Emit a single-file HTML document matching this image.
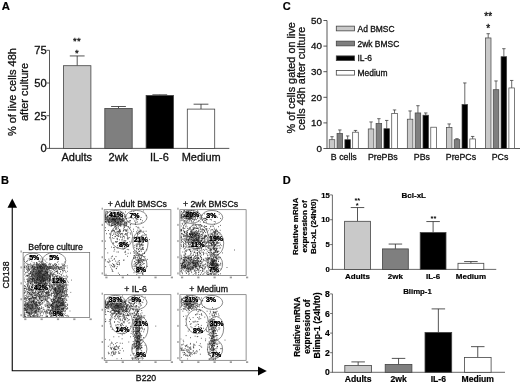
<!DOCTYPE html>
<html><head><meta charset="utf-8"><title>Figure</title>
<style>html,body{margin:0;padding:0;background:#fff;}svg{display:block}text{font-family:"Liberation Sans",Arial,sans-serif}</style>
</head><body>
<svg width="520" height="383" viewBox="0 0 520 383">
<rect width="520" height="383" fill="#fff"/>
<text x="1.80" y="10.40" font-size="11.3" text-anchor="start" font-weight="bold" fill="#000" stroke="#000" stroke-width="0.2" >A</text>
<line x1="49.50" y1="50.30" x2="49.50" y2="148.85" stroke="#444" stroke-width="0.9"/>
<line x1="49.50" y1="148.40" x2="229.30" y2="148.40" stroke="#444" stroke-width="0.9"/>
<line x1="46.50" y1="50.30" x2="49.50" y2="50.30" stroke="#444" stroke-width="0.9"/>
<text x="46.70" y="54.20" font-size="11.2" text-anchor="end" fill="#111" stroke="#111" stroke-width="0.3" >75</text>
<line x1="46.50" y1="83.00" x2="49.50" y2="83.00" stroke="#444" stroke-width="0.9"/>
<text x="46.70" y="86.90" font-size="11.2" text-anchor="end" fill="#111" stroke="#111" stroke-width="0.3" >50</text>
<line x1="46.50" y1="115.70" x2="49.50" y2="115.70" stroke="#444" stroke-width="0.9"/>
<text x="46.70" y="119.60" font-size="11.2" text-anchor="end" fill="#111" stroke="#111" stroke-width="0.3" >25</text>
<line x1="46.50" y1="148.40" x2="49.50" y2="148.40" stroke="#444" stroke-width="0.9"/>
<text x="46.70" y="152.30" font-size="11.2" text-anchor="end" fill="#111" stroke="#111" stroke-width="0.3" >0</text>
<text x="16.40" y="92.10" font-size="11" text-anchor="middle" transform="rotate(-90 16.40 92.10)" fill="#111" stroke="#111" stroke-width="0.3" >% of live cells 48h</text>
<text x="28.40" y="92.00" font-size="11" text-anchor="middle" transform="rotate(-90 28.40 92.00)" fill="#111" stroke="#111" stroke-width="0.3" >after culture</text>
<line x1="77.20" y1="65.70" x2="77.20" y2="55.95" stroke="#2a2a2a" stroke-width="0.8"/>
<line x1="69.80" y1="55.95" x2="84.60" y2="55.95" stroke="#2a2a2a" stroke-width="0.8"/>
<rect x="63.50" y="65.70" width="27.40" height="82.70" fill="#c9c9c9" stroke="#444" stroke-width="0.8"/>
<line x1="118.50" y1="108.40" x2="118.50" y2="106.50" stroke="#2a2a2a" stroke-width="0.8"/>
<line x1="111.10" y1="106.50" x2="125.90" y2="106.50" stroke="#2a2a2a" stroke-width="0.8"/>
<rect x="104.80" y="108.40" width="27.40" height="40.00" fill="#7f7f7f" stroke="#444" stroke-width="0.8"/>
<line x1="159.80" y1="95.40" x2="159.80" y2="94.80" stroke="#2a2a2a" stroke-width="0.8"/>
<line x1="152.40" y1="94.80" x2="167.20" y2="94.80" stroke="#2a2a2a" stroke-width="0.8"/>
<rect x="146.10" y="95.40" width="27.40" height="53.00" fill="#000" stroke="#444" stroke-width="0.8"/>
<line x1="201.00" y1="109.10" x2="201.00" y2="104.20" stroke="#2a2a2a" stroke-width="0.8"/>
<line x1="193.60" y1="104.20" x2="208.40" y2="104.20" stroke="#2a2a2a" stroke-width="0.8"/>
<rect x="187.30" y="109.10" width="27.40" height="39.30" fill="#fff" stroke="#444" stroke-width="0.8"/>
<text x="76.80" y="161.00" font-size="11" text-anchor="middle" fill="#111" stroke="#111" stroke-width="0.3" >Adults</text>
<text x="118.30" y="161.00" font-size="11" text-anchor="middle" fill="#111" stroke="#111" stroke-width="0.3" >2wk</text>
<text x="159.40" y="161.00" font-size="11" text-anchor="middle" fill="#111" stroke="#111" stroke-width="0.3" >IL-6</text>
<text x="201.20" y="161.00" font-size="11" text-anchor="middle" fill="#111" stroke="#111" stroke-width="0.3" >Medium</text>
<text x="77.10" y="43.70" font-size="9.5" text-anchor="middle" fill="#111" stroke="#111" stroke-width="0.3" letter-spacing="0.4">**</text>
<text x="76.90" y="55.80" font-size="9.5" text-anchor="middle" fill="#111" stroke="#111" stroke-width="0.3" >*</text>
<text x="282.70" y="10.30" font-size="11" text-anchor="start" font-weight="bold" fill="#000" stroke="#000" stroke-width="0.2" >C</text>
<line x1="327.00" y1="20.50" x2="327.00" y2="148.95" stroke="#444" stroke-width="0.9"/>
<line x1="327.00" y1="148.50" x2="520.00" y2="148.50" stroke="#444" stroke-width="0.9"/>
<line x1="323.40" y1="20.50" x2="327.00" y2="20.50" stroke="#444" stroke-width="0.9"/>
<text x="322.00" y="23.70" font-size="9.8" text-anchor="end" fill="#111" stroke="#111" stroke-width="0.3" >50</text>
<line x1="323.40" y1="46.10" x2="327.00" y2="46.10" stroke="#444" stroke-width="0.9"/>
<text x="322.00" y="49.30" font-size="9.8" text-anchor="end" fill="#111" stroke="#111" stroke-width="0.3" >40</text>
<line x1="323.40" y1="71.70" x2="327.00" y2="71.70" stroke="#444" stroke-width="0.9"/>
<text x="322.00" y="74.90" font-size="9.8" text-anchor="end" fill="#111" stroke="#111" stroke-width="0.3" >30</text>
<line x1="323.40" y1="97.30" x2="327.00" y2="97.30" stroke="#444" stroke-width="0.9"/>
<text x="322.00" y="100.50" font-size="9.8" text-anchor="end" fill="#111" stroke="#111" stroke-width="0.3" >20</text>
<line x1="323.40" y1="122.90" x2="327.00" y2="122.90" stroke="#444" stroke-width="0.9"/>
<text x="322.00" y="126.10" font-size="9.8" text-anchor="end" fill="#111" stroke="#111" stroke-width="0.3" >10</text>
<line x1="323.40" y1="148.50" x2="327.00" y2="148.50" stroke="#444" stroke-width="0.9"/>
<text x="322.00" y="151.70" font-size="9.8" text-anchor="end" fill="#111" stroke="#111" stroke-width="0.3" >0</text>
<text x="294.60" y="77.80" font-size="10.9" text-anchor="middle" transform="rotate(-90 294.60 77.80)" fill="#111" stroke="#111" stroke-width="0.3" >% of cells gated on live</text>
<text x="305.50" y="78.40" font-size="10.9" text-anchor="middle" transform="rotate(-90 305.50 78.40)" fill="#111" stroke="#111" stroke-width="0.3" >cells 48h after culture</text>
<rect x="336.3" y="26.15" width="18.2" height="4.7" fill="#c9c9c9" stroke="#444" stroke-width="0.8"/>
<text x="357.50" y="31.50" font-size="8.45" text-anchor="start" fill="#111" stroke="#111" stroke-width="0.3" >Ad BMSC</text>
<rect x="336.3" y="41.15" width="18.2" height="4.7" fill="#7f7f7f" stroke="#444" stroke-width="0.8"/>
<text x="357.50" y="46.50" font-size="8.45" text-anchor="start" fill="#111" stroke="#111" stroke-width="0.3" >2wk BMSC</text>
<rect x="336.3" y="55.90" width="18.2" height="4.7" fill="#000" stroke="#444" stroke-width="0.8"/>
<text x="357.50" y="61.25" font-size="8.45" text-anchor="start" fill="#111" stroke="#111" stroke-width="0.3" >IL-6</text>
<rect x="336.3" y="70.40" width="18.2" height="4.7" fill="#fff" stroke="#444" stroke-width="0.8"/>
<text x="357.50" y="75.75" font-size="8.45" text-anchor="start" fill="#111" stroke="#111" stroke-width="0.3" >Medium</text>
<line x1="332.00" y1="139.70" x2="332.00" y2="136.70" stroke="#2a2a2a" stroke-width="0.7"/>
<line x1="330.30" y1="136.70" x2="333.70" y2="136.70" stroke="#2a2a2a" stroke-width="0.7"/>
<rect x="329.20" y="139.70" width="5.60" height="8.80" fill="#c9c9c9" stroke="#444" stroke-width="0.7"/>
<line x1="339.83" y1="133.45" x2="339.83" y2="129.95" stroke="#2a2a2a" stroke-width="0.7"/>
<line x1="338.13" y1="129.95" x2="341.53" y2="129.95" stroke="#2a2a2a" stroke-width="0.7"/>
<rect x="337.03" y="133.45" width="5.60" height="15.05" fill="#7f7f7f" stroke="#444" stroke-width="0.7"/>
<line x1="347.66" y1="139.70" x2="347.66" y2="135.95" stroke="#2a2a2a" stroke-width="0.7"/>
<line x1="345.96" y1="135.95" x2="349.36" y2="135.95" stroke="#2a2a2a" stroke-width="0.7"/>
<rect x="344.86" y="139.70" width="5.60" height="8.80" fill="#000" stroke="#444" stroke-width="0.7"/>
<line x1="355.49" y1="132.20" x2="355.49" y2="130.45" stroke="#2a2a2a" stroke-width="0.7"/>
<line x1="353.79" y1="130.45" x2="357.19" y2="130.45" stroke="#2a2a2a" stroke-width="0.7"/>
<rect x="352.69" y="132.20" width="5.60" height="16.30" fill="#fff" stroke="#444" stroke-width="0.7"/>
<line x1="371.05" y1="128.95" x2="371.05" y2="121.95" stroke="#2a2a2a" stroke-width="0.7"/>
<line x1="369.35" y1="121.95" x2="372.75" y2="121.95" stroke="#2a2a2a" stroke-width="0.7"/>
<rect x="368.25" y="128.95" width="5.60" height="19.55" fill="#c9c9c9" stroke="#444" stroke-width="0.7"/>
<line x1="378.88" y1="123.45" x2="378.88" y2="118.70" stroke="#2a2a2a" stroke-width="0.7"/>
<line x1="377.18" y1="118.70" x2="380.58" y2="118.70" stroke="#2a2a2a" stroke-width="0.7"/>
<rect x="376.08" y="123.45" width="5.60" height="25.05" fill="#7f7f7f" stroke="#444" stroke-width="0.7"/>
<line x1="386.71" y1="128.70" x2="386.71" y2="120.45" stroke="#2a2a2a" stroke-width="0.7"/>
<line x1="385.01" y1="120.45" x2="388.41" y2="120.45" stroke="#2a2a2a" stroke-width="0.7"/>
<rect x="383.91" y="128.70" width="5.60" height="19.80" fill="#000" stroke="#444" stroke-width="0.7"/>
<line x1="394.54" y1="113.45" x2="394.54" y2="109.95" stroke="#2a2a2a" stroke-width="0.7"/>
<line x1="392.84" y1="109.95" x2="396.24" y2="109.95" stroke="#2a2a2a" stroke-width="0.7"/>
<rect x="391.74" y="113.45" width="5.60" height="35.05" fill="#fff" stroke="#444" stroke-width="0.7"/>
<line x1="410.10" y1="119.20" x2="410.10" y2="110.95" stroke="#2a2a2a" stroke-width="0.7"/>
<line x1="408.40" y1="110.95" x2="411.80" y2="110.95" stroke="#2a2a2a" stroke-width="0.7"/>
<rect x="407.30" y="119.20" width="5.60" height="29.30" fill="#c9c9c9" stroke="#444" stroke-width="0.7"/>
<line x1="417.93" y1="112.95" x2="417.93" y2="105.70" stroke="#2a2a2a" stroke-width="0.7"/>
<line x1="416.23" y1="105.70" x2="419.63" y2="105.70" stroke="#2a2a2a" stroke-width="0.7"/>
<rect x="415.13" y="112.95" width="5.60" height="35.55" fill="#7f7f7f" stroke="#444" stroke-width="0.7"/>
<line x1="425.76" y1="115.20" x2="425.76" y2="112.95" stroke="#2a2a2a" stroke-width="0.7"/>
<line x1="424.06" y1="112.95" x2="427.46" y2="112.95" stroke="#2a2a2a" stroke-width="0.7"/>
<rect x="422.96" y="115.20" width="5.60" height="33.30" fill="#000" stroke="#444" stroke-width="0.7"/>
<rect x="430.79" y="127.20" width="5.60" height="21.30" fill="#fff" stroke="#444" stroke-width="0.7"/>
<line x1="449.15" y1="127.45" x2="449.15" y2="123.95" stroke="#2a2a2a" stroke-width="0.7"/>
<line x1="447.45" y1="123.95" x2="450.85" y2="123.95" stroke="#2a2a2a" stroke-width="0.7"/>
<rect x="446.35" y="127.45" width="5.60" height="21.05" fill="#c9c9c9" stroke="#444" stroke-width="0.7"/>
<line x1="456.98" y1="139.70" x2="456.98" y2="138.70" stroke="#2a2a2a" stroke-width="0.7"/>
<line x1="455.28" y1="138.70" x2="458.68" y2="138.70" stroke="#2a2a2a" stroke-width="0.7"/>
<rect x="454.18" y="139.70" width="5.60" height="8.80" fill="#7f7f7f" stroke="#444" stroke-width="0.7"/>
<line x1="464.81" y1="104.45" x2="464.81" y2="82.95" stroke="#2a2a2a" stroke-width="0.7"/>
<line x1="463.11" y1="82.95" x2="466.51" y2="82.95" stroke="#2a2a2a" stroke-width="0.7"/>
<rect x="462.01" y="104.45" width="5.60" height="44.05" fill="#000" stroke="#444" stroke-width="0.7"/>
<line x1="472.64" y1="138.95" x2="472.64" y2="136.45" stroke="#2a2a2a" stroke-width="0.7"/>
<line x1="470.94" y1="136.45" x2="474.34" y2="136.45" stroke="#2a2a2a" stroke-width="0.7"/>
<rect x="469.84" y="138.95" width="5.60" height="9.55" fill="#fff" stroke="#444" stroke-width="0.7"/>
<line x1="488.20" y1="37.95" x2="488.20" y2="33.70" stroke="#2a2a2a" stroke-width="0.7"/>
<line x1="486.50" y1="33.70" x2="489.90" y2="33.70" stroke="#2a2a2a" stroke-width="0.7"/>
<rect x="485.40" y="37.95" width="5.60" height="110.55" fill="#c9c9c9" stroke="#444" stroke-width="0.7"/>
<line x1="496.03" y1="89.70" x2="496.03" y2="80.95" stroke="#2a2a2a" stroke-width="0.7"/>
<line x1="494.33" y1="80.95" x2="497.73" y2="80.95" stroke="#2a2a2a" stroke-width="0.7"/>
<rect x="493.23" y="89.70" width="5.60" height="58.80" fill="#7f7f7f" stroke="#444" stroke-width="0.7"/>
<line x1="503.86" y1="56.70" x2="503.86" y2="48.70" stroke="#2a2a2a" stroke-width="0.7"/>
<line x1="502.16" y1="48.70" x2="505.56" y2="48.70" stroke="#2a2a2a" stroke-width="0.7"/>
<rect x="501.06" y="56.70" width="5.60" height="91.80" fill="#000" stroke="#444" stroke-width="0.7"/>
<line x1="511.69" y1="87.95" x2="511.69" y2="80.45" stroke="#2a2a2a" stroke-width="0.7"/>
<line x1="509.99" y1="80.45" x2="513.39" y2="80.45" stroke="#2a2a2a" stroke-width="0.7"/>
<rect x="508.89" y="87.95" width="5.60" height="60.55" fill="#fff" stroke="#444" stroke-width="0.7"/>
<text x="343.80" y="160.40" font-size="8.8" text-anchor="middle" fill="#111" stroke="#111" stroke-width="0.3" >B cells</text>
<text x="382.85" y="160.40" font-size="8.8" text-anchor="middle" fill="#111" stroke="#111" stroke-width="0.3" >PrePBs</text>
<text x="421.90" y="160.40" font-size="8.8" text-anchor="middle" fill="#111" stroke="#111" stroke-width="0.3" >PBs</text>
<text x="460.95" y="160.40" font-size="8.8" text-anchor="middle" fill="#111" stroke="#111" stroke-width="0.3" >PrePCs</text>
<text x="500.00" y="160.40" font-size="8.8" text-anchor="middle" fill="#111" stroke="#111" stroke-width="0.3" >PCs</text>
<text x="488.25" y="20.20" font-size="10" text-anchor="middle" fill="#111" stroke="#111" stroke-width="0.3" >**</text>
<text x="488.25" y="32.20" font-size="10" text-anchor="middle" fill="#111" stroke="#111" stroke-width="0.3" >*</text>
<text x="282.70" y="184.40" font-size="11" text-anchor="start" font-weight="bold" fill="#000" stroke="#000" stroke-width="0.2" >D</text>
<line x1="332.40" y1="194.90" x2="332.40" y2="269.80" stroke="#444" stroke-width="0.8"/>
<line x1="332.40" y1="269.40" x2="496.25" y2="269.40" stroke="#444" stroke-width="0.8"/>
<line x1="330.10" y1="194.90" x2="332.40" y2="194.90" stroke="#444" stroke-width="0.75"/>
<text x="329.80" y="197.57" font-size="7.7" text-anchor="end" font-weight="bold" fill="#000" stroke="#000" stroke-width="0.2" >15</text>
<line x1="330.10" y1="219.73" x2="332.40" y2="219.73" stroke="#444" stroke-width="0.75"/>
<text x="329.80" y="222.41" font-size="7.7" text-anchor="end" font-weight="bold" fill="#000" stroke="#000" stroke-width="0.2" >10</text>
<line x1="330.10" y1="244.57" x2="332.40" y2="244.57" stroke="#444" stroke-width="0.75"/>
<text x="329.80" y="247.24" font-size="7.7" text-anchor="end" font-weight="bold" fill="#000" stroke="#000" stroke-width="0.2" >5</text>
<line x1="330.10" y1="269.40" x2="332.40" y2="269.40" stroke="#444" stroke-width="0.75"/>
<text x="329.80" y="272.07" font-size="7.7" text-anchor="end" font-weight="bold" fill="#000" stroke="#000" stroke-width="0.2" >0</text>
<text x="297.90" y="226.40" font-size="8" text-anchor="middle" font-weight="bold" transform="rotate(-90 297.90 226.40)" fill="#000" stroke="#000" stroke-width="0.2" >Relative mRNA</text>
<text x="306.80" y="226.40" font-size="8" text-anchor="middle" font-weight="bold" transform="rotate(-90 306.80 226.40)" fill="#000" stroke="#000" stroke-width="0.2" >expression of</text>
<text x="315.60" y="226.40" font-size="8" text-anchor="middle" font-weight="bold" transform="rotate(-90 315.60 226.40)" fill="#000" stroke="#000" stroke-width="0.2" >Bcl-xL (24h/t0)</text>
<text x="413.75" y="198.20" font-size="8" text-anchor="middle" font-weight="bold" fill="#000" stroke="#000" stroke-width="0.2" >Bcl-xL</text>
<line x1="357.50" y1="221.30" x2="357.50" y2="207.55" stroke="#2a2a2a" stroke-width="0.8"/>
<line x1="350.75" y1="207.55" x2="364.25" y2="207.55" stroke="#2a2a2a" stroke-width="0.8"/>
<rect x="344.60" y="221.30" width="25.80" height="48.10" fill="#c9c9c9" stroke="#444" stroke-width="0.8"/>
<text x="357.50" y="279.30" font-size="8" text-anchor="middle" font-weight="bold" fill="#000" stroke="#000" stroke-width="0.2" >Adults</text>
<line x1="395.40" y1="248.90" x2="395.40" y2="244.05" stroke="#2a2a2a" stroke-width="0.8"/>
<line x1="388.65" y1="244.05" x2="402.15" y2="244.05" stroke="#2a2a2a" stroke-width="0.8"/>
<rect x="382.50" y="248.90" width="25.80" height="20.50" fill="#7f7f7f" stroke="#444" stroke-width="0.8"/>
<text x="395.40" y="279.30" font-size="8" text-anchor="middle" font-weight="bold" fill="#000" stroke="#000" stroke-width="0.2" >2wk</text>
<line x1="433.10" y1="232.55" x2="433.10" y2="221.55" stroke="#2a2a2a" stroke-width="0.8"/>
<line x1="426.35" y1="221.55" x2="439.85" y2="221.55" stroke="#2a2a2a" stroke-width="0.8"/>
<rect x="420.20" y="232.55" width="25.80" height="36.85" fill="#000" stroke="#444" stroke-width="0.8"/>
<text x="433.10" y="279.30" font-size="8" text-anchor="middle" font-weight="bold" fill="#000" stroke="#000" stroke-width="0.2" >IL-6</text>
<line x1="470.90" y1="263.30" x2="470.90" y2="261.55" stroke="#2a2a2a" stroke-width="0.8"/>
<line x1="464.15" y1="261.55" x2="477.65" y2="261.55" stroke="#2a2a2a" stroke-width="0.8"/>
<rect x="458.00" y="263.30" width="25.80" height="6.10" fill="#fff" stroke="#444" stroke-width="0.8"/>
<text x="470.90" y="279.30" font-size="8" text-anchor="middle" font-weight="bold" fill="#000" stroke="#000" stroke-width="0.2" >Medium</text>
<text x="357.30" y="203.30" font-size="7.5" text-anchor="middle" font-weight="bold" fill="#000"  stroke-width="0">**</text>
<text x="357.30" y="208.00" font-size="7.5" text-anchor="middle" font-weight="bold" fill="#000"  stroke-width="0">*</text>
<text x="433.50" y="221.00" font-size="7.5" text-anchor="middle" font-weight="bold" fill="#000"  stroke-width="0">**</text>
<line x1="332.40" y1="293.90" x2="332.40" y2="372.70" stroke="#444" stroke-width="0.8"/>
<line x1="332.40" y1="372.30" x2="505.00" y2="372.30" stroke="#444" stroke-width="0.8"/>
<line x1="330.10" y1="293.90" x2="332.40" y2="293.90" stroke="#444" stroke-width="0.75"/>
<text x="329.80" y="296.90" font-size="8.6" text-anchor="end" font-weight="bold" fill="#000" stroke="#000" stroke-width="0.2" >8</text>
<line x1="330.10" y1="313.50" x2="332.40" y2="313.50" stroke="#444" stroke-width="0.75"/>
<text x="329.80" y="316.50" font-size="8.6" text-anchor="end" font-weight="bold" fill="#000" stroke="#000" stroke-width="0.2" >6</text>
<line x1="330.10" y1="333.10" x2="332.40" y2="333.10" stroke="#444" stroke-width="0.75"/>
<text x="329.80" y="336.10" font-size="8.6" text-anchor="end" font-weight="bold" fill="#000" stroke="#000" stroke-width="0.2" >4</text>
<line x1="330.10" y1="352.70" x2="332.40" y2="352.70" stroke="#444" stroke-width="0.75"/>
<text x="329.80" y="355.70" font-size="8.6" text-anchor="end" font-weight="bold" fill="#000" stroke="#000" stroke-width="0.2" >2</text>
<line x1="330.10" y1="372.30" x2="332.40" y2="372.30" stroke="#444" stroke-width="0.75"/>
<text x="329.80" y="375.30" font-size="8.6" text-anchor="end" font-weight="bold" fill="#000" stroke="#000" stroke-width="0.2" >0</text>
<text x="300.00" y="326.80" font-size="8.4" text-anchor="middle" font-weight="bold" transform="rotate(-90 300.00 326.80)" fill="#000" stroke="#000" stroke-width="0.2" >Relative mRNA</text>
<text x="310.00" y="326.60" font-size="8.4" text-anchor="middle" font-weight="bold" transform="rotate(-90 310.00 326.60)" fill="#000" stroke="#000" stroke-width="0.2" >expression of</text>
<text x="320.50" y="325.40" font-size="8.8" text-anchor="middle" font-weight="bold" transform="rotate(-90 320.50 325.40)" fill="#000" stroke="#000" stroke-width="0.2" >Blimp-1 (24h/t0)</text>
<text x="417.50" y="293.75" font-size="7.8" text-anchor="middle" font-weight="bold" fill="#000" stroke="#000" stroke-width="0.2" >Blimp-1</text>
<line x1="358.15" y1="365.40" x2="358.15" y2="361.90" stroke="#2a2a2a" stroke-width="0.8"/>
<line x1="351.40" y1="361.90" x2="364.90" y2="361.90" stroke="#2a2a2a" stroke-width="0.8"/>
<rect x="344.80" y="365.40" width="26.70" height="6.90" fill="#c9c9c9" stroke="#444" stroke-width="0.8"/>
<text x="358.15" y="382.00" font-size="8.6" text-anchor="middle" font-weight="bold" fill="#000" stroke="#000" stroke-width="0.2" >Adults</text>
<line x1="398.55" y1="364.40" x2="398.55" y2="358.40" stroke="#2a2a2a" stroke-width="0.8"/>
<line x1="391.80" y1="358.40" x2="405.30" y2="358.40" stroke="#2a2a2a" stroke-width="0.8"/>
<rect x="385.20" y="364.40" width="26.70" height="7.90" fill="#7f7f7f" stroke="#444" stroke-width="0.8"/>
<text x="398.55" y="382.00" font-size="8.6" text-anchor="middle" font-weight="bold" fill="#000" stroke="#000" stroke-width="0.2" >2wk</text>
<line x1="438.35" y1="332.40" x2="438.35" y2="308.90" stroke="#2a2a2a" stroke-width="0.8"/>
<line x1="431.60" y1="308.90" x2="445.10" y2="308.90" stroke="#2a2a2a" stroke-width="0.8"/>
<rect x="425.00" y="332.40" width="26.70" height="39.90" fill="#000" stroke="#444" stroke-width="0.8"/>
<text x="438.35" y="382.00" font-size="8.6" text-anchor="middle" font-weight="bold" fill="#000" stroke="#000" stroke-width="0.2" >IL-6</text>
<line x1="477.75" y1="357.40" x2="477.75" y2="346.65" stroke="#2a2a2a" stroke-width="0.8"/>
<line x1="471.00" y1="346.65" x2="484.50" y2="346.65" stroke="#2a2a2a" stroke-width="0.8"/>
<rect x="464.40" y="357.40" width="26.70" height="14.90" fill="#fff" stroke="#444" stroke-width="0.8"/>
<text x="477.75" y="382.00" font-size="8.6" text-anchor="middle" font-weight="bold" fill="#000" stroke="#000" stroke-width="0.2" >Medium</text>
<text x="1.00" y="184.40" font-size="11" text-anchor="start" font-weight="bold" fill="#000" stroke="#000" stroke-width="0.2" >B</text>
<path d="M12.25 207 V370.8 H258.5" fill="none" stroke="#000" stroke-width="1.1"/>
<path d="M12.25 198.5 L7.5 207.8 H17 Z" fill="#000"/>
<path d="M266.8 370.9 L258 366.6 V375.6 Z" fill="#000"/>
<text x="9.30" y="275.00" font-size="8.7" text-anchor="middle" transform="rotate(-90 9.30 275.00)" fill="#111" stroke="#111" stroke-width="0.3" >CD138</text>
<text x="146.00" y="381.20" font-size="8.7" text-anchor="middle" fill="#111" stroke="#111" stroke-width="0.3" >B220</text>
<defs><radialGradient id="rg"><stop offset="0" stop-color="#585858" stop-opacity="1"/><stop offset="0.7" stop-color="#7c7c7c" stop-opacity="0.9"/><stop offset="1" stop-color="#999" stop-opacity="0"/></radialGradient></defs>
<clipPath id="c23_252"><rect x="23.60" y="253.00" width="65.60" height="63.90"/></clipPath>
<g clip-path="url(#c23_252)">
<ellipse cx="39.60" cy="275.50" rx="9.5" ry="10.5" fill="url(#rg)" opacity="1" transform="rotate(0 39.60 275.50)"/>
<ellipse cx="39.60" cy="275.50" rx="4.28" ry="4.73" fill="none" stroke="#444" stroke-width="0.35" stroke-dasharray="1.2 0.8" opacity="0.80" transform="rotate(0 39.60 275.50)"/>
<ellipse cx="39.60" cy="275.50" rx="6.65" ry="7.35" fill="none" stroke="#444" stroke-width="0.35" stroke-dasharray="1.2 0.8" opacity="0.80" transform="rotate(0 39.60 275.50)"/>
<ellipse cx="59.60" cy="289.50" rx="4.6" ry="9.5" fill="url(#rg)" opacity="0.9" transform="rotate(0 59.60 289.50)"/>
<ellipse cx="59.60" cy="289.50" rx="2.07" ry="4.28" fill="none" stroke="#444" stroke-width="0.35" stroke-dasharray="1.2 0.8" opacity="0.72" transform="rotate(0 59.60 289.50)"/>
<ellipse cx="59.60" cy="289.50" rx="3.22" ry="6.65" fill="none" stroke="#444" stroke-width="0.35" stroke-dasharray="1.2 0.8" opacity="0.72" transform="rotate(0 59.60 289.50)"/>
<ellipse cx="31.10" cy="308.00" rx="6.5" ry="7" fill="url(#rg)" opacity="0.85" transform="rotate(0 31.10 308.00)"/>
<ellipse cx="31.10" cy="308.00" rx="2.93" ry="3.15" fill="none" stroke="#444" stroke-width="0.35" stroke-dasharray="1.2 0.8" opacity="0.68" transform="rotate(0 31.10 308.00)"/>
<ellipse cx="31.10" cy="308.00" rx="4.55" ry="4.90" fill="none" stroke="#444" stroke-width="0.35" stroke-dasharray="1.2 0.8" opacity="0.68" transform="rotate(0 31.10 308.00)"/>
<ellipse cx="57.60" cy="307.00" rx="6.5" ry="7" fill="url(#rg)" opacity="0.9" transform="rotate(0 57.60 307.00)"/>
<ellipse cx="57.60" cy="307.00" rx="2.93" ry="3.15" fill="none" stroke="#444" stroke-width="0.35" stroke-dasharray="1.2 0.8" opacity="0.72" transform="rotate(0 57.60 307.00)"/>
<ellipse cx="57.60" cy="307.00" rx="4.55" ry="4.90" fill="none" stroke="#444" stroke-width="0.35" stroke-dasharray="1.2 0.8" opacity="0.72" transform="rotate(0 57.60 307.00)"/>
<path d="M30.4 280.6h.01M46.4 273.0h.01M27.6 285.4h.01M50.0 278.9h.01M36.0 285.8h.01M42.7 282.7h.01M41.9 266.6h.01M39.9 283.3h.01M28.5 273.6h.01M39.0 270.6h.01M35.0 266.6h.01M29.5 270.1h.01M36.3 284.0h.01M33.6 271.1h.01M29.5 278.6h.01M47.5 279.0h.01M29.2 260.4h.01M31.0 283.2h.01M47.2 268.1h.01M32.4 285.2h.01M47.7 272.8h.01M32.0 274.7h.01M38.8 273.7h.01M41.7 263.5h.01M45.8 280.7h.01M38.8 276.5h.01M49.7 260.1h.01M50.5 273.9h.01M44.3 284.4h.01M30.2 273.4h.01M37.7 279.2h.01M50.3 274.4h.01M43.1 265.1h.01M45.4 273.7h.01M53.3 274.4h.01M48.1 268.8h.01M31.7 276.6h.01M47.7 269.9h.01M40.8 270.3h.01M47.9 272.3h.01M47.8 269.4h.01M45.8 284.4h.01M47.6 274.4h.01M54.2 276.9h.01M35.6 269.6h.01M29.4 280.4h.01M29.3 269.0h.01M28.8 281.9h.01M49.5 275.8h.01M30.5 271.9h.01M38.0 285.7h.01M47.6 272.2h.01M49.0 265.5h.01M39.2 283.2h.01M46.9 279.5h.01M42.1 263.0h.01M44.5 283.4h.01M38.0 272.7h.01M43.4 274.6h.01M34.5 279.6h.01M35.9 284.2h.01M37.6 275.3h.01M43.1 259.9h.01M28.9 281.7h.01M45.8 271.7h.01M46.8 272.3h.01M40.3 273.1h.01M49.6 280.4h.01M48.5 276.4h.01M42.0 274.4h.01M33.7 278.4h.01M44.6 274.9h.01M37.5 267.3h.01M45.6 265.3h.01M35.5 277.1h.01M30.6 273.7h.01M34.8 267.5h.01M38.6 274.1h.01M45.6 270.2h.01M38.6 264.6h.01M44.7 266.2h.01M43.0 268.5h.01M46.1 269.8h.01M33.8 269.0h.01M31.3 276.7h.01M40.4 267.2h.01M39.4 285.4h.01M36.7 267.1h.01M36.9 276.1h.01M44.4 291.3h.01M45.7 261.2h.01M43.8 281.2h.01M46.5 283.7h.01M28.1 274.8h.01M38.4 271.3h.01M41.1 272.9h.01M36.9 262.9h.01M46.9 275.4h.01M42.0 276.3h.01M36.7 289.2h.01M41.6 280.9h.01M47.1 268.2h.01M31.3 265.8h.01M48.1 278.5h.01M30.8 278.5h.01M55.0 264.3h.01M46.6 269.0h.01M37.1 291.0h.01M49.8 272.2h.01M36.7 263.2h.01M32.4 276.8h.01M45.1 275.5h.01M44.5 265.0h.01M47.8 272.1h.01M34.0 267.3h.01M40.4 271.2h.01M39.5 284.0h.01M32.4 274.3h.01M47.2 273.3h.01M39.9 290.8h.01M31.4 275.6h.01M42.7 285.7h.01M44.3 274.5h.01M35.8 289.7h.01M32.5 279.9h.01M43.0 291.3h.01M30.4 283.5h.01M46.2 269.0h.01M52.3 275.3h.01M37.9 278.9h.01M31.4 287.5h.01M49.7 286.4h.01M41.0 280.9h.01M34.4 276.5h.01M41.4 280.8h.01M45.2 276.7h.01M51.0 280.7h.01M39.2 285.4h.01M47.0 273.3h.01M38.9 285.0h.01M40.0 262.1h.01M30.8 264.8h.01M52.7 271.5h.01M27.0 276.1h.01M43.7 285.4h.01M38.9 264.4h.01M40.7 267.4h.01M50.9 274.0h.01M33.6 269.3h.01M39.5 263.9h.01M38.2 272.9h.01M39.7 279.0h.01M42.5 267.3h.01M44.0 265.1h.01M42.2 278.1h.01M28.6 268.6h.01M31.9 284.2h.01M33.1 270.4h.01M42.4 285.7h.01M36.0 280.4h.01M44.3 271.8h.01M30.1 282.4h.01M32.1 272.8h.01M38.2 282.6h.01M44.6 279.9h.01M53.6 269.8h.01M37.8 275.7h.01M30.5 283.9h.01M32.1 267.8h.01M44.8 284.4h.01M40.6 281.5h.01M39.7 273.8h.01M45.1 281.0h.01M32.3 272.9h.01M32.4 279.5h.01M40.4 265.1h.01M47.2 277.7h.01M47.4 280.3h.01M34.2 275.4h.01M46.7 284.4h.01M48.5 275.3h.01M41.0 271.9h.01M25.8 276.3h.01M39.7 272.0h.01M38.0 286.4h.01M43.6 281.1h.01M46.4 287.4h.01M34.6 264.0h.01M44.3 284.7h.01M32.5 284.9h.01M32.8 272.8h.01M41.5 273.6h.01M38.0 293.7h.01M49.3 278.8h.01M39.4 284.1h.01M46.9 274.7h.01M33.6 278.5h.01M33.3 271.5h.01M41.8 283.5h.01M36.7 276.0h.01M32.4 266.2h.01M47.5 276.1h.01M27.5 280.4h.01M39.2 271.0h.01M46.5 276.1h.01M31.7 275.1h.01M39.1 277.3h.01M41.4 266.2h.01M50.2 276.0h.01M39.6 266.3h.01M44.5 267.7h.01M30.7 263.4h.01M41.9 287.6h.01M39.1 261.1h.01M39.5 270.2h.01M37.7 279.4h.01M33.8 268.8h.01M31.8 261.1h.01M29.3 277.7h.01M36.1 264.3h.01M31.4 279.2h.01M38.0 273.8h.01M33.9 268.6h.01M33.0 283.9h.01M44.5 264.0h.01M49.7 280.4h.01M51.0 268.1h.01M50.0 278.0h.01M42.6 267.6h.01M43.1 267.9h.01M37.8 284.8h.01M36.3 279.4h.01M28.9 275.2h.01M30.9 279.5h.01M34.7 283.2h.01M35.9 274.5h.01M48.2 281.5h.01M40.8 259.0h.01M33.6 284.8h.01M38.7 289.9h.01M48.1 280.6h.01M36.4 265.5h.01M30.5 283.3h.01M49.5 282.0h.01M30.6 273.5h.01M39.7 266.9h.01M44.1 268.1h.01M40.7 267.7h.01M43.9 280.3h.01M36.5 264.4h.01M37.9 278.9h.01M39.3 272.7h.01M43.9 279.0h.01M42.1 266.1h.01M32.1 281.1h.01M37.6 263.3h.01M40.9 266.3h.01M44.6 268.3h.01M41.4 266.2h.01M32.2 277.8h.01M32.7 280.4h.01M44.7 284.4h.01M31.8 274.8h.01M32.3 281.9h.01M51.0 287.5h.01M32.1 279.9h.01M38.9 261.3h.01M35.8 274.8h.01M41.3 264.7h.01M41.7 290.8h.01M34.9 282.3h.01M43.8 265.5h.01M47.0 283.5h.01M33.0 284.8h.01M34.4 268.8h.01M31.4 286.0h.01M40.8 273.9h.01M47.6 269.6h.01M46.2 284.2h.01M47.3 272.9h.01M40.6 285.8h.01M37.8 278.3h.01M40.5 272.0h.01M32.1 268.9h.01M33.9 264.4h.01M42.1 264.4h.01M42.3 284.2h.01M30.7 273.6h.01M29.1 280.2h.01M32.8 275.6h.01M50.1 276.0h.01M34.4 262.8h.01M32.1 290.4h.01M33.3 275.0h.01M48.2 277.5h.01M36.1 271.6h.01M33.4 279.1h.01M36.9 286.3h.01M24.7 274.8h.01M34.1 266.7h.01M32.9 271.1h.01M46.2 271.6h.01M34.3 266.6h.01M46.0 271.1h.01M33.9 269.9h.01M37.2 267.9h.01M30.6 278.2h.01M41.5 262.4h.01M36.7 270.7h.01M32.5 279.1h.01M42.3 276.2h.01M28.6 269.4h.01M28.7 267.8h.01M45.9 280.7h.01M47.9 275.8h.01M49.9 286.3h.01M49.0 281.9h.01M40.0 285.2h.01M37.1 264.0h.01M38.1 269.1h.01M39.2 291.0h.01M33.7 266.5h.01M45.1 285.8h.01M45.6 284.0h.01M34.4 282.0h.01M42.6 261.4h.01M53.4 281.5h.01M36.6 264.7h.01M35.9 282.6h.01M49.9 273.9h.01M30.2 267.9h.01M44.2 264.0h.01M49.6 278.5h.01M43.8 264.3h.01M35.6 273.4h.01M42.5 267.0h.01M30.3 272.0h.01M42.4 285.0h.01M39.3 285.5h.01M42.9 265.8h.01M40.4 283.4h.01M48.7 268.0h.01M57.7 281.2h.01M56.0 279.3h.01M38.9 285.9h.01M27.7 282.0h.01M40.7 264.5h.01M46.3 277.9h.01M26.7 279.3h.01M37.4 277.3h.01M47.5 273.1h.01M56.2 271.5h.01M32.5 285.9h.01M48.3 269.0h.01M48.8 278.6h.01M37.6 267.1h.01M40.0 261.3h.01M40.1 277.0h.01M42.0 289.2h.01M47.3 266.2h.01M49.1 270.5h.01M42.0 279.5h.01M34.7 287.3h.01M51.1 286.4h.01M50.5 280.0h.01M28.5 289.4h.01M52.1 275.3h.01M43.3 278.4h.01M47.9 278.9h.01M35.5 291.5h.01M49.5 276.6h.01M28.5 280.7h.01M41.0 283.2h.01M46.0 279.8h.01M33.0 269.4h.01M42.3 268.2h.01M32.2 280.7h.01M49.0 279.2h.01M34.2 285.4h.01M44.9 271.8h.01M39.2 279.3h.01M37.4 264.7h.01M32.9 282.3h.01M50.0 280.1h.01M42.9 278.2h.01M48.5 282.8h.01M30.4 269.0h.01M43.9 281.7h.01M39.5 271.9h.01M48.5 271.8h.01M25.3 282.2h.01M43.7 263.0h.01M43.8 264.8h.01M45.9 277.9h.01M42.6 275.9h.01M41.7 261.6h.01M32.9 267.4h.01M48.1 267.2h.01M47.3 277.3h.01M38.8 284.5h.01M38.6 282.9h.01M27.3 281.5h.01M45.0 281.0h.01M45.5 279.5h.01M42.2 284.5h.01M35.1 275.8h.01M36.9 285.4h.01M40.7 277.4h.01M31.3 279.1h.01M42.6 278.2h.01M34.6 282.7h.01M31.6 267.7h.01M39.2 265.4h.01M30.1 277.1h.01M36.5 262.6h.01M47.4 284.2h.01M49.0 275.8h.01M34.1 271.9h.01M44.8 269.6h.01M42.1 264.1h.01M37.5 274.2h.01M34.9 285.8h.01M46.9 262.6h.01M41.2 281.6h.01M27.2 275.7h.01M40.6 268.1h.01M31.7 287.2h.01M29.5 270.0h.01M26.6 261.4h.01M35.9 281.6h.01M41.9 280.1h.01M46.2 269.9h.01M46.8 259.0h.01M35.5 272.1h.01M44.3 275.6h.01M32.6 270.9h.01M38.8 284.1h.01M24.2 271.5h.01M44.7 283.9h.01M29.5 273.9h.01M32.0 268.4h.01M35.7 284.0h.01M49.3 283.1h.01M38.2 276.8h.01M27.5 268.0h.01M32.5 278.6h.01M39.6 277.3h.01M42.5 271.4h.01M45.8 273.8h.01M40.4 280.6h.01M29.9 276.5h.01M45.3 290.3h.01M42.2 276.7h.01M44.7 266.2h.01M29.7 286.1h.01M43.1 289.7h.01M45.5 282.4h.01M38.8 288.3h.01M36.6 272.9h.01M38.4 285.7h.01M33.6 281.3h.01M42.5 277.4h.01M36.1 283.5h.01M47.6 269.9h.01M47.7 267.5h.01M36.1 267.5h.01M38.3 271.2h.01M35.0 282.3h.01M40.7 278.2h.01M38.7 266.1h.01M44.1 285.9h.01M31.7 271.4h.01M39.5 275.7h.01M44.2 269.0h.01M40.6 271.5h.01M32.4 281.7h.01M45.1 273.4h.01M36.4 266.3h.01M43.3 268.1h.01M33.7 278.6h.01M46.1 282.8h.01M47.8 278.0h.01M47.3 273.9h.01M33.7 274.9h.01M36.8 279.6h.01M43.6 283.3h.01M40.3 275.9h.01M38.9 275.3h.01M34.8 268.9h.01M46.9 272.0h.01M48.9 277.3h.01M32.7 266.7h.01M44.0 266.9h.01M38.0 278.9h.01M32.5 283.8h.01M32.5 267.5h.01M36.3 263.0h.01M47.0 279.9h.01M42.7 281.1h.01M42.8 284.5h.01M50.1 275.7h.01M45.5 267.2h.01M32.1 278.8h.01M45.1 264.0h.01M51.4 273.1h.01M49.5 263.3h.01M47.0 273.5h.01M38.1 280.7h.01M34.6 281.2h.01M29.4 279.9h.01M31.3 272.5h.01M39.7 272.5h.01M39.1 272.8h.01M37.0 277.8h.01M30.8 271.5h.01M45.8 283.4h.01M47.0 276.3h.01M29.3 281.1h.01M31.5 267.1h.01M28.3 270.3h.01M39.1 284.3h.01M34.9 285.7h.01M29.6 286.6h.01M39.0 274.2h.01M53.6 298.1h.01M38.5 296.3h.01M46.4 293.7h.01M49.8 285.9h.01M38.9 296.5h.01M37.0 284.3h.01M49.0 268.3h.01M48.7 280.6h.01M40.9 288.8h.01M43.7 286.3h.01M37.6 277.5h.01M40.6 281.1h.01M35.0 295.8h.01M57.6 271.1h.01M39.8 292.3h.01M24.8 292.7h.01M43.8 290.7h.01M51.7 295.8h.01M31.5 290.1h.01M44.4 290.1h.01M30.8 276.5h.01M49.5 294.0h.01M57.7 270.2h.01M54.4 281.8h.01M40.8 281.5h.01M48.6 293.9h.01M35.7 289.8h.01M44.6 278.0h.01M50.8 276.6h.01M39.0 283.9h.01M43.9 277.4h.01M39.2 294.4h.01M44.4 287.2h.01M42.9 292.7h.01M53.7 283.5h.01M50.2 277.5h.01M43.1 274.5h.01M38.5 311.5h.01M35.6 295.8h.01M45.6 286.9h.01M25.0 286.4h.01M30.5 278.8h.01M36.7 281.3h.01M58.8 299.3h.01M27.9 281.3h.01M36.1 285.7h.01M28.4 271.7h.01M42.4 277.8h.01M52.3 281.9h.01M44.9 280.4h.01M49.9 294.8h.01M42.4 280.0h.01M48.1 285.3h.01M51.4 285.2h.01M43.9 291.3h.01M35.9 273.5h.01M47.0 282.7h.01M48.3 291.5h.01M46.2 279.3h.01M56.6 264.4h.01M36.4 273.6h.01M60.2 281.3h.01M41.3 289.6h.01M53.8 292.9h.01M42.4 286.0h.01M33.7 286.8h.01M40.6 265.3h.01M45.0 283.4h.01M50.0 289.8h.01M43.9 282.9h.01M57.1 286.3h.01M52.0 288.3h.01M54.7 293.0h.01M33.3 289.3h.01M56.9 296.4h.01M40.3 298.9h.01M50.9 290.3h.01M37.3 288.3h.01M47.5 266.6h.01M38.9 271.5h.01M27.4 286.4h.01M50.9 284.4h.01M30.1 273.3h.01M50.7 282.9h.01M45.7 282.1h.01M44.5 278.8h.01M37.3 272.4h.01M43.5 284.1h.01M53.1 304.9h.01M44.8 260.0h.01M32.6 296.2h.01M47.4 283.2h.01M35.2 288.9h.01M46.0 294.1h.01M55.1 298.4h.01M51.9 274.6h.01M48.3 274.8h.01M37.1 277.8h.01M32.9 277.3h.01M56.0 283.8h.01M57.3 285.8h.01M27.6 278.9h.01M57.5 294.3h.01M41.7 282.6h.01M53.9 289.0h.01M41.4 294.7h.01M43.7 275.8h.01M30.2 266.9h.01M63.8 286.6h.01M58.1 286.3h.01M44.2 286.6h.01M45.5 273.0h.01M43.0 293.4h.01M62.5 281.1h.01M46.9 291.0h.01M56.3 289.2h.01M40.6 299.9h.01M45.9 285.7h.01M43.2 275.5h.01M56.5 276.8h.01M45.1 288.0h.01M40.7 284.2h.01M39.8 278.9h.01M35.9 286.6h.01M40.7 276.0h.01M39.5 303.4h.01M32.6 280.0h.01M38.5 284.4h.01M50.1 278.5h.01M45.7 288.9h.01M57.6 279.8h.01M37.2 290.8h.01M42.9 279.7h.01M40.9 296.3h.01M29.3 282.9h.01M58.0 287.7h.01M36.5 279.4h.01M52.1 288.6h.01M39.7 279.5h.01M32.0 273.2h.01M46.5 289.1h.01M39.0 290.8h.01M37.4 287.8h.01M25.5 291.9h.01M59.5 292.1h.01M42.9 288.8h.01M43.8 285.7h.01M42.9 288.9h.01M40.4 284.1h.01M39.0 291.2h.01M55.0 291.4h.01M47.5 297.0h.01M36.1 303.0h.01M26.1 290.9h.01M44.5 288.1h.01M29.8 294.9h.01M45.6 285.6h.01M52.6 285.9h.01M44.2 292.3h.01M42.6 287.8h.01M39.9 279.7h.01M43.5 279.4h.01M45.6 282.5h.01M38.4 283.7h.01M32.5 290.9h.01M48.6 264.3h.01M43.6 280.8h.01M48.2 302.8h.01M39.3 283.7h.01M36.0 287.6h.01M49.4 286.9h.01M44.2 275.3h.01M42.6 276.5h.01M40.1 298.2h.01M44.0 278.1h.01M33.8 271.4h.01M38.9 302.7h.01M41.1 282.7h.01M34.2 280.6h.01M51.6 293.3h.01M41.6 277.5h.01M49.2 304.6h.01M68.3 296.8h.01M43.5 290.7h.01M40.0 277.8h.01M37.5 284.8h.01M49.1 297.4h.01M54.6 288.7h.01M25.3 297.7h.01M47.3 278.7h.01M54.7 277.0h.01M40.7 284.9h.01M43.0 284.1h.01M25.5 272.5h.01M42.3 291.1h.01M42.9 274.3h.01M32.3 274.2h.01M52.9 275.9h.01M49.9 274.2h.01M34.3 279.0h.01M54.5 278.3h.01M41.4 279.1h.01M38.5 293.1h.01M37.6 282.6h.01M32.3 278.2h.01M44.0 297.4h.01M59.2 273.7h.01M41.1 268.3h.01M40.3 284.9h.01M48.6 288.9h.01M34.1 273.8h.01M30.1 298.7h.01M31.9 293.0h.01M45.5 292.7h.01M28.7 288.2h.01M46.7 284.5h.01M47.3 274.4h.01M55.8 274.7h.01M41.8 292.2h.01M47.8 298.4h.01M42.8 274.7h.01M46.3 289.0h.01M28.6 292.5h.01M54.1 277.2h.01M51.2 285.2h.01M51.7 279.8h.01M50.5 290.5h.01M43.8 281.7h.01M41.8 290.7h.01M56.0 283.3h.01M51.0 285.4h.01M60.1 295.2h.01M50.0 288.3h.01M38.4 270.4h.01M50.5 278.1h.01M37.2 293.9h.01M45.7 275.0h.01M53.6 281.9h.01M51.9 274.7h.01M29.9 279.2h.01M50.2 266.5h.01M33.4 293.1h.01M65.5 282.4h.01M34.7 280.4h.01M36.2 298.1h.01M49.6 276.5h.01M50.7 265.1h.01M43.5 284.6h.01M41.1 276.1h.01M37.6 267.8h.01M47.2 275.7h.01M48.3 292.0h.01M36.9 273.7h.01M43.7 290.6h.01M31.1 284.0h.01M34.0 297.6h.01M46.5 270.0h.01M38.0 285.1h.01M38.6 285.2h.01M46.6 286.2h.01M39.3 297.3h.01M51.0 281.7h.01M41.9 278.5h.01M30.2 281.5h.01M43.4 281.1h.01M34.4 257.0h.01M27.1 291.9h.01M26.4 289.5h.01M49.5 283.5h.01M43.0 291.7h.01M42.6 283.9h.01M50.9 283.9h.01M60.9 274.4h.01M39.4 281.9h.01M44.5 278.4h.01M60.1 290.2h.01M26.3 284.2h.01M49.1 295.1h.01M46.7 277.4h.01M50.3 272.6h.01M43.9 273.7h.01M55.2 290.7h.01M62.3 281.8h.01M42.1 280.1h.01M53.3 274.7h.01M49.4 281.3h.01M49.5 286.6h.01M35.9 280.5h.01M27.4 276.2h.01M37.7 293.5h.01M39.2 286.7h.01M40.9 272.7h.01M48.3 301.6h.01M48.5 295.4h.01M48.4 293.1h.01M61.5 269.5h.01M37.0 271.0h.01M43.3 281.1h.01M36.4 288.7h.01M59.8 296.8h.01M59.1 285.6h.01M47.1 297.5h.01M52.0 293.4h.01M40.3 280.7h.01M37.3 295.9h.01M35.5 286.2h.01M45.6 283.6h.01M40.6 288.4h.01M36.7 285.8h.01M54.9 279.7h.01M53.6 295.8h.01M59.4 276.7h.01M58.5 293.8h.01M56.3 293.4h.01M42.0 293.1h.01M44.9 280.4h.01M38.1 280.7h.01M42.0 270.3h.01M46.3 272.2h.01M48.9 297.2h.01M54.2 299.2h.01M57.3 305.8h.01M42.6 277.1h.01M41.9 275.8h.01M55.3 263.8h.01M43.5 293.1h.01M48.8 292.5h.01M33.9 280.8h.01M42.1 289.1h.01M48.6 298.1h.01M32.3 287.4h.01M63.4 296.4h.01M45.6 292.6h.01M41.4 296.9h.01M38.6 292.2h.01M45.6 278.1h.01M45.2 284.2h.01M37.5 286.3h.01M35.7 294.9h.01M48.0 293.9h.01M49.5 287.4h.01M31.3 282.2h.01M43.7 280.4h.01M42.8 281.6h.01M39.3 277.1h.01M39.1 275.1h.01M52.5 287.3h.01M47.8 292.0h.01M40.2 294.5h.01M27.8 279.4h.01M43.7 299.9h.01M53.4 292.3h.01M50.2 280.1h.01M42.1 279.2h.01M44.2 274.1h.01M40.7 280.5h.01M47.5 279.5h.01M46.6 289.2h.01M47.9 291.8h.01M35.4 285.7h.01M42.1 294.3h.01M39.5 287.5h.01M31.8 282.1h.01M37.1 284.5h.01M37.9 284.3h.01M45.3 276.0h.01M49.9 279.6h.01M61.4 294.7h.01M49.1 285.7h.01M55.1 287.5h.01M29.2 290.8h.01M45.7 263.6h.01M28.1 296.6h.01M46.3 278.6h.01M27.7 275.5h.01M64.3 292.7h.01M60.9 281.5h.01M66.6 300.1h.01M59.8 297.9h.01M55.1 288.4h.01M56.7 297.7h.01M66.0 284.9h.01M55.0 297.0h.01M63.6 301.5h.01M56.9 289.1h.01M53.7 284.1h.01M57.7 294.3h.01M54.7 284.9h.01M66.7 275.3h.01M58.0 301.3h.01M64.6 290.6h.01M60.0 297.1h.01M56.5 292.0h.01M55.0 292.3h.01M56.7 296.9h.01M57.1 295.0h.01M54.8 296.5h.01M59.5 292.4h.01M55.9 293.6h.01M58.0 300.3h.01M60.8 291.4h.01M61.6 286.7h.01M61.0 279.7h.01M55.3 283.9h.01M61.6 296.4h.01M58.4 293.4h.01M62.5 296.0h.01M65.8 279.0h.01M62.2 278.2h.01M57.5 283.7h.01M56.6 284.9h.01M57.1 283.8h.01M62.8 285.6h.01M57.3 280.6h.01M57.5 291.5h.01M53.1 289.5h.01M58.6 288.0h.01M55.1 289.9h.01M56.9 283.5h.01M58.5 298.1h.01M55.2 298.7h.01M57.1 279.5h.01M56.7 277.3h.01M63.6 288.7h.01M60.3 287.8h.01M59.9 284.8h.01M61.2 289.1h.01M61.4 278.6h.01M61.2 282.7h.01M55.4 288.1h.01M56.0 284.7h.01M55.0 288.6h.01M62.2 295.9h.01M63.5 289.7h.01M56.0 293.9h.01M54.9 290.5h.01M58.0 286.5h.01M63.4 283.4h.01M56.0 290.4h.01M56.8 294.6h.01M56.7 280.7h.01M55.8 283.1h.01M65.1 291.3h.01M55.0 299.8h.01M55.6 289.0h.01M53.8 282.2h.01M54.4 295.9h.01M62.8 287.1h.01M55.4 289.1h.01M60.5 280.6h.01M61.5 297.0h.01M61.9 300.2h.01M63.0 292.3h.01M57.1 298.0h.01M61.2 282.3h.01M60.7 290.1h.01M64.6 295.3h.01M54.8 288.0h.01M55.5 281.5h.01M59.1 291.3h.01M65.4 294.6h.01M52.2 281.1h.01M67.1 295.7h.01M64.0 285.8h.01M57.5 280.8h.01M57.7 299.3h.01M58.6 302.3h.01M54.7 289.8h.01M55.8 289.0h.01M62.2 293.9h.01M63.0 288.9h.01M60.2 292.0h.01M60.5 271.5h.01M61.0 298.6h.01M56.6 278.5h.01M59.3 302.5h.01M60.3 285.9h.01M52.4 280.5h.01M61.3 281.3h.01M63.0 291.2h.01M59.6 288.9h.01M56.1 295.2h.01M57.1 290.7h.01M60.8 282.2h.01M58.4 282.2h.01M56.2 296.3h.01M57.2 293.6h.01M55.6 292.1h.01M59.7 300.2h.01M58.5 297.3h.01M58.3 299.5h.01M60.0 302.3h.01M64.3 288.5h.01M57.7 297.8h.01M62.7 299.8h.01M55.1 301.2h.01M59.5 279.0h.01M57.5 281.2h.01M59.3 280.6h.01M62.3 289.5h.01M57.7 302.1h.01M64.7 284.1h.01M58.6 297.6h.01M62.1 296.3h.01M54.7 294.1h.01M64.2 276.4h.01M54.2 289.6h.01M57.3 282.6h.01M61.7 281.5h.01M54.0 288.3h.01M54.1 299.3h.01M58.7 293.2h.01M56.8 295.6h.01M65.9 280.7h.01M60.6 298.2h.01M58.9 298.8h.01M57.3 299.5h.01M51.2 289.6h.01M62.5 291.0h.01M65.6 284.6h.01M63.9 291.5h.01M53.2 291.5h.01M55.8 298.4h.01M62.8 286.2h.01M63.3 284.5h.01M59.0 285.1h.01M56.4 278.4h.01M63.0 283.7h.01M52.1 293.0h.01M65.8 288.9h.01M64.1 293.2h.01M59.3 281.0h.01M54.8 289.5h.01M61.7 298.6h.01M60.2 290.7h.01M56.3 281.9h.01M59.7 294.8h.01M60.6 281.8h.01M61.9 280.4h.01M61.0 301.0h.01M63.3 283.3h.01M64.1 300.6h.01M60.5 291.3h.01M65.2 287.2h.01M57.3 293.4h.01M63.1 287.5h.01M57.8 291.2h.01M60.5 291.4h.01M63.0 290.6h.01M64.7 282.0h.01M61.3 277.6h.01M60.5 297.9h.01M60.0 285.2h.01M59.0 289.2h.01M55.5 301.0h.01M58.0 300.6h.01M64.0 285.1h.01M64.7 293.6h.01M63.7 302.1h.01M65.3 285.7h.01M59.6 298.2h.01M55.7 281.3h.01M59.4 287.5h.01M58.0 298.8h.01M57.7 293.1h.01M64.1 295.1h.01M58.3 289.1h.01M62.8 296.1h.01M58.3 297.8h.01M65.0 296.1h.01M67.0 284.9h.01M64.2 285.9h.01M58.0 282.1h.01M57.8 300.6h.01M64.6 291.4h.01M60.7 281.7h.01M62.9 278.9h.01M62.8 283.2h.01M54.3 294.1h.01M58.7 288.3h.01M57.1 295.8h.01M55.0 285.4h.01M60.9 280.3h.01M56.6 301.9h.01M54.8 290.3h.01M62.1 298.3h.01M55.2 295.9h.01M66.3 290.5h.01M57.3 275.8h.01M62.6 291.1h.01M62.8 292.5h.01M61.7 296.5h.01M61.3 296.9h.01M63.1 292.6h.01M62.5 298.5h.01M59.9 292.6h.01M53.7 283.3h.01M55.9 293.4h.01M56.9 293.0h.01M55.7 295.2h.01M50.8 300.1h.01M64.0 292.8h.01M62.5 283.6h.01M56.7 294.7h.01M65.8 287.7h.01M63.2 288.6h.01M54.2 286.1h.01M54.2 289.8h.01M63.1 286.5h.01M61.8 286.5h.01M55.5 291.0h.01M57.4 291.0h.01M64.5 286.3h.01M52.0 290.9h.01M63.8 287.5h.01M56.7 282.6h.01M59.9 283.6h.01M67.5 281.1h.01M54.2 278.2h.01M60.5 272.0h.01M57.8 272.8h.01M64.1 269.9h.01M56.5 278.8h.01M59.3 273.6h.01M61.8 277.4h.01M65.5 278.2h.01M62.4 270.5h.01M59.2 278.1h.01M53.3 267.8h.01M61.9 283.2h.01M55.3 281.4h.01M61.5 275.1h.01M55.0 289.8h.01M61.4 279.5h.01M56.7 271.4h.01M59.6 277.0h.01M59.9 277.5h.01M49.5 275.7h.01M58.9 275.9h.01M59.5 278.9h.01M57.7 275.7h.01M66.4 278.9h.01M59.9 279.9h.01M59.4 269.2h.01M56.2 278.9h.01M60.8 277.9h.01M52.9 276.3h.01M60.3 278.0h.01M71.4 280.1h.01M60.7 276.9h.01M47.6 281.7h.01M54.9 283.4h.01M56.3 276.3h.01M63.5 275.9h.01M50.1 279.5h.01M60.5 279.6h.01M57.5 279.1h.01M53.9 277.5h.01M61.9 264.0h.01M61.0 282.8h.01M66.0 276.3h.01M60.9 277.4h.01M53.5 279.3h.01M62.9 281.4h.01M49.1 276.9h.01M57.8 278.0h.01M51.3 286.4h.01M50.8 273.4h.01M66.7 279.0h.01M54.5 274.6h.01M61.7 274.9h.01M62.0 280.0h.01M60.4 281.4h.01M55.3 271.3h.01M50.2 277.6h.01M54.4 284.6h.01M53.7 284.7h.01M57.6 277.8h.01M48.9 277.4h.01M65.4 271.2h.01M64.6 281.2h.01M62.7 273.2h.01M66.0 272.6h.01M66.1 282.8h.01M49.7 284.3h.01M67.1 277.3h.01M50.6 276.7h.01M56.8 281.4h.01M53.5 273.6h.01M59.4 279.1h.01M49.6 279.6h.01M55.6 275.7h.01M61.3 280.7h.01M60.7 285.4h.01M59.6 277.7h.01M60.0 284.2h.01M61.5 279.1h.01M63.4 270.9h.01M63.3 281.2h.01M56.9 271.1h.01M50.3 268.0h.01M60.1 277.1h.01M53.8 281.6h.01M53.5 282.2h.01M62.2 280.1h.01M52.8 272.9h.01M58.6 282.4h.01M53.0 278.6h.01M62.7 270.1h.01M67.7 276.7h.01M55.7 278.5h.01M57.4 273.5h.01M55.2 276.5h.01M52.9 282.1h.01M61.4 280.9h.01M50.1 275.5h.01M60.9 277.2h.01M49.1 279.3h.01M68.3 282.3h.01M57.8 272.3h.01M63.5 280.2h.01M56.7 276.2h.01M62.3 277.2h.01M54.9 272.4h.01M56.4 276.3h.01M29.2 301.1h.01M39.1 308.5h.01M24.5 301.8h.01M38.0 308.2h.01M31.9 299.0h.01M31.0 316.5h.01M25.3 298.3h.01M34.3 303.3h.01M24.6 307.8h.01M35.9 310.6h.01M36.0 310.3h.01M29.6 302.2h.01M24.8 306.9h.01M38.7 309.2h.01M29.6 314.8h.01M29.1 298.6h.01M24.9 304.3h.01M37.0 308.1h.01M31.0 297.5h.01M35.1 297.9h.01M24.1 305.3h.01M34.4 304.2h.01M36.0 306.1h.01M27.2 312.0h.01M25.9 304.4h.01M35.6 311.7h.01M32.5 304.4h.01M25.5 310.5h.01M34.1 312.4h.01M25.4 302.7h.01M27.9 302.6h.01M39.2 303.9h.01M29.9 308.9h.01M28.8 313.4h.01M31.6 302.3h.01M34.9 302.0h.01M37.8 304.7h.01M37.6 307.7h.01M30.3 308.5h.01M37.6 316.3h.01M25.9 299.0h.01M28.3 316.1h.01M36.0 305.5h.01M24.2 315.1h.01M35.6 308.1h.01M25.7 309.4h.01M36.1 311.9h.01M30.5 307.9h.01M34.0 314.6h.01M36.4 301.8h.01M32.0 303.9h.01M28.9 315.8h.01M28.3 312.6h.01M33.0 307.9h.01M26.4 309.3h.01M26.6 299.0h.01M36.6 316.0h.01M39.7 309.8h.01M24.3 314.4h.01M37.2 306.1h.01M27.5 309.5h.01M28.8 299.8h.01M27.2 304.2h.01M37.6 312.0h.01M28.4 307.3h.01M34.9 316.3h.01M26.2 303.1h.01M24.8 310.8h.01M28.0 312.5h.01M29.7 313.1h.01M35.6 311.9h.01M35.9 316.4h.01M35.0 301.3h.01M38.4 306.2h.01M31.3 313.3h.01M24.3 312.6h.01M32.1 301.4h.01M32.3 307.5h.01M27.5 308.9h.01M32.9 306.7h.01M33.1 300.7h.01M39.9 312.8h.01M28.0 315.1h.01M29.9 304.5h.01M27.5 306.2h.01M25.4 308.5h.01M35.5 312.8h.01M24.4 310.2h.01M31.2 301.3h.01M28.8 305.9h.01M29.8 300.8h.01M38.6 310.3h.01M30.8 298.5h.01M25.9 304.0h.01M33.4 298.6h.01M27.3 306.4h.01M27.6 304.5h.01M27.4 312.1h.01M26.6 304.3h.01M35.3 304.6h.01M41.1 308.4h.01M41.8 308.5h.01M30.2 313.9h.01M36.2 304.9h.01M25.8 316.5h.01M25.6 305.1h.01M25.4 309.3h.01M31.1 298.1h.01M35.8 305.9h.01M35.9 312.3h.01M31.3 312.6h.01M31.3 309.0h.01M39.3 303.1h.01M40.4 302.6h.01M34.6 315.2h.01M33.3 302.5h.01M24.5 316.5h.01M26.1 310.6h.01M32.9 301.6h.01M35.1 304.0h.01M38.5 312.0h.01M33.4 309.1h.01M37.0 303.3h.01M32.5 313.1h.01M29.9 306.7h.01M27.0 310.1h.01M29.2 312.7h.01M26.4 305.8h.01M27.4 307.0h.01M27.2 312.7h.01M33.2 316.2h.01M36.7 309.3h.01M28.0 315.1h.01M35.5 297.9h.01M25.9 314.4h.01M29.2 313.2h.01M27.5 303.6h.01M35.8 306.0h.01M42.0 307.7h.01M31.2 313.7h.01M34.6 311.9h.01M26.8 312.8h.01M37.8 307.6h.01M35.2 311.8h.01M32.1 316.4h.01M24.4 304.2h.01M39.1 309.9h.01M24.0 298.6h.01M25.5 301.7h.01M24.6 305.5h.01M34.3 303.6h.01M37.9 309.0h.01M40.2 305.5h.01M33.4 302.6h.01M25.4 303.7h.01M32.5 315.7h.01M33.2 301.8h.01M30.2 315.4h.01M24.8 305.7h.01M33.4 301.4h.01M31.6 314.5h.01M26.3 311.0h.01M27.9 304.8h.01M33.2 315.3h.01M27.4 304.0h.01M37.9 311.4h.01M37.5 314.6h.01M37.0 304.1h.01M33.6 303.1h.01M36.0 304.8h.01M36.3 306.1h.01M29.3 314.2h.01M29.0 313.7h.01M24.2 308.6h.01M36.4 304.7h.01M34.5 302.1h.01M37.6 315.8h.01M38.9 308.5h.01M39.0 308.2h.01M36.4 307.2h.01M24.1 308.8h.01M36.6 310.9h.01M26.9 302.3h.01M35.8 310.6h.01M33.0 308.1h.01M26.8 311.9h.01M30.9 296.2h.01M35.3 302.2h.01M36.8 310.2h.01M39.0 305.6h.01M27.7 316.0h.01M36.1 306.6h.01M27.0 304.2h.01M37.9 305.7h.01M34.6 311.8h.01M38.1 310.0h.01M30.1 314.2h.01M35.3 304.4h.01M26.0 300.6h.01M33.8 301.6h.01M28.4 305.0h.01M25.9 307.2h.01M30.4 316.5h.01M26.8 307.5h.01M37.8 316.3h.01M31.9 300.6h.01M33.9 306.0h.01M26.5 310.6h.01M39.3 307.5h.01M29.7 307.1h.01M34.2 315.0h.01M26.6 312.5h.01M30.8 309.0h.01M25.1 316.0h.01M36.1 302.5h.01M29.4 300.8h.01M32.7 305.3h.01M31.8 306.6h.01M37.6 308.1h.01M37.3 305.6h.01M40.8 303.1h.01M30.8 314.9h.01M24.5 309.0h.01M25.3 305.6h.01M28.5 303.4h.01M36.9 310.8h.01M29.8 315.5h.01M38.6 303.3h.01M27.8 313.1h.01M36.0 305.8h.01M38.8 309.4h.01M25.2 309.8h.01M27.2 303.2h.01M24.1 308.7h.01M39.0 309.6h.01M30.1 308.4h.01M36.3 304.7h.01M34.4 313.5h.01M28.9 307.8h.01M31.3 305.6h.01M24.5 308.3h.01M32.2 308.2h.01M27.0 305.2h.01M33.3 316.3h.01M35.4 303.5h.01M30.8 301.4h.01M27.1 300.6h.01M35.8 302.8h.01M34.3 303.7h.01M29.9 316.5h.01M24.2 313.9h.01M31.6 302.5h.01M25.4 305.8h.01M37.1 309.7h.01M36.6 304.6h.01M26.2 312.5h.01M35.9 312.3h.01M38.0 300.7h.01M29.0 313.1h.01M35.4 315.7h.01M59.9 298.2h.01M61.9 309.5h.01M56.1 298.2h.01M62.6 315.8h.01M62.1 308.9h.01M53.9 307.0h.01M60.6 313.6h.01M59.5 315.3h.01M63.1 302.2h.01M52.6 306.1h.01M62.2 308.7h.01M62.8 306.1h.01M63.3 313.5h.01M57.3 304.0h.01M60.5 305.2h.01M68.7 316.2h.01M64.9 311.1h.01M51.8 305.4h.01M62.0 304.5h.01M54.3 302.4h.01M55.6 310.9h.01M66.6 309.3h.01M45.3 299.2h.01M64.2 314.4h.01M58.1 309.4h.01M50.3 305.8h.01M59.2 306.4h.01M64.4 306.5h.01M61.6 311.5h.01M57.9 306.5h.01M58.0 306.9h.01M60.6 312.4h.01M61.3 302.7h.01M55.3 307.1h.01M60.9 298.2h.01M66.3 308.6h.01M51.9 307.9h.01M63.5 308.1h.01M52.1 299.3h.01M52.3 309.1h.01M52.8 302.6h.01M65.7 305.7h.01M58.9 303.7h.01M63.0 303.2h.01M52.9 313.7h.01M54.9 302.6h.01M54.1 301.4h.01M52.6 307.1h.01M63.7 308.7h.01M61.1 316.2h.01M53.4 300.0h.01M60.0 305.2h.01M58.1 311.2h.01M52.4 305.4h.01M62.0 302.2h.01M61.1 303.3h.01M57.5 295.9h.01M49.2 308.1h.01M57.7 299.9h.01M61.1 303.5h.01M47.7 309.9h.01M63.2 303.1h.01M50.5 311.2h.01M61.2 315.5h.01M49.1 307.1h.01M53.5 313.9h.01M55.2 311.9h.01M55.3 311.6h.01M57.6 300.6h.01M55.5 312.8h.01M56.5 301.1h.01M58.4 300.6h.01M56.6 313.0h.01M63.8 304.1h.01M55.4 298.1h.01M52.4 308.9h.01M47.9 307.1h.01M62.4 304.1h.01M48.3 306.4h.01M62.2 309.3h.01M52.6 308.6h.01M53.1 311.8h.01M63.4 308.3h.01M55.1 314.1h.01M54.9 307.0h.01M56.0 307.9h.01M52.0 310.7h.01M49.8 304.4h.01M52.0 310.2h.01M60.6 312.5h.01M63.6 309.4h.01M51.9 308.3h.01M50.9 306.3h.01M64.3 308.0h.01M55.4 310.1h.01M58.9 312.2h.01M51.5 300.6h.01M64.0 305.4h.01M53.3 300.1h.01M63.8 311.3h.01M56.0 299.4h.01M60.7 299.8h.01M57.5 309.5h.01M61.1 302.9h.01M50.5 311.3h.01M48.6 305.2h.01M61.8 314.8h.01M53.0 311.3h.01M55.6 309.2h.01M57.1 301.6h.01M51.3 296.0h.01M64.0 315.0h.01M58.8 308.7h.01M64.1 304.6h.01M51.4 309.9h.01M60.5 314.8h.01M51.5 304.3h.01M58.5 303.0h.01M59.5 311.7h.01M65.9 302.6h.01M59.0 302.4h.01M55.7 302.1h.01M52.3 313.8h.01M53.6 302.6h.01M63.5 302.0h.01M54.3 302.8h.01M60.8 311.1h.01M67.7 304.6h.01M65.2 299.0h.01M51.4 307.7h.01M63.8 305.0h.01M63.7 302.8h.01M63.1 300.1h.01M54.3 311.1h.01M57.2 307.6h.01M57.6 312.2h.01M58.5 301.5h.01M60.1 300.3h.01M63.5 304.0h.01M51.7 301.5h.01M52.4 306.8h.01M62.4 314.4h.01M51.3 305.5h.01M64.1 305.2h.01M52.8 306.7h.01M67.4 307.7h.01M60.7 298.9h.01M61.2 314.9h.01M58.7 306.7h.01M62.9 305.3h.01M51.3 313.5h.01M54.1 302.6h.01M55.9 305.9h.01M59.5 305.5h.01M56.9 307.4h.01M62.5 304.1h.01M55.3 296.3h.01M62.8 309.5h.01M63.4 310.3h.01M63.9 301.0h.01M52.1 309.1h.01M59.6 307.4h.01M53.1 304.8h.01M61.0 310.7h.01M56.6 315.6h.01M55.8 308.6h.01M62.4 313.0h.01M62.8 308.1h.01M51.0 305.4h.01M54.2 301.1h.01M61.2 316.4h.01M60.1 301.3h.01M62.4 299.4h.01M62.4 305.3h.01M52.9 316.5h.01M52.2 311.0h.01M55.6 300.6h.01M53.5 306.8h.01M58.7 313.9h.01M57.4 307.6h.01M53.0 298.3h.01M62.6 311.4h.01M57.7 315.2h.01M62.5 315.3h.01M63.6 310.7h.01M52.1 313.2h.01M59.2 302.1h.01M57.8 310.1h.01M61.4 312.8h.01M63.6 304.1h.01M62.0 299.0h.01M54.0 302.0h.01M60.7 306.0h.01M58.1 298.4h.01M51.5 304.8h.01M63.7 308.5h.01M62.5 301.0h.01M53.7 308.9h.01M60.8 310.9h.01M47.2 309.1h.01M59.5 312.3h.01M51.8 301.6h.01M57.1 312.3h.01M52.4 303.1h.01M59.5 302.1h.01M60.6 299.2h.01M65.3 307.7h.01M53.7 303.6h.01M55.5 307.1h.01M56.4 306.3h.01M50.8 304.7h.01M59.5 309.5h.01M50.0 311.2h.01M61.1 313.6h.01M58.2 306.8h.01M56.1 304.6h.01M53.7 312.3h.01M55.3 311.5h.01M60.7 304.2h.01M62.0 299.9h.01M63.4 316.4h.01M62.4 302.0h.01M61.2 305.0h.01M62.8 303.8h.01M59.6 301.4h.01M61.7 303.1h.01M60.2 301.2h.01M61.8 310.6h.01M55.2 309.8h.01M56.2 300.7h.01M55.1 302.0h.01M53.5 306.8h.01M50.8 311.6h.01M58.4 306.7h.01M62.5 303.2h.01M58.6 310.2h.01M55.4 309.4h.01M64.5 303.0h.01M53.3 310.7h.01M65.0 309.0h.01M62.4 300.6h.01M61.9 309.4h.01M52.7 304.1h.01M51.0 305.0h.01M61.1 303.0h.01M60.9 303.0h.01M56.0 314.7h.01M54.3 313.3h.01M54.3 299.8h.01M56.7 314.0h.01M62.3 305.1h.01M57.2 309.1h.01M50.8 306.0h.01M51.5 305.7h.01M59.5 309.3h.01M49.3 305.5h.01M53.8 311.6h.01M52.4 303.3h.01M56.3 305.7h.01M65.8 306.4h.01M67.3 308.9h.01M53.0 302.1h.01M56.7 304.2h.01M52.5 303.6h.01M49.0 307.6h.01M64.5 299.9h.01M56.3 309.9h.01M67.6 305.5h.01M53.0 301.3h.01M63.8 305.2h.01M53.6 300.0h.01M54.8 296.5h.01M55.8 316.0h.01M58.0 305.9h.01M53.1 309.3h.01M50.3 313.1h.01M56.1 305.4h.01M62.7 316.1h.01M50.2 309.8h.01M60.2 310.1h.01M60.6 312.4h.01M48.9 307.5h.01M57.0 301.7h.01M63.8 305.9h.01M53.2 303.6h.01M58.7 310.3h.01M64.9 311.7h.01M51.7 304.4h.01M57.8 306.1h.01M64.1 307.4h.01M60.6 313.2h.01M62.6 302.2h.01M65.0 305.3h.01M60.6 311.9h.01M66.9 300.4h.01M53.6 311.8h.01M59.5 305.7h.01M46.2 310.2h.01M43.9 278.0h.01M37.3 313.9h.01M41.1 295.8h.01M63.8 305.8h.01M48.2 303.0h.01M44.7 288.5h.01M55.9 297.7h.01M61.2 294.2h.01M43.8 299.5h.01M45.4 293.8h.01M39.2 298.7h.01M49.9 312.6h.01M46.9 281.0h.01M51.2 316.3h.01M43.2 289.4h.01M45.6 271.3h.01M44.2 294.8h.01M33.8 301.6h.01M39.4 280.2h.01M40.8 302.1h.01M64.0 307.5h.01M48.8 292.0h.01M44.8 305.0h.01M42.5 300.2h.01M55.6 288.5h.01M41.9 300.5h.01M47.2 295.4h.01M42.4 295.9h.01M63.4 308.5h.01M32.9 296.9h.01M47.9 296.8h.01M34.9 295.4h.01M48.4 290.5h.01M49.9 275.0h.01M33.8 297.4h.01M50.5 295.0h.01M43.1 298.1h.01M56.6 304.4h.01M46.4 292.4h.01M56.5 301.3h.01M54.9 294.1h.01M39.5 298.2h.01M41.6 306.7h.01M54.6 277.2h.01M53.0 308.3h.01M56.2 292.3h.01M39.5 305.1h.01M56.0 297.0h.01M36.9 283.0h.01M49.5 289.2h.01M41.1 300.4h.01M56.3 278.3h.01M41.2 308.0h.01M46.7 293.5h.01M52.7 286.4h.01M36.3 296.7h.01M60.9 305.5h.01M47.1 305.4h.01M43.5 286.1h.01M32.3 298.9h.01M55.0 299.8h.01M46.8 293.0h.01M56.7 296.1h.01M34.4 308.6h.01M41.4 300.0h.01M47.1 305.8h.01M49.3 307.3h.01M49.0 292.4h.01M42.6 302.3h.01M39.8 304.7h.01M45.0 288.3h.01M39.4 295.2h.01M62.7 303.3h.01M47.3 288.5h.01M63.9 294.0h.01M47.1 292.8h.01M58.9 298.1h.01M43.1 298.1h.01M38.3 287.2h.01M45.7 271.1h.01M57.5 314.1h.01M37.3 295.2h.01M33.2 298.0h.01M49.0 303.0h.01M35.3 291.2h.01M41.4 294.3h.01M67.3 294.7h.01M46.7 292.0h.01M54.1 315.7h.01M57.4 310.0h.01M37.6 305.9h.01M47.3 307.6h.01M56.4 302.3h.01M32.3 297.7h.01M42.7 300.5h.01M47.4 305.8h.01M33.0 290.0h.01M46.4 299.3h.01M43.5 296.2h.01M47.6 305.8h.01M46.1 298.6h.01M31.1 273.3h.01M34.2 299.7h.01M26.7 300.1h.01M46.3 296.5h.01M40.7 292.8h.01M54.4 299.7h.01M46.9 292.2h.01M49.0 307.0h.01M46.9 293.3h.01M36.7 297.4h.01M39.0 283.8h.01M54.8 291.0h.01M29.1 290.1h.01M63.4 295.6h.01M35.4 286.7h.01M53.5 300.1h.01M49.0 294.8h.01M51.4 310.1h.01M51.4 295.0h.01M34.7 300.4h.01M61.0 302.2h.01M36.0 298.1h.01M58.6 290.9h.01M51.5 307.2h.01M61.6 282.4h.01M31.7 299.8h.01M53.3 293.4h.01M46.9 292.9h.01M57.7 276.9h.01M49.4 285.2h.01M41.1 282.9h.01M39.1 296.3h.01M47.3 312.3h.01M45.1 299.6h.01M50.2 298.8h.01M60.1 297.7h.01M48.4 295.5h.01M47.1 296.0h.01M55.9 296.7h.01M47.7 296.1h.01M53.8 292.3h.01M55.4 291.4h.01M53.2 313.5h.01M49.2 295.7h.01M36.6 303.1h.01M47.2 304.6h.01M41.3 301.1h.01M63.1 300.1h.01M44.2 284.9h.01M47.0 302.3h.01M52.4 286.6h.01M38.0 287.8h.01M38.1 294.1h.01M49.5 313.6h.01M48.8 309.4h.01M32.4 310.2h.01M54.2 300.4h.01M54.4 302.0h.01M64.1 303.7h.01M31.7 281.0h.01M61.4 295.8h.01M58.8 293.5h.01M41.3 293.5h.01M49.9 298.2h.01M41.6 301.3h.01M52.6 288.3h.01M37.2 279.1h.01M44.4 296.6h.01M40.9 291.1h.01M45.9 296.8h.01M52.2 303.9h.01M51.0 306.4h.01M38.5 301.9h.01M50.4 287.2h.01M41.1 300.4h.01M47.8 285.3h.01M42.2 310.1h.01M54.6 297.2h.01M59.1 288.4h.01M45.6 305.0h.01M44.1 286.6h.01M52.3 310.7h.01M24.5 297.9h.01M36.0 293.8h.01M34.5 316.4h.01M41.1 296.9h.01M40.8 287.7h.01M43.1 298.3h.01M62.7 299.1h.01M61.0 287.0h.01M47.7 292.6h.01M33.2 315.9h.01M44.9 298.7h.01M40.4 291.4h.01M37.9 305.6h.01M43.5 295.2h.01M48.7 285.6h.01M49.2 295.0h.01M51.1 293.1h.01M47.4 301.1h.01M55.7 290.4h.01M55.7 287.7h.01M45.4 297.7h.01M48.4 274.3h.01M38.4 294.9h.01M55.3 290.2h.01M60.5 280.5h.01M47.8 301.3h.01M47.3 298.8h.01M55.4 289.3h.01M52.3 306.0h.01M45.0 275.9h.01M36.5 288.9h.01M37.7 300.3h.01M39.9 316.5h.01M52.2 284.9h.01M44.6 310.1h.01M53.1 287.4h.01M56.3 292.3h.01M66.8 291.6h.01M52.4 301.5h.01M43.1 295.1h.01M57.4 300.9h.01M46.6 300.5h.01M62.6 304.8h.01M51.3 299.4h.01M33.2 297.7h.01M42.8 303.0h.01M41.7 300.5h.01M37.7 304.5h.01M40.6 296.2h.01M52.2 293.6h.01M47.2 305.9h.01M62.8 280.4h.01M39.1 302.5h.01M55.5 292.3h.01M47.9 294.8h.01M67.3 294.7h.01M36.5 282.7h.01M35.7 308.1h.01M43.6 313.8h.01M52.8 299.9h.01M52.8 303.5h.01M55.3 287.8h.01M42.1 291.6h.01M48.0 294.3h.01M36.1 290.3h.01M63.0 315.4h.01M39.5 299.9h.01M46.8 289.0h.01M53.4 295.9h.01M61.9 300.6h.01M44.3 273.0h.01M46.2 304.0h.01M40.8 304.4h.01M53.2 280.8h.01M45.4 299.4h.01M53.8 297.9h.01M47.0 293.4h.01M44.5 296.5h.01M37.7 302.2h.01M44.2 301.1h.01M42.6 300.2h.01M48.2 304.4h.01M51.2 304.8h.01M45.6 296.0h.01M44.8 285.3h.01M46.0 306.2h.01M53.9 288.9h.01M49.8 303.2h.01M35.0 299.6h.01M50.0 303.2h.01M49.4 281.0h.01M29.2 314.1h.01M43.6 307.8h.01M58.3 297.3h.01M36.9 308.7h.01M46.8 301.1h.01M51.3 305.0h.01M56.1 283.9h.01M34.6 297.8h.01M47.2 303.4h.01M45.9 294.9h.01M65.1 308.7h.01M57.4 305.7h.01M40.1 295.7h.01M46.5 286.8h.01M39.4 297.9h.01M36.3 301.3h.01M51.3 294.4h.01M44.1 301.9h.01M51.4 299.8h.01M36.3 282.1h.01M65.3 290.7h.01M43.9 280.3h.01M40.0 290.0h.01M54.2 273.0h.01M34.7 292.8h.01M42.7 289.6h.01M30.9 302.0h.01M37.0 288.4h.01M30.7 290.9h.01M33.8 301.7h.01M29.9 293.6h.01M34.8 287.5h.01M31.3 298.1h.01M40.8 283.4h.01M38.3 292.8h.01M41.7 298.2h.01M45.8 296.3h.01M31.8 289.6h.01M25.6 297.8h.01M37.2 299.3h.01M36.2 285.7h.01M31.7 293.1h.01M35.0 299.0h.01M42.5 296.2h.01M24.5 288.5h.01M24.4 290.0h.01M27.0 295.9h.01M32.8 301.1h.01M40.5 291.8h.01M39.7 294.6h.01M36.8 302.4h.01M27.3 294.1h.01M43.2 290.0h.01M35.4 295.3h.01M31.6 286.8h.01M30.0 288.7h.01M40.5 296.0h.01M38.3 287.5h.01M37.1 295.3h.01M40.3 290.3h.01M38.9 302.6h.01M44.8 289.0h.01M27.4 285.9h.01M39.8 298.0h.01M36.1 289.4h.01M41.5 303.9h.01M33.9 293.8h.01M41.2 297.5h.01M42.1 292.1h.01M36.1 292.5h.01M30.7 292.8h.01M32.4 297.5h.01M32.3 294.9h.01M29.3 287.3h.01M42.6 288.7h.01M44.9 300.0h.01M23.9 290.7h.01M31.6 294.6h.01M33.0 291.0h.01M41.5 293.8h.01M39.8 290.5h.01M30.0 302.3h.01M32.4 288.0h.01M33.1 300.7h.01M33.2 290.3h.01M37.9 300.3h.01M32.9 292.6h.01M31.9 310.4h.01M33.0 304.8h.01M33.2 296.9h.01M24.0 295.5h.01M34.4 292.6h.01M31.7 286.5h.01M25.3 295.5h.01M30.3 294.0h.01M33.0 291.5h.01M29.8 305.4h.01M27.6 291.5h.01M32.4 287.7h.01M28.4 299.6h.01M39.6 295.3h.01M53.3 299.4h.01M41.4 289.7h.01M40.5 304.4h.01M31.9 305.1h.01M29.3 287.9h.01M33.8 289.8h.01M37.9 288.0h.01M34.6 283.0h.01M33.9 300.7h.01M32.6 296.3h.01M40.6 288.1h.01M26.6 295.0h.01M35.8 292.9h.01M28.4 301.6h.01M27.2 293.0h.01M33.9 298.8h.01M31.5 289.7h.01M46.0 289.6h.01M38.8 293.6h.01M31.3 294.2h.01M32.6 296.3h.01M23.9 294.3h.01M34.5 288.8h.01M31.8 308.2h.01M45.1 298.3h.01M35.5 292.7h.01M42.3 291.9h.01M29.3 298.6h.01M28.4 289.9h.01M42.7 285.1h.01M33.7 295.2h.01M35.7 286.0h.01M32.8 292.5h.01M45.5 300.4h.01M29.6 299.6h.01M38.0 293.8h.01M32.7 292.9h.01M25.0 290.8h.01M39.7 303.0h.01M45.1 292.3h.01M37.8 280.4h.01M32.5 287.1h.01M39.0 284.8h.01M28.0 288.0h.01M36.5 299.4h.01M28.7 305.1h.01M35.1 289.6h.01M36.2 294.4h.01M39.1 296.5h.01M47.1 301.4h.01M30.3 299.1h.01M38.6 288.6h.01M29.7 289.8h.01M24.3 298.2h.01M32.8 301.7h.01M30.8 294.9h.01M38.4 300.2h.01M36.0 288.4h.01M47.2 299.6h.01M42.2 304.0h.01M42.4 296.9h.01M36.9 298.2h.01M25.2 299.3h.01M28.4 297.0h.01M28.1 298.7h.01M31.3 309.1h.01M35.3 297.5h.01M28.8 292.8h.01M33.8 292.8h.01M31.6 289.4h.01M38.6 292.3h.01M29.3 296.6h.01M29.3 293.5h.01M31.1 289.1h.01M32.8 289.7h.01M26.7 296.6h.01M32.4 285.9h.01M31.8 295.6h.01M36.7 296.7h.01M35.6 298.0h.01M31.2 289.8h.01M37.8 292.1h.01M34.2 298.3h.01M39.7 301.7h.01M30.1 292.3h.01M37.4 286.1h.01M26.7 298.1h.01M30.5 289.1h.01M38.9 297.6h.01M39.6 292.6h.01M32.4 292.5h.01M35.9 282.6h.01M30.1 298.6h.01M29.5 294.1h.01M34.9 297.5h.01M31.3 287.9h.01M48.9 290.3h.01M44.3 284.2h.01M34.8 293.4h.01M45.3 306.4h.01M39.9 288.6h.01M29.4 290.1h.01M31.1 296.0h.01M29.5 293.1h.01M42.8 302.9h.01M24.0 289.0h.01M32.0 302.1h.01M32.2 305.6h.01M36.3 302.9h.01M29.1 292.7h.01M40.2 297.8h.01M23.9 292.9h.01M35.2 298.2h.01M30.4 304.7h.01M35.1 303.0h.01M36.5 295.0h.01M32.3 287.7h.01M39.3 298.9h.01M39.7 292.3h.01M28.2 292.3h.01M32.3 294.4h.01M40.0 289.2h.01M31.3 298.5h.01M39.5 307.4h.01M37.3 289.6h.01M55.6 313.7h.01M40.5 311.0h.01M65.2 313.3h.01M47.3 313.5h.01M61.4 312.8h.01M51.1 313.0h.01M55.5 311.3h.01M51.4 315.7h.01M62.0 314.8h.01M52.4 315.3h.01M56.9 316.5h.01M36.3 311.2h.01M57.9 312.9h.01M44.6 311.5h.01M65.3 311.0h.01M50.4 310.5h.01M47.4 316.3h.01M38.3 315.1h.01M40.0 309.7h.01M53.0 311.2h.01M33.6 315.9h.01M41.4 311.2h.01M51.1 313.1h.01M61.4 313.7h.01M66.4 315.9h.01M50.0 314.7h.01M49.5 310.2h.01M36.6 315.1h.01M24.0 311.7h.01M35.4 313.4h.01M38.1 314.0h.01M47.1 312.5h.01M40.1 308.8h.01M50.1 310.8h.01M46.1 314.3h.01M60.6 315.0h.01M65.2 310.5h.01M56.5 316.5h.01M53.5 311.1h.01M53.5 312.4h.01M42.3 315.8h.01M47.4 311.1h.01M42.0 315.7h.01M40.2 314.9h.01M51.2 316.0h.01M46.3 311.5h.01M42.4 311.3h.01M45.8 316.2h.01M56.3 313.1h.01M56.0 314.1h.01M61.4 315.9h.01M45.9 313.4h.01M47.3 316.1h.01M53.4 315.2h.01M58.9 312.2h.01M50.7 316.5h.01M59.2 315.2h.01M46.3 312.7h.01M40.1 312.9h.01M48.6 310.5h.01M61.8 311.9h.01M52.0 314.8h.01M43.4 309.7h.01M59.7 314.4h.01M46.6 315.9h.01M58.9 311.5h.01M48.4 309.8h.01M46.5 316.5h.01M40.3 315.3h.01M33.1 312.9h.01M59.4 316.6h.01M54.2 315.1h.01M67.7 308.3h.01M30.9 316.5h.01M50.0 314.1h.01M49.6 312.2h.01M49.1 313.2h.01M56.5 315.0h.01M59.8 314.8h.01M38.9 316.5h.01M24.4 313.8h.01M52.8 312.4h.01M36.7 312.4h.01M53.8 315.2h.01M50.5 314.9h.01M41.8 312.2h.01M50.7 310.6h.01M51.3 312.7h.01M56.6 311.4h.01M43.6 312.3h.01M45.4 311.4h.01M46.5 310.6h.01M55.0 314.9h.01M49.1 313.1h.01M39.8 311.5h.01M46.9 311.6h.01M36.7 313.9h.01M49.1 312.6h.01M40.6 313.4h.01M41.9 312.6h.01M51.3 315.0h.01M57.4 312.2h.01M62.2 311.0h.01M47.4 316.3h.01M45.4 312.7h.01M36.3 313.2h.01M44.8 311.9h.01M62.1 311.9h.01M67.3 315.3h.01M56.1 312.3h.01M43.9 309.3h.01M52.2 312.9h.01M53.4 312.1h.01M54.5 310.3h.01M38.2 265.5h.01M28.5 266.2h.01M55.0 267.4h.01M50.4 267.1h.01M38.8 267.4h.01M42.5 270.3h.01M62.4 267.9h.01M49.7 264.2h.01M42.0 271.0h.01M34.8 268.6h.01M56.2 266.7h.01M40.9 266.6h.01M51.7 267.3h.01M59.2 269.1h.01M43.2 271.3h.01M40.0 266.4h.01M40.7 265.9h.01M38.8 267.2h.01M52.7 264.9h.01M28.4 266.1h.01M40.0 268.0h.01M34.9 269.6h.01M37.6 267.0h.01M43.8 269.1h.01M46.4 267.3h.01M37.5 267.6h.01M47.5 266.8h.01M43.0 264.5h.01M37.6 269.1h.01M58.3 267.2h.01M24.4 270.1h.01M41.4 271.3h.01M38.9 268.9h.01M36.7 269.4h.01M55.5 265.7h.01M57.0 271.7h.01M40.9 265.4h.01M46.2 266.7h.01M27.3 265.7h.01M45.8 264.9h.01M54.7 268.0h.01M41.3 269.5h.01M33.4 268.4h.01M28.9 266.8h.01M50.0 266.5h.01M42.0 268.3h.01M59.4 269.3h.01M48.1 266.9h.01M27.9 270.0h.01M63.1 264.0h.01M52.4 267.2h.01M50.7 267.8h.01M41.2 267.3h.01M42.8 269.1h.01M40.4 266.5h.01M50.1 268.3h.01M47.8 267.7h.01M58.8 269.0h.01M45.5 267.0h.01M50.2 264.4h.01M37.7 266.2h.01M45.0 266.7h.01M47.5 270.8h.01M43.2 266.8h.01M56.2 268.6h.01M53.0 269.2h.01M39.4 266.3h.01M35.6 267.5h.01M53.8 265.7h.01M37.6 265.2h.01M64.4 268.5h.01M45.5 265.4h.01M32.3 266.3h.01M43.6 265.3h.01M40.8 269.2h.01M43.3 267.5h.01M24.1 266.9h.01M41.7 266.2h.01M28.6 267.2h.01M32.4 266.5h.01M26.3 267.2h.01M52.8 266.0h.01M46.6 264.9h.01M49.3 268.1h.01M39.1 268.7h.01M33.9 267.4h.01M61.0 267.3h.01M31.3 269.1h.01M48.9 266.9h.01M24.0 264.4h.01M27.1 269.6h.01M46.3 266.0h.01M55.4 269.6h.01M34.3 268.1h.01M25.8 267.9h.01M62.4 265.1h.01M43.8 266.3h.01M42.2 267.4h.01M46.2 268.7h.01M48.6 268.9h.01M53.9 269.0h.01M36.1 267.9h.01M39.3 266.0h.01M63.9 267.8h.01M43.7 264.0h.01M40.8 268.5h.01M41.1 266.5h.01M58.8 266.8h.01M39.7 267.1h.01M40.7 268.9h.01M49.2 267.2h.01M39.4 266.9h.01M61.0 266.8h.01M50.1 264.8h.01M46.6 268.4h.01M56.6 267.8h.01M49.3 267.8h.01M54.5 270.5h.01M45.3 266.0h.01M49.5 267.1h.01M49.9 268.5h.01M44.8 266.6h.01M46.4 265.4h.01M46.1 265.9h.01M47.9 267.5h.01M40.9 265.4h.01M43.7 266.2h.01M41.7 268.4h.01M53.2 265.3h.01M53.1 269.4h.01M55.1 267.7h.01M42.3 270.0h.01M39.8 264.9h.01M44.2 267.7h.01M32.3 265.4h.01M64.1 267.5h.01M51.4 266.4h.01M27.3 267.0h.01M57.3 266.3h.01M24.4 267.0h.01M40.3 267.3h.01M32.2 266.8h.01M37.5 268.7h.01M44.8 268.7h.01M42.7 264.0h.01M24.2 268.1h.01M52.4 268.7h.01M42.4 264.5h.01M38.0 267.9h.01M57.7 266.8h.01M37.3 266.1h.01M53.9 268.7h.01M24.0 269.2h.01M33.5 265.0h.01M26.4 266.2h.01M67.6 271.3h.01M30.1 266.3h.01M44.9 267.9h.01M38.2 264.8h.01M38.9 266.2h.01M24.4 267.5h.01M27.8 264.6h.01M59.2 268.8h.01M58.5 267.5h.01M38.9 267.2h.01M28.8 268.5h.01M46.1 266.8h.01M24.2 267.1h.01M60.4 269.6h.01M48.9 268.9h.01M64.2 265.8h.01M63.2 266.2h.01M57.0 267.0h.01M56.0 267.3h.01M64.5 270.4h.01M60.9 268.4h.01M49.9 266.5h.01M60.0 267.2h.01M54.4 264.7h.01M62.8 268.6h.01M40.7 274.0h.01M60.7 267.5h.01M63.9 268.4h.01M67.2 265.9h.01M62.8 269.0h.01M46.7 272.4h.01M54.9 263.7h.01M56.8 269.7h.01M51.3 266.6h.01M54.7 266.6h.01M41.6 270.5h.01M51.4 268.8h.01M57.3 262.4h.01M56.6 264.6h.01M56.1 265.4h.01M56.3 266.7h.01M58.4 268.5h.01M51.2 270.3h.01M65.0 265.9h.01M64.8 262.0h.01M45.9 268.6h.01M67.3 267.9h.01M50.9 263.5h.01M58.6 267.8h.01M49.0 266.5h.01M55.7 265.5h.01M42.7 264.3h.01M56.9 271.6h.01M65.8 266.1h.01M51.3 268.0h.01M54.1 267.3h.01M61.4 267.9h.01M63.0 271.8h.01M49.2 270.9h.01M45.3 264.9h.01M64.6 264.6h.01M52.8 267.6h.01M52.3 266.2h.01M57.9 266.3h.01M53.5 265.3h.01M50.5 268.5h.01M47.7 271.9h.01M64.2 266.2h.01M53.4 266.4h.01M58.8 264.2h.01M58.1 261.4h.01M29.4 298.9h.01M28.8 290.9h.01M30.0 285.8h.01M29.2 298.7h.01M30.9 294.5h.01M27.4 297.2h.01M24.3 263.3h.01M31.8 289.4h.01M24.1 279.5h.01M26.7 288.5h.01M24.9 301.2h.01M25.4 316.6h.01M24.0 310.3h.01M29.1 264.4h.01M24.5 288.3h.01M27.9 281.7h.01M27.2 289.7h.01M24.9 288.3h.01M33.8 278.6h.01M24.2 296.6h.01M31.1 301.9h.01M25.3 286.5h.01M27.7 284.6h.01M28.3 302.4h.01M28.7 287.4h.01M26.5 312.1h.01M24.1 315.1h.01M29.3 288.7h.01M25.0 312.8h.01M30.7 300.1h.01M33.2 262.8h.01M27.4 283.3h.01M25.0 288.5h.01M28.7 294.7h.01M26.7 269.3h.01M28.8 295.9h.01M33.4 300.4h.01M27.2 271.7h.01M35.1 278.2h.01M27.7 297.8h.01M28.6 305.9h.01M24.1 278.0h.01M27.7 270.5h.01M25.3 306.6h.01M28.0 286.1h.01M25.5 288.2h.01M27.0 272.6h.01M29.5 269.8h.01M30.9 282.8h.01M24.6 266.1h.01M28.0 275.5h.01M32.5 306.6h.01M33.4 299.9h.01M31.1 279.1h.01M31.0 281.5h.01M27.0 268.7h.01M27.3 293.1h.01M27.0 272.2h.01M29.8 300.1h.01M26.9 298.4h.01M30.1 273.9h.01M27.0 261.7h.01M24.1 293.4h.01M24.5 292.9h.01M28.2 258.9h.01M25.7 308.6h.01M27.2 289.2h.01M25.0 265.3h.01M24.2 315.7h.01M26.6 275.4h.01M27.5 260.6h.01M31.3 311.3h.01M24.9 292.0h.01M24.5 299.4h.01M24.6 285.5h.01M31.0 294.8h.01M26.2 266.4h.01M24.3 304.2h.01M28.7 288.3h.01M30.9 289.5h.01M25.0 286.0h.01M26.8 287.3h.01M34.6 295.6h.01M28.0 284.0h.01M25.1 273.7h.01M24.3 281.1h.01M24.6 261.7h.01M24.3 259.2h.01M31.2 304.9h.01M24.2 316.1h.01M63.9 288.7h.01M61.8 279.8h.01M62.0 305.5h.01M59.3 299.2h.01M63.8 304.8h.01M61.3 305.7h.01M68.0 316.3h.01M60.1 297.2h.01M63.6 298.6h.01M61.7 305.2h.01M70.0 311.0h.01M61.7 292.3h.01M66.0 298.7h.01M62.2 308.6h.01M65.4 306.7h.01M63.7 309.0h.01M63.0 287.4h.01M64.1 284.9h.01M67.3 304.1h.01M59.9 299.0h.01M66.2 294.3h.01M65.2 292.2h.01M63.9 296.7h.01M65.3 288.8h.01M61.3 300.5h.01M62.8 302.2h.01M62.9 285.7h.01M66.0 299.9h.01M66.0 294.4h.01M63.2 308.9h.01M59.9 313.2h.01M65.4 297.0h.01M64.3 302.9h.01M62.2 300.0h.01M61.7 280.8h.01M64.6 298.4h.01M65.7 302.5h.01M65.9 304.6h.01M61.5 308.5h.01M70.8 292.4h.01M60.9 303.7h.01M66.4 306.6h.01M68.0 285.0h.01M65.1 301.7h.01M67.3 289.5h.01M64.2 294.2h.01M63.7 296.2h.01M63.7 281.5h.01M64.0 298.1h.01M63.1 265.5h.01M62.4 291.6h.01M61.9 312.0h.01M66.4 295.8h.01M65.6 315.5h.01M61.7 301.8h.01M62.6 310.9h.01M66.9 296.4h.01M65.7 290.3h.01M60.1 305.1h.01" stroke="#1a1a1a" stroke-width="0.68" stroke-linecap="round" fill="none"/>
</g>
<rect x="23.10" y="252.50" width="66.60" height="64.90" fill="none" stroke="#666" stroke-width="0.7"/>
<ellipse cx="33.10" cy="259.20" rx="9.4" ry="6.1" fill="none" stroke="#4a4a4a" stroke-width="0.65"/>
<ellipse cx="54.10" cy="260.60" rx="11.7" ry="8.1" fill="none" stroke="#4a4a4a" stroke-width="0.65"/>
<ellipse cx="40.90" cy="281.00" rx="12.7" ry="15.7" fill="none" stroke="#4a4a4a" stroke-width="0.65"/>
<ellipse cx="60.30" cy="289.30" rx="6.6" ry="11.7" fill="none" stroke="#4a4a4a" stroke-width="0.65"/>
<text x="34.20" y="260.20" font-size="7.0" text-anchor="middle" font-weight="bold" fill="#000"  stroke-width="0.8" stroke="#fff" stroke-opacity="0.45" paint-order="stroke">5%</text>
<text x="34.20" y="260.20" font-size="7.0" text-anchor="middle" font-weight="bold" fill="#000"  stroke-width="0.12" stroke="#000">5%</text>
<text x="54.20" y="260.20" font-size="7.0" text-anchor="middle" font-weight="bold" fill="#000"  stroke-width="0.8" stroke="#fff" stroke-opacity="0.45" paint-order="stroke">5%</text>
<text x="54.20" y="260.20" font-size="7.0" text-anchor="middle" font-weight="bold" fill="#000"  stroke-width="0.12" stroke="#000">5%</text>
<text x="41.00" y="289.80" font-size="7.0" text-anchor="middle" font-weight="bold" fill="#000"  stroke-width="0.8" stroke="#fff" stroke-opacity="0.45" paint-order="stroke">42%</text>
<text x="41.00" y="289.80" font-size="7.0" text-anchor="middle" font-weight="bold" fill="#000"  stroke-width="0.12" stroke="#000">42%</text>
<text x="58.80" y="282.80" font-size="7.0" text-anchor="middle" font-weight="bold" fill="#000"  stroke-width="0.8" stroke="#fff" stroke-opacity="0.45" paint-order="stroke">12%</text>
<text x="58.80" y="282.80" font-size="7.0" text-anchor="middle" font-weight="bold" fill="#000"  stroke-width="0.12" stroke="#000">12%</text>
<text x="57.90" y="316.30" font-size="7.0" text-anchor="middle" font-weight="bold" fill="#000"  stroke-width="0.8" stroke="#fff" stroke-opacity="0.45" paint-order="stroke">9%</text>
<text x="57.90" y="316.30" font-size="7.0" text-anchor="middle" font-weight="bold" fill="#000"  stroke-width="0.12" stroke="#000">9%</text>
<rect x="24.20" y="318.40" width="2.2" height="1.7" fill="#999"/>
<rect x="20.50" y="314.20" width="1.3" height="2" fill="#999"/>
<rect x="40.55" y="318.40" width="2.2" height="1.7" fill="#999"/>
<rect x="20.50" y="298.27" width="1.3" height="2" fill="#999"/>
<rect x="56.90" y="318.40" width="2.2" height="1.7" fill="#999"/>
<rect x="20.50" y="282.35" width="1.3" height="2" fill="#999"/>
<rect x="73.25" y="318.40" width="2.2" height="1.7" fill="#999"/>
<rect x="20.50" y="266.42" width="1.3" height="2" fill="#999"/>
<rect x="89.60" y="318.40" width="2.2" height="1.7" fill="#999"/>
<rect x="20.50" y="250.50" width="1.3" height="2" fill="#999"/>
<text x="55.60" y="250.00" font-size="8.75" text-anchor="middle" fill="#111" stroke="#111" stroke-width="0.3" >Before culture</text>
<clipPath id="c104_209"><rect x="104.70" y="210.20" width="65.70" height="64.90"/></clipPath>
<g clip-path="url(#c104_209)">
<ellipse cx="115.20" cy="219.30" rx="8.5" ry="4.6" fill="url(#rg)" opacity="1" transform="rotate(8 115.20 219.30)"/>
<ellipse cx="115.20" cy="219.30" rx="3.83" ry="2.07" fill="none" stroke="#444" stroke-width="0.35" stroke-dasharray="1.2 0.8" opacity="0.80" transform="rotate(8 115.20 219.30)"/>
<ellipse cx="115.20" cy="219.30" rx="5.95" ry="3.22" fill="none" stroke="#444" stroke-width="0.35" stroke-dasharray="1.2 0.8" opacity="0.80" transform="rotate(8 115.20 219.30)"/>
<path d="M115.1 219.4h.01M110.0 225.3h.01M122.9 223.7h.01M106.8 218.5h.01M125.7 216.5h.01M105.5 215.6h.01M124.8 223.3h.01M105.6 212.2h.01M114.5 214.3h.01M122.4 215.3h.01M105.1 219.5h.01M106.3 211.8h.01M108.5 222.3h.01M107.8 218.4h.01M115.1 219.6h.01M108.0 217.5h.01M119.4 218.0h.01M108.3 221.5h.01M116.4 218.6h.01M111.8 223.9h.01M115.6 221.7h.01M109.2 222.4h.01M113.2 215.4h.01M128.6 221.8h.01M111.6 216.6h.01M116.7 218.1h.01M108.3 215.8h.01M125.5 223.7h.01M124.0 215.8h.01M106.8 221.6h.01M111.1 214.9h.01M109.2 224.2h.01M122.2 216.4h.01M105.7 219.3h.01M122.4 221.9h.01M106.1 217.4h.01M114.4 214.1h.01M126.4 223.2h.01M106.1 219.0h.01M105.4 222.0h.01M110.7 216.8h.01M113.4 213.5h.01M114.4 218.9h.01M112.2 219.4h.01M107.5 216.4h.01M115.4 215.0h.01M115.2 212.9h.01M114.2 220.2h.01M105.2 218.4h.01M119.5 224.0h.01M124.9 217.1h.01M123.1 219.7h.01M110.9 226.0h.01M105.6 221.4h.01M114.9 220.2h.01M122.9 223.0h.01M111.9 217.4h.01M105.5 221.1h.01M105.3 214.9h.01M112.6 214.0h.01M112.9 218.5h.01M105.1 222.2h.01M108.6 220.2h.01M111.8 214.7h.01M110.3 214.0h.01M118.5 215.7h.01M123.2 225.9h.01M112.7 216.8h.01M119.4 219.0h.01M114.7 215.2h.01M122.1 216.9h.01M111.9 221.3h.01M120.5 215.7h.01M109.0 219.6h.01M114.3 217.4h.01M122.7 220.4h.01M117.5 216.3h.01M122.8 218.6h.01M115.0 217.1h.01M109.0 223.9h.01M120.0 215.4h.01M105.3 217.6h.01M108.9 222.1h.01M117.5 214.9h.01M117.1 222.8h.01M108.9 219.3h.01M116.2 214.5h.01M117.0 217.3h.01M109.1 225.6h.01M105.3 213.4h.01M122.4 216.8h.01M117.5 216.6h.01M119.8 225.1h.01M111.2 213.1h.01M122.6 213.3h.01M120.4 219.4h.01M105.5 216.9h.01M123.4 224.4h.01M107.3 219.9h.01M118.5 219.1h.01M119.4 220.1h.01M107.8 220.7h.01M116.7 218.7h.01M108.8 220.7h.01M105.3 214.9h.01M113.5 224.0h.01M113.5 212.3h.01M113.5 219.6h.01M114.1 224.1h.01M115.7 224.5h.01M105.2 219.3h.01M118.0 216.1h.01M124.7 222.8h.01M126.7 225.1h.01M110.9 221.4h.01M122.5 216.9h.01M107.8 224.1h.01M110.2 211.3h.01M119.6 218.4h.01M122.7 218.4h.01M120.7 224.7h.01M124.1 220.4h.01M111.7 213.4h.01M113.9 216.2h.01M113.6 219.1h.01M107.2 213.9h.01M111.3 215.2h.01M119.5 214.8h.01M121.9 221.0h.01M111.4 213.5h.01M123.1 221.0h.01M115.0 217.8h.01M116.0 213.1h.01M117.8 224.3h.01M108.9 221.7h.01M114.0 216.1h.01M120.7 225.6h.01M109.1 224.1h.01M114.6 214.1h.01M105.2 215.5h.01M118.9 215.7h.01M109.6 218.2h.01M113.0 220.2h.01M117.0 212.9h.01M116.4 217.2h.01M115.8 221.9h.01M115.3 224.3h.01M114.5 225.0h.01M126.5 218.4h.01M115.4 215.4h.01M123.0 220.1h.01M108.0 221.4h.01M111.7 219.7h.01M110.1 220.2h.01M113.1 222.3h.01M108.4 216.1h.01M125.0 222.4h.01M105.9 216.9h.01M106.8 220.2h.01M107.1 219.3h.01M123.8 220.3h.01M106.8 217.6h.01M129.7 217.8h.01M105.9 214.8h.01M114.8 224.7h.01M114.2 224.1h.01M124.7 221.9h.01M107.5 216.4h.01M121.7 219.6h.01M116.4 214.8h.01M116.7 227.5h.01M120.1 218.2h.01M115.1 224.4h.01M115.3 219.9h.01M112.0 220.8h.01M105.8 221.2h.01M120.2 214.9h.01M109.1 222.0h.01M120.3 224.2h.01M118.1 224.9h.01M112.4 219.6h.01M107.2 216.1h.01M126.5 222.4h.01M113.2 213.3h.01M113.5 225.4h.01M111.8 225.4h.01M121.9 214.2h.01M118.2 222.3h.01M118.5 213.6h.01M114.3 212.3h.01M110.7 214.8h.01M126.6 231.1h.01M127.0 222.2h.01M123.6 218.6h.01M114.3 222.1h.01M107.5 219.8h.01M124.8 214.7h.01M105.4 216.1h.01M117.1 222.5h.01M110.0 222.3h.01M119.9 219.3h.01M128.4 226.6h.01M120.5 231.5h.01M115.2 220.2h.01M107.1 217.7h.01M117.7 233.6h.01M121.5 224.1h.01M111.0 216.0h.01M107.9 212.6h.01M118.4 223.6h.01M112.4 219.4h.01M112.1 223.2h.01M123.0 221.1h.01M116.7 216.0h.01M112.2 230.5h.01M116.9 225.8h.01M119.9 229.6h.01M117.2 217.7h.01M123.6 228.2h.01M112.4 225.5h.01M118.1 222.0h.01M129.4 228.1h.01M120.6 221.4h.01M118.0 227.0h.01M122.1 219.9h.01M121.2 222.6h.01M120.4 222.0h.01M106.0 210.9h.01M118.5 212.0h.01M105.6 227.7h.01M123.2 221.6h.01M123.2 213.3h.01M118.4 226.8h.01M121.0 217.0h.01M125.1 221.9h.01M114.1 221.8h.01M113.4 230.2h.01M114.4 231.0h.01M122.7 217.8h.01M118.0 222.4h.01M125.8 230.5h.01M135.6 224.5h.01M112.2 231.2h.01M111.8 221.9h.01M129.9 221.1h.01M116.8 218.3h.01M121.0 224.9h.01M117.0 224.9h.01M113.5 219.0h.01M118.5 231.7h.01M117.8 222.3h.01M126.6 225.1h.01M126.3 225.8h.01M125.4 225.3h.01M113.2 216.7h.01M118.4 231.1h.01M130.7 224.6h.01M135.9 222.5h.01M111.3 224.4h.01M106.9 223.0h.01M119.7 225.6h.01M109.7 221.4h.01M124.3 223.8h.01M124.8 224.4h.01M120.8 221.5h.01M109.4 218.7h.01M122.4 219.9h.01M107.4 211.6h.01M127.0 223.9h.01M111.4 225.9h.01M119.0 215.4h.01M116.4 217.5h.01M118.1 217.9h.01M117.9 224.3h.01M114.6 220.1h.01M116.0 225.4h.01M112.4 223.9h.01M126.5 223.9h.01M112.2 218.9h.01M107.2 216.2h.01M110.5 219.0h.01M115.0 223.6h.01M118.3 224.2h.01M117.4 223.3h.01M109.8 222.7h.01M125.2 229.6h.01M108.7 221.2h.01M106.4 222.1h.01M117.4 219.8h.01M113.5 219.6h.01M119.3 218.0h.01M118.1 223.4h.01M121.6 223.0h.01M115.0 232.1h.01M124.3 225.6h.01M108.2 222.0h.01M125.4 211.9h.01M116.5 223.5h.01M118.2 222.7h.01M115.2 227.8h.01M121.0 221.7h.01M113.8 230.7h.01M113.1 218.2h.01M120.0 223.5h.01M118.3 228.6h.01M125.0 226.3h.01M118.5 222.0h.01M115.3 226.0h.01M111.2 215.1h.01M116.4 217.1h.01M127.8 221.1h.01M124.4 227.6h.01M119.9 232.7h.01M115.7 226.4h.01M121.6 216.2h.01M109.5 233.9h.01M127.2 249.4h.01M119.6 231.1h.01M119.6 239.8h.01M126.3 230.0h.01M123.8 236.4h.01M127.5 233.8h.01M120.1 230.7h.01M113.9 238.5h.01M125.1 244.4h.01M122.7 233.4h.01M116.2 228.6h.01M117.2 238.9h.01M121.7 220.8h.01M120.6 234.6h.01M115.5 236.5h.01M124.1 229.5h.01M113.8 234.4h.01M122.6 234.8h.01M129.7 237.6h.01M115.7 242.0h.01M117.6 241.4h.01M121.7 245.1h.01M115.7 241.6h.01M123.5 230.4h.01M125.1 252.3h.01M123.2 231.3h.01M120.4 245.6h.01M122.6 246.9h.01M117.6 245.7h.01M112.5 235.5h.01M119.6 233.2h.01M127.9 232.5h.01M123.1 249.5h.01M125.7 233.8h.01M117.2 222.7h.01M123.3 242.8h.01M127.3 238.3h.01M133.1 242.0h.01M108.5 230.5h.01M125.6 233.9h.01M125.8 254.4h.01M117.0 252.0h.01M120.8 226.4h.01M121.7 242.9h.01M118.0 247.6h.01M116.4 235.3h.01M126.3 235.2h.01M118.1 236.5h.01M124.8 248.7h.01M128.7 249.7h.01M121.0 225.1h.01M121.0 233.8h.01M115.7 233.1h.01M120.8 237.0h.01M126.2 230.3h.01M127.5 237.0h.01M125.2 245.3h.01M114.4 247.8h.01M117.3 239.4h.01M127.2 243.1h.01M112.6 237.8h.01M127.5 235.8h.01M120.8 237.2h.01M130.2 232.9h.01M116.0 229.0h.01M118.3 235.0h.01M123.1 236.1h.01M111.7 225.7h.01M124.9 241.7h.01M113.7 243.2h.01M107.8 252.9h.01M124.5 225.1h.01M124.0 236.4h.01M118.7 234.1h.01M120.0 236.0h.01M116.2 232.7h.01M124.3 240.4h.01M113.9 233.2h.01M129.8 241.7h.01M130.3 227.2h.01M115.5 221.5h.01M110.5 234.1h.01M115.4 229.1h.01M117.4 235.4h.01M125.8 240.6h.01M111.5 247.1h.01M119.4 229.7h.01M121.0 233.9h.01M113.6 247.6h.01M118.0 232.5h.01M124.2 248.4h.01M123.9 230.4h.01M123.6 244.4h.01M123.3 241.2h.01M118.6 236.2h.01M111.9 231.7h.01M114.9 236.7h.01M129.4 220.9h.01M113.9 230.2h.01M120.7 244.8h.01M116.9 231.2h.01M127.9 239.3h.01M124.1 242.5h.01M117.1 238.3h.01M117.6 231.6h.01M121.9 239.7h.01M114.2 231.3h.01M124.6 237.9h.01M124.9 234.5h.01M116.8 242.2h.01M124.5 216.8h.01M126.0 231.4h.01M124.9 247.7h.01M119.7 229.9h.01M122.6 237.3h.01M124.3 226.8h.01M122.6 243.0h.01M125.1 241.1h.01M127.8 230.9h.01M127.9 238.2h.01M115.7 234.6h.01M122.7 239.0h.01M128.6 238.0h.01M118.4 252.0h.01M119.4 230.9h.01M126.3 233.8h.01M116.9 229.2h.01M127.7 229.2h.01M121.8 233.5h.01M120.1 231.0h.01M122.0 240.9h.01M127.0 234.2h.01M114.8 226.3h.01M121.3 219.3h.01M143.2 239.9h.01M140.0 229.9h.01M138.0 234.5h.01M141.5 236.8h.01M141.3 243.3h.01M134.7 238.1h.01M143.0 236.1h.01M140.0 238.8h.01M136.5 255.0h.01M139.4 244.2h.01M138.5 249.5h.01M142.7 248.0h.01M142.2 244.6h.01M143.3 242.5h.01M140.1 245.4h.01M137.4 221.9h.01M141.8 240.8h.01M137.9 237.8h.01M137.2 233.8h.01M140.2 240.6h.01M141.9 239.1h.01M141.4 244.5h.01M137.9 227.8h.01M137.9 237.9h.01M138.3 255.2h.01M137.9 243.0h.01M137.7 244.6h.01M136.4 246.4h.01M140.2 236.9h.01M136.6 251.4h.01M138.2 249.8h.01M133.5 231.3h.01M144.4 252.2h.01M139.8 246.7h.01M141.3 237.2h.01M140.1 231.6h.01M136.2 240.6h.01M141.6 240.8h.01M136.5 245.7h.01M140.0 245.0h.01M139.0 237.8h.01M142.5 249.3h.01M136.6 231.9h.01M142.2 242.2h.01M139.9 232.8h.01M142.4 241.0h.01M140.3 242.4h.01M138.4 242.5h.01M140.1 244.8h.01M140.7 230.7h.01M137.9 237.8h.01M142.8 235.1h.01M142.7 247.3h.01M142.0 255.5h.01M139.7 242.0h.01M142.9 242.6h.01M142.3 238.8h.01M143.4 242.2h.01M134.8 247.3h.01M139.2 233.5h.01M139.0 237.7h.01M142.7 242.0h.01M139.6 239.6h.01M137.4 235.2h.01M138.5 238.1h.01M136.7 236.9h.01M142.3 242.9h.01M139.7 242.1h.01M139.1 231.4h.01M142.0 255.5h.01M141.1 244.5h.01M146.1 231.2h.01M141.1 237.3h.01M139.0 228.1h.01M139.5 242.5h.01M135.6 238.1h.01M138.5 232.7h.01M141.4 251.2h.01M140.8 246.9h.01M141.7 239.3h.01M141.2 249.0h.01M138.6 238.7h.01M136.2 226.6h.01M137.6 246.0h.01M140.7 241.5h.01M143.1 227.3h.01M143.3 240.3h.01M141.7 249.4h.01M137.6 233.6h.01M140.8 239.3h.01M138.2 238.8h.01M137.9 240.6h.01M138.7 251.7h.01M137.0 243.8h.01M139.9 250.8h.01M137.2 236.4h.01M144.2 235.1h.01M138.8 236.9h.01M137.2 248.3h.01M143.6 238.6h.01M137.8 230.2h.01M141.4 236.0h.01M141.2 222.8h.01M138.6 244.1h.01M140.8 219.6h.01M140.5 240.6h.01M139.7 237.3h.01M138.6 240.7h.01M141.1 217.5h.01M139.7 246.2h.01M139.2 248.3h.01M137.3 253.1h.01M142.2 236.8h.01M146.8 249.8h.01M143.8 231.3h.01M139.4 243.0h.01M142.4 240.2h.01M136.4 248.3h.01M139.3 242.8h.01M138.9 238.9h.01M136.2 244.4h.01M138.1 227.2h.01M140.8 239.5h.01M142.2 245.5h.01M136.6 238.5h.01M139.7 240.3h.01M137.0 240.2h.01M142.3 248.4h.01M143.5 245.0h.01M133.2 237.8h.01M137.7 241.3h.01M143.5 268.1h.01M139.2 264.2h.01M140.6 260.2h.01M143.0 274.5h.01M141.5 257.8h.01M139.9 268.6h.01M141.2 256.9h.01M141.9 266.8h.01M140.8 258.8h.01M139.2 248.3h.01M139.2 258.6h.01M138.4 259.7h.01M138.3 262.3h.01M139.5 257.4h.01M138.9 261.1h.01M140.6 264.8h.01M138.2 255.9h.01M134.7 252.9h.01M140.4 255.2h.01M143.7 260.6h.01M138.2 260.6h.01M137.7 257.3h.01M139.4 251.5h.01M139.6 261.1h.01M136.7 268.9h.01M140.2 269.3h.01M137.4 253.0h.01M135.9 250.7h.01M134.0 272.7h.01M137.9 263.1h.01M137.8 260.7h.01M143.6 249.5h.01M136.5 262.6h.01M136.7 266.6h.01M142.8 268.0h.01M141.3 260.6h.01M142.0 256.1h.01M135.9 259.9h.01M138.5 270.3h.01M136.5 269.7h.01M137.1 252.8h.01M134.5 261.5h.01M135.2 263.2h.01M139.4 258.9h.01M133.9 258.1h.01M140.5 249.2h.01M141.1 261.8h.01M137.7 263.1h.01M141.0 261.5h.01M137.1 267.2h.01M137.3 264.2h.01M141.9 270.9h.01M143.6 268.9h.01M139.6 260.3h.01M139.7 265.4h.01M147.5 266.3h.01M136.9 272.4h.01M134.8 268.7h.01M135.7 254.1h.01M137.8 259.7h.01M135.5 266.0h.01M138.9 271.1h.01M136.4 249.0h.01M141.1 260.1h.01M141.9 245.3h.01M135.8 262.3h.01M144.6 253.0h.01M133.9 258.5h.01M143.1 272.8h.01M135.5 257.4h.01M134.1 255.8h.01M136.6 264.7h.01M142.4 273.7h.01M138.2 267.4h.01M139.8 262.6h.01M144.6 266.6h.01M143.5 263.8h.01M141.6 265.3h.01M139.0 256.8h.01M138.1 261.8h.01M138.2 259.3h.01M137.3 267.7h.01M138.5 260.9h.01M138.6 270.9h.01M137.7 271.6h.01M136.8 272.4h.01M140.9 258.3h.01M140.5 269.7h.01M136.6 260.1h.01M140.1 260.2h.01M138.4 261.8h.01M140.1 267.2h.01M143.3 259.5h.01M147.3 259.4h.01M144.1 260.8h.01M135.2 258.7h.01M138.3 269.2h.01M133.6 257.3h.01M138.8 266.3h.01M140.3 267.7h.01M138.8 260.1h.01M142.6 273.8h.01M140.3 262.8h.01M136.8 274.6h.01M140.3 266.0h.01M134.8 266.0h.01M145.9 260.6h.01M138.6 272.5h.01M138.7 267.6h.01M144.6 253.5h.01M136.9 266.5h.01M139.5 262.0h.01M138.8 262.6h.01M140.2 258.4h.01M138.4 263.3h.01M136.2 264.8h.01M133.1 266.2h.01M138.9 253.5h.01M142.9 253.5h.01M144.9 256.6h.01M142.6 261.3h.01M143.7 260.2h.01M142.1 259.5h.01M134.0 264.4h.01M140.5 264.5h.01M143.8 256.6h.01M135.2 263.5h.01M137.3 261.0h.01M139.2 256.0h.01M142.2 260.9h.01M144.2 263.5h.01M142.1 259.7h.01M137.4 258.0h.01M136.8 264.9h.01M139.6 254.2h.01M134.9 255.7h.01M134.2 255.6h.01M135.0 266.7h.01M136.0 257.6h.01M138.9 262.0h.01M140.4 267.0h.01M141.0 259.3h.01M142.7 264.3h.01M137.2 272.2h.01M135.9 265.0h.01M142.7 262.5h.01M140.2 262.6h.01M141.1 263.3h.01M139.2 266.6h.01M112.9 271.5h.01M115.5 261.1h.01M117.1 262.2h.01M108.9 262.6h.01M116.5 268.4h.01M118.9 264.6h.01M113.5 264.5h.01M119.6 263.2h.01M119.4 260.6h.01M114.2 266.8h.01M117.3 264.5h.01M111.9 256.6h.01M112.3 260.4h.01M112.4 270.0h.01M110.8 267.1h.01M114.1 259.3h.01M114.7 266.7h.01M108.9 259.1h.01M112.5 266.6h.01M111.5 265.4h.01M116.3 263.8h.01M116.2 268.7h.01M113.4 265.0h.01M109.5 260.9h.01M113.8 266.9h.01M111.2 258.2h.01M118.3 273.1h.01M105.3 259.5h.01M114.8 265.6h.01M110.0 265.0h.01M119.1 262.6h.01M117.5 264.2h.01M110.1 261.3h.01M111.5 269.0h.01M119.4 264.7h.01M107.3 261.8h.01M112.4 256.1h.01M114.1 264.8h.01M108.3 262.0h.01M112.2 271.0h.01M117.2 266.7h.01M114.6 258.7h.01M118.3 261.1h.01M105.7 266.6h.01M112.7 263.7h.01M125.6 251.2h.01M149.5 239.6h.01M123.7 245.0h.01M139.4 238.4h.01M130.5 234.0h.01M128.1 253.3h.01M116.4 241.8h.01M106.4 233.7h.01M130.5 253.1h.01M113.1 243.1h.01M114.7 249.7h.01M133.4 251.7h.01M126.0 222.2h.01M120.5 223.6h.01M118.7 243.8h.01M146.1 234.6h.01M117.2 247.9h.01M106.0 274.3h.01M105.2 260.8h.01M144.6 259.9h.01M127.6 256.3h.01M123.9 259.9h.01M119.1 231.9h.01M135.2 237.6h.01M139.7 231.2h.01M133.4 229.2h.01M127.7 274.5h.01M112.5 225.3h.01M105.6 241.1h.01M143.8 241.8h.01M119.4 274.6h.01M146.1 215.7h.01M114.0 251.2h.01M139.4 241.2h.01M134.1 253.2h.01M123.8 260.4h.01M116.0 256.6h.01M143.5 247.9h.01M123.9 244.4h.01M105.6 248.7h.01M107.1 213.0h.01M141.1 230.3h.01M134.8 245.4h.01M105.6 230.5h.01M125.0 252.1h.01M130.3 224.8h.01M121.0 246.4h.01M109.5 237.8h.01M120.7 211.3h.01M137.7 219.1h.01M135.9 222.0h.01M136.7 218.6h.01M135.3 223.6h.01M143.4 210.8h.01M131.4 211.0h.01M131.9 217.5h.01M130.6 220.6h.01M136.1 220.1h.01M128.1 218.1h.01M138.1 213.6h.01M126.3 218.8h.01M134.5 221.0h.01M142.4 220.8h.01M133.7 218.8h.01M138.0 219.3h.01M138.7 216.5h.01M137.0 217.4h.01M132.0 218.3h.01M140.4 219.3h.01M136.6 219.0h.01M135.5 218.2h.01M133.8 211.4h.01M136.5 216.4h.01" stroke="#1a1a1a" stroke-width="0.8" stroke-linecap="round" fill="none"/>
</g>
<rect x="104.20" y="209.70" width="66.70" height="65.90" fill="none" stroke="#666" stroke-width="0.7"/>
<ellipse cx="115.40" cy="216.90" rx="10.2" ry="6.5" fill="none" stroke="#4a4a4a" stroke-width="0.65"/>
<ellipse cx="136.30" cy="217.40" rx="10.7" ry="7" fill="none" stroke="#4a4a4a" stroke-width="0.65"/>
<ellipse cx="121.50" cy="236.60" rx="11.1" ry="12.2" fill="none" stroke="#4a4a4a" stroke-width="0.65"/>
<ellipse cx="140.40" cy="243.20" rx="7.6" ry="11.8" fill="none" stroke="#4a4a4a" stroke-width="0.65"/>
<ellipse cx="139.30" cy="264.10" rx="7.6" ry="9.2" fill="none" stroke="#4a4a4a" stroke-width="0.65"/>
<text x="115.90" y="217.00" font-size="7.0" text-anchor="middle" font-weight="bold" fill="#000"  stroke-width="0.8" stroke="#fff" stroke-opacity="0.45" paint-order="stroke">41%</text>
<text x="115.90" y="217.00" font-size="7.0" text-anchor="middle" font-weight="bold" fill="#000"  stroke-width="0.12" stroke="#000">41%</text>
<text x="134.50" y="218.30" font-size="7.0" text-anchor="middle" font-weight="bold" fill="#000"  stroke-width="0.8" stroke="#fff" stroke-opacity="0.45" paint-order="stroke">7%</text>
<text x="134.50" y="218.30" font-size="7.0" text-anchor="middle" font-weight="bold" fill="#000"  stroke-width="0.12" stroke="#000">7%</text>
<text x="124.00" y="247.10" font-size="7.0" text-anchor="middle" font-weight="bold" fill="#000"  stroke-width="0.8" stroke="#fff" stroke-opacity="0.45" paint-order="stroke">8%</text>
<text x="124.00" y="247.10" font-size="7.0" text-anchor="middle" font-weight="bold" fill="#000"  stroke-width="0.12" stroke="#000">8%</text>
<text x="140.70" y="241.50" font-size="7.0" text-anchor="middle" font-weight="bold" fill="#000"  stroke-width="0.8" stroke="#fff" stroke-opacity="0.45" paint-order="stroke">21%</text>
<text x="140.70" y="241.50" font-size="7.0" text-anchor="middle" font-weight="bold" fill="#000"  stroke-width="0.12" stroke="#000">21%</text>
<text x="141.00" y="271.50" font-size="7.0" text-anchor="middle" font-weight="bold" fill="#000"  stroke-width="0.8" stroke="#fff" stroke-opacity="0.45" paint-order="stroke">8%</text>
<text x="141.00" y="271.50" font-size="7.0" text-anchor="middle" font-weight="bold" fill="#000"  stroke-width="0.12" stroke="#000">8%</text>
<rect x="105.30" y="276.60" width="2.2" height="1.7" fill="#999"/>
<rect x="101.60" y="272.40" width="1.3" height="2" fill="#999"/>
<rect x="121.68" y="276.60" width="2.2" height="1.7" fill="#999"/>
<rect x="101.60" y="256.23" width="1.3" height="2" fill="#999"/>
<rect x="138.05" y="276.60" width="2.2" height="1.7" fill="#999"/>
<rect x="101.60" y="240.05" width="1.3" height="2" fill="#999"/>
<rect x="154.43" y="276.60" width="2.2" height="1.7" fill="#999"/>
<rect x="101.60" y="223.88" width="1.3" height="2" fill="#999"/>
<rect x="170.80" y="276.60" width="2.2" height="1.7" fill="#999"/>
<rect x="101.60" y="207.70" width="1.3" height="2" fill="#999"/>
<text x="137.30" y="207.20" font-size="8.75" text-anchor="middle" fill="#111" stroke="#111" stroke-width="0.3" >+ Adult BMSCs</text>
<clipPath id="c179_209"><rect x="180.40" y="210.20" width="65.20" height="64.90"/></clipPath>
<g clip-path="url(#c179_209)">
<ellipse cx="194.90" cy="237.70" rx="7" ry="8" fill="url(#rg)" opacity="0.5" transform="rotate(0 194.90 237.70)"/>
<ellipse cx="194.90" cy="237.70" rx="3.15" ry="3.60" fill="none" stroke="#444" stroke-width="0.35" stroke-dasharray="1.2 0.8" opacity="0.40" transform="rotate(0 194.90 237.70)"/>
<ellipse cx="194.90" cy="237.70" rx="4.90" ry="5.60" fill="none" stroke="#444" stroke-width="0.35" stroke-dasharray="1.2 0.8" opacity="0.40" transform="rotate(0 194.90 237.70)"/>
<ellipse cx="189.90" cy="263.70" rx="6" ry="5" fill="url(#rg)" opacity="0.6" transform="rotate(0 189.90 263.70)"/>
<ellipse cx="189.90" cy="263.70" rx="2.70" ry="2.25" fill="none" stroke="#444" stroke-width="0.35" stroke-dasharray="1.2 0.8" opacity="0.48" transform="rotate(0 189.90 263.70)"/>
<ellipse cx="189.90" cy="263.70" rx="4.20" ry="3.50" fill="none" stroke="#444" stroke-width="0.35" stroke-dasharray="1.2 0.8" opacity="0.48" transform="rotate(0 189.90 263.70)"/>
<ellipse cx="213.90" cy="264.70" rx="4.5" ry="6" fill="url(#rg)" opacity="0.55" transform="rotate(0 213.90 264.70)"/>
<ellipse cx="213.90" cy="264.70" rx="2.02" ry="2.70" fill="none" stroke="#444" stroke-width="0.35" stroke-dasharray="1.2 0.8" opacity="0.44" transform="rotate(0 213.90 264.70)"/>
<ellipse cx="213.90" cy="264.70" rx="3.15" ry="4.20" fill="none" stroke="#444" stroke-width="0.35" stroke-dasharray="1.2 0.8" opacity="0.44" transform="rotate(0 213.90 264.70)"/>
<ellipse cx="188.90" cy="216.20" rx="5.5" ry="3.2" fill="url(#rg)" opacity="0.5" transform="rotate(0 188.90 216.20)"/>
<ellipse cx="188.90" cy="216.20" rx="2.48" ry="1.44" fill="none" stroke="#444" stroke-width="0.35" stroke-dasharray="1.2 0.8" opacity="0.40" transform="rotate(0 188.90 216.20)"/>
<ellipse cx="188.90" cy="216.20" rx="3.85" ry="2.24" fill="none" stroke="#444" stroke-width="0.35" stroke-dasharray="1.2 0.8" opacity="0.40" transform="rotate(0 188.90 216.20)"/>
<path d="M191.6 217.7h.01M189.8 217.4h.01M191.3 215.6h.01M190.7 214.8h.01M186.9 211.9h.01M188.4 211.6h.01M189.0 216.8h.01M184.1 216.4h.01M190.2 215.3h.01M184.9 215.9h.01M190.7 218.7h.01M197.5 210.9h.01M190.4 217.4h.01M186.1 217.1h.01M198.2 216.5h.01M195.0 219.1h.01M186.9 210.8h.01M194.1 220.4h.01M181.1 215.7h.01M185.8 216.8h.01M189.2 219.3h.01M186.3 221.4h.01M181.3 216.8h.01M200.8 215.9h.01M191.7 214.9h.01M203.6 218.6h.01M187.3 211.0h.01M189.8 218.2h.01M180.8 214.9h.01M191.4 210.6h.01M188.1 211.9h.01M182.9 217.3h.01M194.0 219.4h.01M186.0 217.6h.01M181.0 212.2h.01M191.3 215.1h.01M184.4 211.1h.01M187.9 222.3h.01M180.9 213.4h.01M193.9 211.0h.01M186.1 216.4h.01M193.9 216.0h.01M197.0 216.1h.01M188.4 217.4h.01M190.5 212.1h.01M184.7 215.6h.01M190.4 212.9h.01M185.7 214.2h.01M190.4 215.0h.01M191.6 217.3h.01M184.8 215.4h.01M183.4 216.5h.01M192.5 213.5h.01M181.0 217.6h.01M187.6 216.1h.01M191.0 217.2h.01M193.0 215.0h.01M181.4 214.9h.01M187.5 215.1h.01M190.7 215.5h.01M194.7 214.5h.01M188.9 215.2h.01M198.3 213.6h.01M184.4 215.2h.01M192.3 216.2h.01M188.1 212.2h.01M181.5 215.6h.01M187.8 221.0h.01M190.6 217.4h.01M193.2 213.8h.01M183.4 215.2h.01M195.5 218.9h.01M186.3 212.8h.01M193.1 219.2h.01M184.0 220.6h.01M185.4 218.2h.01M188.0 215.3h.01M186.2 218.1h.01M191.7 218.4h.01M187.6 213.9h.01M198.5 220.9h.01M188.0 213.1h.01M195.6 216.6h.01M189.2 218.5h.01M190.5 216.5h.01M197.8 211.0h.01M191.8 213.5h.01M189.2 215.7h.01M190.1 211.1h.01M192.0 222.6h.01M187.1 218.7h.01M191.7 217.0h.01M186.7 217.9h.01M190.1 220.2h.01M192.6 214.3h.01M181.0 220.3h.01M191.1 216.7h.01M186.2 223.1h.01M194.9 216.5h.01M187.3 217.8h.01M195.0 217.6h.01M193.1 216.9h.01M190.5 212.7h.01M189.5 216.3h.01M188.6 215.5h.01M190.3 214.6h.01M188.0 212.6h.01M199.3 213.7h.01M183.5 214.7h.01M187.0 213.2h.01M181.0 220.7h.01M193.5 215.2h.01M191.4 213.1h.01M181.6 217.1h.01M191.5 214.3h.01M188.9 211.4h.01M188.3 219.1h.01M189.7 216.7h.01M191.5 210.6h.01M183.1 212.7h.01M190.0 214.5h.01M180.9 218.7h.01M188.1 219.0h.01M197.9 211.6h.01M183.2 219.2h.01M195.2 217.3h.01M190.5 218.1h.01M191.8 212.7h.01M192.2 218.9h.01M187.1 213.7h.01M186.7 214.6h.01M191.3 218.4h.01M189.0 215.3h.01M181.0 215.0h.01M184.4 214.7h.01M190.4 216.7h.01M204.6 213.8h.01M186.5 213.0h.01M187.8 215.4h.01M193.4 210.8h.01M193.0 218.0h.01M186.6 214.3h.01M189.8 217.6h.01M188.2 215.8h.01M189.0 213.2h.01M190.1 217.8h.01M189.1 213.0h.01M188.9 215.9h.01M190.3 215.0h.01M192.6 219.2h.01M192.6 216.8h.01M194.3 216.1h.01M188.2 212.2h.01M189.0 219.6h.01M184.6 218.4h.01M183.2 217.0h.01M197.0 216.3h.01M183.7 217.0h.01M188.3 218.4h.01M186.6 211.4h.01M186.8 217.8h.01M193.5 217.0h.01M189.0 218.1h.01M188.0 214.9h.01M189.9 219.2h.01M186.7 217.6h.01M186.1 214.1h.01M189.7 212.5h.01M185.1 212.9h.01M186.2 213.7h.01M199.2 217.9h.01M189.2 212.5h.01M181.1 217.4h.01M186.1 219.1h.01M187.2 212.6h.01M186.1 211.9h.01M182.7 218.2h.01M186.6 218.1h.01M186.4 215.5h.01M186.5 214.7h.01M186.0 220.3h.01M188.7 210.8h.01M196.4 219.7h.01M193.9 215.9h.01M188.2 214.9h.01M189.5 217.5h.01M188.9 213.9h.01M184.7 220.8h.01M196.3 212.7h.01M186.1 216.1h.01M199.3 242.7h.01M186.5 246.9h.01M195.3 244.5h.01M194.8 232.6h.01M211.8 242.5h.01M199.8 234.4h.01M193.4 245.8h.01M197.7 250.5h.01M202.6 229.9h.01M184.9 246.2h.01M198.7 235.8h.01M192.9 233.7h.01M206.4 236.5h.01M185.9 244.3h.01M194.3 240.3h.01M192.3 237.4h.01M182.6 241.6h.01M190.4 235.0h.01M196.9 247.0h.01M180.9 236.8h.01M198.3 245.1h.01M188.9 240.1h.01M197.4 244.5h.01M190.8 236.4h.01M191.5 246.0h.01M201.8 234.5h.01M193.9 239.3h.01M189.0 236.9h.01M200.4 243.4h.01M190.4 233.0h.01M194.0 227.1h.01M196.8 238.6h.01M186.2 236.1h.01M190.5 235.8h.01M189.1 247.6h.01M188.5 243.3h.01M196.1 248.2h.01M194.4 237.8h.01M195.2 224.2h.01M210.4 236.2h.01M192.7 229.7h.01M193.9 249.3h.01M189.9 240.9h.01M201.5 244.6h.01M192.2 225.2h.01M197.4 241.9h.01M192.7 234.7h.01M206.2 226.4h.01M191.5 233.4h.01M184.7 232.8h.01M189.6 246.7h.01M183.5 227.9h.01M196.5 226.7h.01M181.8 233.3h.01M187.0 230.8h.01M193.7 241.0h.01M190.6 235.8h.01M199.4 236.7h.01M199.5 233.6h.01M198.0 246.9h.01M185.8 259.2h.01M192.7 235.4h.01M193.7 241.1h.01M186.9 238.1h.01M191.0 248.0h.01M183.6 242.4h.01M192.7 232.5h.01M195.7 236.1h.01M195.0 239.5h.01M202.6 234.9h.01M205.6 218.6h.01M206.6 246.4h.01M204.9 239.2h.01M196.6 230.6h.01M203.4 229.5h.01M189.6 237.8h.01M196.3 240.2h.01M187.2 235.3h.01M198.0 246.2h.01M199.7 240.7h.01M193.1 233.9h.01M191.5 237.1h.01M198.2 234.2h.01M208.1 230.7h.01M200.1 236.4h.01M193.9 235.1h.01M204.7 235.7h.01M198.4 238.6h.01M199.6 242.0h.01M205.5 232.6h.01M189.5 249.8h.01M203.0 238.3h.01M192.9 239.6h.01M203.2 232.4h.01M204.2 237.4h.01M192.4 235.0h.01M181.2 240.1h.01M186.3 233.8h.01M189.0 239.5h.01M199.5 238.1h.01M196.0 240.7h.01M205.2 241.9h.01M205.0 237.4h.01M197.1 233.2h.01M198.6 231.7h.01M197.8 233.3h.01M192.5 246.4h.01M195.7 243.4h.01M193.2 224.6h.01M204.3 236.5h.01M190.6 244.5h.01M187.4 232.5h.01M202.2 232.9h.01M202.1 235.7h.01M193.4 238.3h.01M191.5 245.4h.01M201.9 238.3h.01M198.7 241.6h.01M205.7 226.6h.01M201.4 244.3h.01M192.7 237.9h.01M192.5 246.6h.01M187.4 242.1h.01M203.1 241.9h.01M191.7 234.6h.01M181.1 230.6h.01M201.9 231.1h.01M184.2 236.1h.01M185.1 241.1h.01M189.1 244.5h.01M194.0 227.8h.01M189.8 233.3h.01M189.3 246.6h.01M188.3 240.4h.01M191.0 242.0h.01M185.5 226.8h.01M198.1 247.9h.01M185.8 235.6h.01M191.5 231.2h.01M201.1 238.2h.01M185.8 236.3h.01M203.4 232.8h.01M191.4 232.0h.01M195.8 233.9h.01M200.6 232.0h.01M185.3 241.0h.01M180.9 231.1h.01M196.6 239.6h.01M191.0 234.7h.01M198.2 264.1h.01M189.6 236.6h.01M191.8 241.7h.01M194.9 241.7h.01M205.4 235.9h.01M192.9 240.5h.01M208.4 235.3h.01M205.7 246.2h.01M181.2 230.8h.01M188.4 240.6h.01M203.4 238.2h.01M195.9 253.1h.01M197.1 253.0h.01M189.0 249.5h.01M191.5 220.7h.01M189.4 234.5h.01M194.5 243.2h.01M199.3 241.5h.01M190.0 250.4h.01M202.6 238.1h.01M191.1 237.5h.01M193.4 232.9h.01M194.7 233.1h.01M199.0 233.2h.01M198.0 240.1h.01M195.9 241.5h.01M188.1 256.0h.01M190.3 243.0h.01M194.9 234.8h.01M206.1 245.6h.01M193.0 241.8h.01M199.2 249.0h.01M201.4 236.6h.01M193.2 229.6h.01M196.5 243.9h.01M192.3 242.5h.01M195.7 234.5h.01M186.9 245.7h.01M211.3 241.7h.01M187.8 230.5h.01M196.5 242.4h.01M204.7 220.7h.01M206.8 239.0h.01M195.7 240.6h.01M192.5 235.8h.01M201.7 225.5h.01M194.1 241.8h.01M184.1 236.7h.01M204.8 240.5h.01M199.4 242.8h.01M196.3 240.4h.01M189.5 236.3h.01M206.8 229.1h.01M193.7 228.8h.01M191.4 232.3h.01M186.9 239.5h.01M188.7 241.6h.01M206.6 219.6h.01M193.8 222.9h.01M194.0 240.5h.01M196.2 246.4h.01M195.9 225.5h.01M204.6 231.1h.01M194.2 240.1h.01M189.1 238.4h.01M204.6 225.8h.01M184.0 234.6h.01M193.8 228.7h.01M180.9 244.3h.01M197.4 228.4h.01M198.6 237.4h.01M195.9 228.3h.01M193.4 241.2h.01M183.5 230.3h.01M201.2 252.0h.01M199.2 237.3h.01M187.8 234.9h.01M193.2 240.9h.01M193.2 255.5h.01M203.5 222.1h.01M187.3 237.8h.01M201.2 240.7h.01M181.2 226.0h.01M203.6 242.0h.01M211.5 243.5h.01M197.9 248.7h.01M192.0 233.9h.01M188.3 239.6h.01M197.7 244.5h.01M204.3 242.3h.01M202.9 236.0h.01M188.6 243.0h.01M201.5 247.4h.01M193.8 234.4h.01M192.5 240.4h.01M194.6 236.5h.01M196.5 235.7h.01M197.1 233.5h.01M184.8 235.6h.01M207.2 232.0h.01M200.8 247.4h.01M191.3 239.6h.01M181.3 241.9h.01M204.9 239.1h.01M181.9 233.6h.01M190.0 238.6h.01M196.7 234.8h.01M192.9 231.9h.01M198.6 239.2h.01M197.1 234.2h.01M198.1 235.6h.01M196.8 236.6h.01M190.6 229.9h.01M182.7 228.0h.01M197.9 261.2h.01M184.2 231.9h.01M194.8 263.4h.01M193.5 229.4h.01M197.6 252.8h.01M181.1 229.3h.01M203.0 229.4h.01M194.2 233.2h.01M199.9 227.3h.01M196.9 239.3h.01M198.6 240.8h.01M195.9 224.9h.01M192.8 230.9h.01M198.3 236.1h.01M195.9 245.7h.01M194.2 249.9h.01M200.3 227.0h.01M191.1 246.5h.01M191.6 246.4h.01M191.2 236.9h.01M201.6 226.4h.01M195.4 234.5h.01M196.0 250.1h.01M198.1 228.0h.01M201.2 234.5h.01M196.0 246.1h.01M192.9 244.7h.01M196.1 231.2h.01M192.9 227.9h.01M202.6 238.9h.01M201.2 229.7h.01M200.4 229.1h.01M196.7 237.6h.01M191.1 240.0h.01M195.1 231.4h.01M190.1 228.3h.01M203.8 238.8h.01M192.5 242.7h.01M189.3 229.3h.01M197.2 249.2h.01M196.9 238.8h.01M206.3 226.5h.01M214.8 229.7h.01M194.4 228.0h.01M187.0 236.0h.01M210.8 230.9h.01M190.9 239.7h.01M188.3 235.9h.01M200.2 221.9h.01M192.9 235.6h.01M191.6 236.9h.01M183.2 234.5h.01M191.5 230.2h.01M203.1 252.2h.01M200.1 231.4h.01M204.1 241.3h.01M189.6 242.1h.01M191.1 241.9h.01M200.9 246.1h.01M188.0 236.8h.01M194.9 228.8h.01M197.6 242.7h.01M185.9 233.7h.01M187.7 228.5h.01M188.0 247.7h.01M190.6 234.8h.01M201.3 245.2h.01M204.0 222.6h.01M199.8 224.9h.01M190.8 234.7h.01M191.2 252.0h.01M193.8 246.2h.01M193.7 237.3h.01M198.2 240.9h.01M198.2 225.1h.01M198.2 240.0h.01M198.8 237.3h.01M197.6 228.2h.01M202.3 228.9h.01M204.0 245.1h.01M194.5 235.6h.01M200.0 235.5h.01M187.2 239.7h.01M187.0 234.4h.01M206.6 243.6h.01M192.0 237.2h.01M190.7 237.6h.01M185.5 242.7h.01M195.0 233.2h.01M190.9 256.9h.01M192.0 234.2h.01M191.1 234.1h.01M203.4 242.6h.01M197.6 240.4h.01M187.5 220.1h.01M204.7 242.9h.01M196.3 239.7h.01M196.2 237.9h.01M193.2 221.5h.01M198.6 238.0h.01M201.3 239.9h.01M193.0 242.1h.01M196.1 234.5h.01M192.5 234.6h.01M193.0 234.5h.01M201.3 259.0h.01M194.2 245.9h.01M182.1 214.1h.01M191.8 236.6h.01M190.1 227.8h.01M189.4 234.0h.01M195.9 235.2h.01M187.1 235.0h.01M204.7 231.3h.01M195.3 245.1h.01M189.7 233.5h.01M213.7 246.7h.01M191.5 238.9h.01M195.6 238.8h.01M197.9 235.5h.01M180.9 230.7h.01M195.9 227.7h.01M192.8 248.7h.01M196.4 232.9h.01M195.8 245.4h.01M183.8 228.6h.01M190.6 234.5h.01M194.3 233.5h.01M195.6 238.3h.01M187.3 233.1h.01M186.8 239.8h.01M196.6 242.5h.01M189.2 233.8h.01M180.9 237.8h.01M184.4 240.2h.01M201.9 240.9h.01M199.0 239.4h.01M197.3 244.5h.01M203.1 252.4h.01M193.2 243.8h.01M200.5 240.8h.01M196.6 228.5h.01M202.0 231.3h.01M190.7 231.5h.01M198.5 230.7h.01M197.9 241.8h.01M195.6 235.2h.01M198.8 247.2h.01M191.9 230.0h.01M191.0 231.3h.01M193.4 236.6h.01M180.8 248.3h.01M189.6 234.6h.01M182.2 223.4h.01M188.3 239.4h.01M200.4 224.5h.01M196.3 248.7h.01M190.7 269.6h.01M180.9 258.7h.01M190.4 268.1h.01M188.9 262.9h.01M183.5 267.1h.01M182.9 268.8h.01M194.9 267.2h.01M185.4 257.9h.01M197.8 259.3h.01M195.4 264.1h.01M180.9 265.2h.01M186.8 258.0h.01M187.2 258.0h.01M192.6 268.5h.01M183.9 257.5h.01M180.7 263.6h.01M197.1 266.7h.01M182.8 269.1h.01M186.5 268.6h.01M189.2 257.9h.01M187.9 266.6h.01M185.0 262.4h.01M184.5 260.8h.01M186.8 268.6h.01M191.9 267.3h.01M197.8 255.0h.01M182.9 265.9h.01M187.9 256.4h.01M188.7 268.1h.01M202.1 266.8h.01M187.1 269.8h.01M192.2 266.7h.01M200.9 265.3h.01M181.7 265.2h.01M181.8 258.5h.01M195.9 270.6h.01M190.6 251.5h.01M195.3 264.8h.01M184.0 262.1h.01M182.9 263.3h.01M194.1 269.2h.01M182.1 263.5h.01M197.2 263.8h.01M184.2 262.3h.01M193.0 261.8h.01M188.6 271.0h.01M190.4 257.6h.01M200.5 263.5h.01M191.1 262.1h.01M184.9 261.3h.01M184.8 260.1h.01M182.9 262.3h.01M193.1 260.4h.01M184.0 266.3h.01M187.9 269.8h.01M193.5 263.5h.01M196.4 263.9h.01M182.1 272.6h.01M193.1 266.8h.01M180.8 271.3h.01M184.5 266.6h.01M184.8 266.8h.01M189.1 262.6h.01M189.5 264.3h.01M187.5 258.0h.01M186.5 260.3h.01M187.8 258.6h.01M199.1 261.6h.01M181.6 268.6h.01M195.4 268.9h.01M195.5 266.9h.01M181.6 267.4h.01M197.8 265.0h.01M188.2 258.8h.01M193.3 262.6h.01M186.4 257.5h.01M183.7 270.2h.01M185.8 257.9h.01M197.1 260.7h.01M187.4 268.1h.01M186.1 270.2h.01M188.8 263.3h.01M184.9 257.0h.01M191.0 259.2h.01M186.7 260.5h.01M185.0 264.4h.01M189.2 255.8h.01M184.8 263.3h.01M190.2 266.5h.01M182.4 263.3h.01M184.8 265.1h.01M196.1 266.1h.01M192.1 262.7h.01M192.2 268.0h.01M191.7 257.3h.01M192.9 263.4h.01M195.3 260.5h.01M185.4 265.6h.01M199.3 266.7h.01M185.6 267.0h.01M190.6 263.9h.01M193.6 267.5h.01M185.5 267.1h.01M201.2 257.7h.01M183.5 262.5h.01M183.8 260.3h.01M187.8 265.5h.01M189.3 259.0h.01M186.6 273.4h.01M189.1 271.0h.01M194.2 271.1h.01M188.9 267.9h.01M188.3 259.0h.01M183.8 265.8h.01M181.5 265.4h.01M185.4 265.4h.01M182.8 267.6h.01M188.7 257.2h.01M182.4 264.1h.01M181.4 265.3h.01M197.2 262.5h.01M180.7 271.3h.01M195.5 255.2h.01M183.3 263.2h.01M192.8 261.7h.01M200.6 270.6h.01M210.8 268.0h.01M188.6 271.3h.01M180.7 263.3h.01M184.7 258.4h.01M183.1 261.0h.01M195.2 265.9h.01M185.4 257.3h.01M193.6 254.2h.01M184.3 261.8h.01M188.2 261.9h.01M197.0 261.2h.01M187.7 271.6h.01M195.1 263.9h.01M186.1 267.0h.01M182.1 264.7h.01M182.9 263.8h.01M187.7 265.6h.01M202.6 268.2h.01M190.6 263.2h.01M189.0 262.8h.01M194.9 265.2h.01M192.1 259.9h.01M190.7 261.2h.01M196.5 262.5h.01M190.7 257.6h.01M197.6 262.2h.01M193.8 260.9h.01M197.4 263.4h.01M188.3 268.8h.01M198.0 269.3h.01M183.1 266.8h.01M197.5 269.7h.01M193.7 265.2h.01M200.3 256.6h.01M191.7 272.6h.01M185.9 260.0h.01M183.8 259.5h.01M196.4 266.9h.01M194.6 265.4h.01M184.9 267.2h.01M188.5 258.6h.01M188.3 269.4h.01M205.9 264.2h.01M180.8 260.7h.01M201.4 272.8h.01M182.9 264.8h.01M191.1 268.5h.01M191.8 259.2h.01M196.9 270.6h.01M192.4 267.3h.01M188.7 257.6h.01M195.0 260.7h.01M199.9 266.9h.01M190.5 254.2h.01M199.0 261.7h.01M181.7 266.8h.01M181.2 258.8h.01M195.4 266.9h.01M193.2 274.8h.01M182.6 266.1h.01M195.6 258.5h.01M194.2 260.8h.01M187.5 267.3h.01M185.8 264.9h.01M181.2 257.7h.01M186.0 266.4h.01M182.1 263.7h.01M181.2 266.5h.01M200.6 256.8h.01M180.9 255.2h.01M185.2 265.0h.01M196.7 260.2h.01M188.7 268.8h.01M195.7 262.9h.01M203.3 260.8h.01M180.9 263.3h.01M185.0 267.5h.01M186.7 260.1h.01M196.3 272.9h.01M196.1 261.6h.01M184.9 259.7h.01M187.1 261.8h.01M189.8 260.1h.01M199.3 268.1h.01M194.7 263.1h.01M193.5 268.4h.01M182.2 267.8h.01M195.2 266.4h.01M198.5 261.1h.01M180.8 268.5h.01M188.8 268.7h.01M190.6 257.7h.01M199.7 252.4h.01M194.5 270.4h.01M181.8 271.8h.01M185.1 271.4h.01M185.9 257.0h.01M187.4 268.3h.01M195.5 261.2h.01M193.8 263.0h.01M189.2 269.3h.01M190.9 269.4h.01M202.0 261.4h.01M196.0 263.0h.01M201.8 267.5h.01M198.9 266.3h.01M186.2 267.2h.01M194.2 265.9h.01M191.5 257.9h.01M193.3 258.8h.01M187.2 271.1h.01M186.9 260.1h.01M201.5 257.6h.01M190.7 260.6h.01M185.2 266.6h.01M182.6 273.7h.01M195.9 265.2h.01M191.1 257.6h.01M191.6 259.5h.01M193.4 259.1h.01M183.5 262.5h.01M184.4 268.0h.01M199.7 266.7h.01M196.8 268.1h.01M193.8 257.6h.01M186.1 270.2h.01M195.3 267.1h.01M183.5 265.8h.01M183.8 267.2h.01M193.5 265.5h.01M191.1 268.2h.01M189.9 271.1h.01M189.3 273.8h.01M188.9 258.6h.01M195.3 264.9h.01M184.9 268.1h.01M190.0 259.6h.01M180.8 259.4h.01M191.9 259.2h.01M195.0 273.5h.01M192.7 267.6h.01M184.9 266.7h.01M195.0 267.0h.01M201.6 263.7h.01M194.3 259.3h.01M182.0 265.5h.01M189.2 265.2h.01M195.0 256.8h.01M184.5 264.7h.01M182.1 267.3h.01M189.7 268.7h.01M188.1 268.1h.01M184.1 255.5h.01M185.7 266.9h.01M192.1 255.4h.01M198.7 260.7h.01M194.9 262.5h.01M183.4 267.7h.01M183.0 259.6h.01M194.4 256.7h.01M197.1 262.8h.01M193.2 263.8h.01M186.1 272.7h.01M181.3 265.5h.01M202.9 274.4h.01M197.1 258.9h.01M202.2 270.4h.01M191.5 271.1h.01M185.2 261.3h.01M188.5 264.6h.01M203.0 264.4h.01M194.9 260.8h.01M200.7 260.6h.01M185.7 254.7h.01M212.2 238.1h.01M214.7 233.7h.01M212.9 254.0h.01M214.0 234.6h.01M214.4 235.6h.01M213.1 241.7h.01M213.3 248.6h.01M217.0 245.3h.01M213.4 247.4h.01M208.9 241.0h.01M216.3 236.3h.01M215.7 244.3h.01M218.5 232.8h.01M214.5 224.3h.01M213.5 244.6h.01M217.3 246.1h.01M215.0 238.3h.01M213.8 243.0h.01M215.7 251.6h.01M211.0 226.2h.01M214.0 247.0h.01M216.6 243.6h.01M215.0 241.8h.01M217.5 248.3h.01M209.0 246.4h.01M213.7 242.0h.01M217.5 251.6h.01M219.5 240.0h.01M215.1 249.0h.01M212.1 245.0h.01M214.6 246.2h.01M220.6 244.4h.01M222.5 238.3h.01M211.8 250.0h.01M215.3 245.5h.01M217.4 241.8h.01M215.9 232.3h.01M215.2 250.8h.01M213.1 240.4h.01M208.8 247.6h.01M206.8 249.6h.01M214.7 237.6h.01M218.6 235.7h.01M213.2 243.5h.01M213.9 237.3h.01M213.3 242.8h.01M208.6 252.5h.01M212.2 236.2h.01M211.9 233.8h.01M213.1 237.8h.01M215.8 252.3h.01M220.0 234.7h.01M212.6 242.2h.01M214.2 240.4h.01M210.0 242.0h.01M216.1 241.0h.01M215.9 250.4h.01M209.3 228.7h.01M216.0 244.3h.01M210.0 243.1h.01M217.6 243.1h.01M214.2 233.6h.01M215.4 244.5h.01M215.1 232.2h.01M210.8 238.8h.01M215.1 233.6h.01M210.7 255.1h.01M219.2 248.1h.01M211.5 244.1h.01M214.9 260.8h.01M214.1 248.3h.01M220.4 247.9h.01M215.3 239.4h.01M216.3 247.0h.01M218.1 243.4h.01M217.5 231.3h.01M207.1 241.3h.01M214.1 248.3h.01M214.5 252.5h.01M213.5 242.6h.01M207.6 242.7h.01M217.7 233.9h.01M217.0 234.7h.01M210.6 242.0h.01M216.0 251.9h.01M212.5 241.6h.01M213.1 241.8h.01M214.0 238.6h.01M214.0 242.6h.01M213.7 240.8h.01M215.1 240.3h.01M215.7 235.4h.01M217.3 239.7h.01M217.5 251.1h.01M215.1 256.3h.01M212.7 242.6h.01M213.2 238.6h.01M214.8 245.0h.01M215.1 247.3h.01M216.5 248.7h.01M211.3 245.1h.01M210.9 237.9h.01M212.5 235.8h.01M215.8 238.2h.01M214.8 242.9h.01M219.8 232.9h.01M210.4 250.1h.01M208.9 234.7h.01M216.9 237.5h.01M214.4 249.9h.01M217.9 239.3h.01M214.5 243.0h.01M210.1 253.8h.01M210.5 248.6h.01M220.2 230.3h.01M214.5 232.4h.01M212.9 259.8h.01M216.5 229.3h.01M218.7 245.7h.01M214.3 237.7h.01M213.5 249.5h.01M214.9 245.5h.01M216.7 248.9h.01M219.9 242.9h.01M212.9 244.9h.01M214.9 248.7h.01M211.3 234.3h.01M210.9 247.1h.01M210.3 235.2h.01M214.3 228.2h.01M217.5 242.8h.01M218.8 251.7h.01M218.2 257.3h.01M214.0 245.5h.01M214.3 236.9h.01M212.9 248.2h.01M212.6 234.5h.01M212.3 229.5h.01M218.7 239.4h.01M212.0 245.9h.01M211.8 254.1h.01M210.8 238.1h.01M216.7 230.5h.01M217.2 236.0h.01M213.0 226.0h.01M209.7 242.8h.01M214.6 246.3h.01M217.0 233.6h.01M218.6 239.1h.01M214.8 245.8h.01M216.6 238.1h.01M216.6 250.1h.01M214.2 231.5h.01M219.6 245.8h.01M213.8 235.4h.01M217.8 237.3h.01M215.0 238.2h.01M213.2 254.3h.01M213.1 230.3h.01M214.7 239.9h.01M215.4 239.9h.01M215.0 248.5h.01M213.6 241.7h.01M213.5 243.6h.01M213.6 248.0h.01M218.7 251.1h.01M216.7 242.7h.01M217.1 236.6h.01M217.2 239.4h.01M211.5 240.5h.01M207.9 255.3h.01M210.8 249.9h.01M212.3 241.4h.01M218.5 226.7h.01M218.7 242.7h.01M215.0 232.2h.01M211.2 248.9h.01M216.7 249.3h.01M216.6 256.9h.01M215.5 233.9h.01M215.7 232.0h.01M213.7 236.8h.01M215.5 230.2h.01M217.1 241.6h.01M210.9 249.7h.01M214.6 255.3h.01M215.9 237.8h.01M214.6 235.1h.01M214.5 249.1h.01M215.6 230.5h.01M211.7 249.8h.01M215.6 236.8h.01M217.1 234.4h.01M211.2 229.7h.01M215.6 250.5h.01M214.8 240.3h.01M212.2 248.0h.01M211.7 244.7h.01M215.6 238.3h.01M214.5 235.3h.01M216.5 267.1h.01M215.8 268.5h.01M215.1 269.4h.01M220.4 273.8h.01M214.3 270.0h.01M209.6 258.2h.01M217.7 272.2h.01M212.5 265.5h.01M209.4 267.3h.01M210.1 271.1h.01M211.2 273.9h.01M218.8 259.2h.01M216.5 266.1h.01M210.3 262.5h.01M215.1 271.1h.01M214.8 266.2h.01M203.9 273.7h.01M207.2 274.1h.01M211.3 256.0h.01M217.0 259.6h.01M213.2 256.9h.01M215.2 252.0h.01M220.9 263.8h.01M217.9 265.4h.01M218.2 268.1h.01M211.8 265.0h.01M214.7 259.9h.01M216.0 260.3h.01M210.2 261.4h.01M213.6 258.1h.01M211.1 263.3h.01M212.6 266.2h.01M213.2 268.5h.01M212.7 260.6h.01M218.3 274.5h.01M212.5 261.7h.01M217.0 256.1h.01M207.1 254.0h.01M211.7 263.0h.01M214.8 263.9h.01M209.4 265.4h.01M214.0 261.7h.01M214.7 264.9h.01M208.5 274.3h.01M213.6 261.9h.01M211.7 261.6h.01M213.8 268.9h.01M213.5 268.7h.01M213.9 269.1h.01M209.9 259.5h.01M213.1 258.9h.01M217.5 265.0h.01M212.6 267.5h.01M206.9 271.5h.01M209.3 258.1h.01M217.3 265.7h.01M211.4 252.3h.01M213.5 261.8h.01M214.0 263.6h.01M213.9 257.0h.01M220.4 257.4h.01M213.4 261.2h.01M212.4 261.3h.01M211.9 265.1h.01M213.1 265.6h.01M212.0 263.1h.01M213.6 274.1h.01M212.3 271.3h.01M216.4 257.3h.01M216.5 251.1h.01M213.5 267.5h.01M220.5 263.2h.01M210.2 274.3h.01M215.4 265.9h.01M214.4 261.6h.01M214.9 260.4h.01M213.6 260.6h.01M209.2 263.7h.01M207.4 259.4h.01M218.3 265.8h.01M215.7 257.9h.01M213.9 274.4h.01M211.1 265.7h.01M214.2 253.6h.01M215.1 257.4h.01M214.1 263.8h.01M212.6 263.2h.01M212.2 261.5h.01M213.5 262.5h.01M212.6 259.7h.01M217.0 263.7h.01M207.2 262.5h.01M211.6 274.2h.01M213.2 265.3h.01M212.8 269.3h.01M212.4 262.4h.01M218.0 257.8h.01M213.1 245.8h.01M218.0 266.7h.01M214.6 260.7h.01M211.6 265.8h.01M216.6 260.7h.01M214.6 259.7h.01M209.1 257.8h.01M212.0 267.7h.01M217.3 268.0h.01M211.6 265.8h.01M212.2 268.5h.01M216.4 269.4h.01M214.7 267.2h.01M207.3 274.5h.01M212.8 259.7h.01M217.6 251.9h.01M210.6 273.1h.01M210.6 258.2h.01M217.3 258.7h.01M208.9 252.4h.01M212.0 264.5h.01M218.5 264.2h.01M207.0 266.0h.01M215.8 262.9h.01M214.7 271.1h.01M214.9 264.1h.01M215.8 266.0h.01M211.4 265.1h.01M211.3 254.4h.01M215.4 257.1h.01M213.6 253.0h.01M213.0 258.5h.01M208.1 258.6h.01M213.5 269.4h.01M217.7 264.3h.01M216.0 268.0h.01M214.0 266.4h.01M215.6 260.2h.01M218.5 261.1h.01M210.3 260.1h.01M209.9 254.9h.01M214.9 270.7h.01M213.1 267.5h.01M214.5 274.1h.01M216.5 261.1h.01M214.3 267.0h.01M212.3 269.1h.01M216.3 258.8h.01M208.9 264.2h.01M214.8 268.9h.01M212.3 264.5h.01M212.0 271.0h.01M211.4 260.9h.01M217.1 267.1h.01M213.6 264.1h.01M218.5 261.5h.01M216.0 261.7h.01M214.2 252.1h.01M212.8 262.6h.01M212.9 269.4h.01M209.5 266.7h.01M214.3 267.6h.01M216.6 264.5h.01M215.1 266.6h.01M219.5 265.0h.01M213.9 270.8h.01M212.6 262.9h.01M207.9 260.6h.01M213.7 272.2h.01M212.7 256.1h.01M211.0 269.3h.01M211.7 258.1h.01M213.0 253.8h.01M213.4 257.3h.01M214.6 266.6h.01M212.2 271.1h.01M216.0 265.6h.01M215.8 269.6h.01M215.2 274.3h.01M216.2 265.9h.01M213.3 252.3h.01M207.5 272.7h.01M216.4 258.4h.01M212.4 267.1h.01M213.0 261.7h.01M212.0 260.2h.01M215.1 271.4h.01M212.6 265.0h.01M216.8 272.2h.01M209.1 270.4h.01M213.2 263.4h.01M211.0 270.5h.01M213.5 266.9h.01M216.2 263.7h.01M211.5 258.3h.01M215.7 263.4h.01M217.9 265.4h.01M211.3 253.0h.01M214.9 266.1h.01M210.8 264.5h.01M214.6 266.1h.01M216.7 265.4h.01M213.9 264.8h.01M217.5 269.0h.01M211.6 259.3h.01M213.7 262.0h.01M206.9 270.6h.01M215.1 264.8h.01M210.4 264.4h.01M219.0 268.5h.01M214.5 256.0h.01M209.9 267.5h.01M209.2 263.7h.01M210.9 273.7h.01M211.1 263.2h.01M208.6 258.4h.01M210.6 263.8h.01M208.7 261.2h.01M216.1 274.8h.01M210.6 267.1h.01M208.0 262.5h.01M214.4 267.1h.01M212.8 263.8h.01M211.9 265.0h.01M214.4 269.1h.01M216.9 258.7h.01M212.5 272.1h.01M213.2 263.7h.01M208.8 267.2h.01M216.3 249.1h.01M217.2 264.5h.01M210.9 268.1h.01M214.9 257.9h.01M197.3 255.6h.01M204.0 230.5h.01M210.5 262.6h.01M215.6 231.8h.01M195.1 258.4h.01M191.7 247.1h.01M221.2 245.6h.01M221.0 269.0h.01M196.9 257.4h.01M193.8 241.9h.01M208.8 274.5h.01M203.6 254.7h.01M187.3 264.8h.01M205.6 236.2h.01M197.4 253.7h.01M206.9 228.8h.01M204.9 268.6h.01M209.3 242.0h.01M203.8 271.0h.01M194.7 240.6h.01M210.7 250.0h.01M200.1 241.7h.01M184.9 252.3h.01M198.9 255.2h.01M195.1 232.0h.01M185.0 231.8h.01M193.6 260.9h.01M183.1 257.3h.01M198.3 258.2h.01M189.3 267.5h.01M201.6 241.3h.01M214.0 214.6h.01M192.7 269.3h.01M197.1 232.8h.01M201.9 250.3h.01M208.0 241.1h.01M210.6 226.8h.01M212.0 233.2h.01M199.1 225.9h.01M222.9 239.3h.01M208.3 241.8h.01M205.8 247.0h.01M210.0 273.6h.01M181.5 240.3h.01M200.1 253.9h.01M214.1 271.5h.01M205.7 236.9h.01M200.4 246.8h.01M209.4 245.6h.01M205.5 264.0h.01M190.4 251.7h.01M200.7 241.6h.01M204.4 238.6h.01M184.7 266.1h.01M200.8 228.8h.01M204.7 236.6h.01M195.0 262.7h.01M205.5 243.1h.01M198.5 235.6h.01M216.7 242.7h.01M211.0 243.4h.01M194.5 252.1h.01M204.2 260.6h.01M205.1 267.5h.01M187.1 240.8h.01M202.0 215.2h.01M188.3 246.6h.01M190.7 247.0h.01M197.2 259.1h.01M196.0 263.2h.01M190.1 255.3h.01M187.5 216.1h.01M181.5 229.8h.01M196.3 266.0h.01M192.4 242.7h.01M194.8 252.1h.01M205.8 249.1h.01M205.9 235.8h.01M197.0 258.9h.01M210.4 245.8h.01M192.8 243.3h.01M195.2 235.6h.01M197.3 248.5h.01M216.2 252.8h.01M214.0 249.9h.01M198.9 270.7h.01M200.5 253.4h.01M206.8 259.5h.01M192.4 233.6h.01M214.2 221.5h.01M199.0 248.3h.01M197.2 239.2h.01M197.0 244.7h.01M195.9 255.5h.01M191.3 221.3h.01M193.9 261.1h.01M190.8 233.0h.01M196.9 257.7h.01M197.0 240.5h.01M187.8 250.0h.01M181.3 237.7h.01M197.9 257.1h.01M184.1 265.1h.01M204.1 246.1h.01M205.3 258.2h.01M204.7 230.1h.01M210.8 269.5h.01M214.1 231.8h.01M191.2 269.3h.01M200.4 274.4h.01M208.2 259.8h.01M195.7 272.4h.01M203.0 233.8h.01M193.8 247.2h.01M199.2 247.6h.01M197.6 217.8h.01M191.1 253.6h.01M193.5 243.2h.01M208.1 245.8h.01M186.6 251.3h.01M201.7 238.6h.01M212.9 263.5h.01M215.0 266.9h.01M222.4 252.9h.01M206.6 235.5h.01M215.3 235.3h.01M198.3 240.8h.01M206.1 253.2h.01M214.3 260.7h.01M194.7 219.8h.01M194.9 258.0h.01M213.3 232.0h.01M203.3 249.5h.01M211.8 245.9h.01M203.9 241.2h.01M185.8 244.1h.01M199.0 230.0h.01M220.7 265.0h.01M219.3 257.8h.01M189.1 242.5h.01M205.0 272.3h.01M202.4 239.9h.01M211.3 243.9h.01M206.5 242.4h.01M197.1 256.1h.01M207.3 251.2h.01M208.8 262.6h.01M197.2 250.4h.01M214.2 240.5h.01M194.0 248.5h.01M182.8 263.8h.01M191.4 256.8h.01M210.8 243.6h.01M204.2 245.8h.01M200.6 243.3h.01M201.3 255.1h.01M217.4 231.0h.01M205.1 235.0h.01M211.2 259.9h.01M214.8 237.4h.01M214.5 244.2h.01M217.6 252.5h.01M201.3 248.9h.01M200.1 250.5h.01M215.8 257.1h.01M202.8 238.2h.01M206.3 258.4h.01M203.6 266.1h.01M198.7 274.4h.01M209.1 250.6h.01M194.2 239.7h.01M210.5 256.1h.01M198.5 272.5h.01M202.8 268.2h.01M197.2 237.7h.01M213.8 254.2h.01M207.7 255.8h.01M207.4 246.0h.01M207.6 247.7h.01M204.4 250.3h.01M213.2 226.3h.01M200.6 261.5h.01M194.2 265.2h.01M198.2 263.5h.01M197.3 241.2h.01M211.6 263.8h.01M201.4 248.8h.01M184.2 260.0h.01M189.4 238.9h.01M208.6 248.4h.01M197.4 254.2h.01M212.6 239.4h.01M212.2 236.1h.01M193.5 267.0h.01M200.4 265.0h.01M189.8 233.6h.01M202.4 271.5h.01M188.4 244.8h.01M212.0 258.7h.01M213.7 259.8h.01M204.5 237.4h.01M189.1 257.1h.01M181.2 236.6h.01M210.2 233.2h.01M199.9 253.3h.01M198.8 241.4h.01M197.8 231.6h.01M204.1 246.2h.01M192.8 251.0h.01M197.7 258.1h.01M207.4 237.3h.01M197.1 247.7h.01M188.6 243.3h.01M208.4 258.0h.01M200.6 266.1h.01M227.0 267.5h.01M184.4 268.7h.01M218.2 254.3h.01M210.6 241.4h.01M192.1 262.6h.01M199.3 258.9h.01M214.2 240.1h.01M190.8 249.8h.01M206.5 229.2h.01M200.2 260.7h.01M199.0 252.1h.01M197.6 252.8h.01M197.4 239.6h.01M198.7 257.8h.01M201.9 259.1h.01M210.2 240.3h.01M193.5 246.4h.01M214.8 244.6h.01M209.2 266.9h.01M234.5 250.0h.01M201.5 240.7h.01M182.1 262.0h.01M204.5 227.1h.01M196.1 245.5h.01M194.3 235.8h.01M203.9 253.3h.01M181.0 245.0h.01M195.2 266.0h.01M218.2 265.9h.01M208.3 242.6h.01M198.7 228.8h.01M183.2 260.9h.01M209.8 252.8h.01M215.8 266.0h.01M201.4 240.3h.01M195.5 236.6h.01M192.4 244.1h.01M190.2 243.0h.01M197.9 261.0h.01M209.2 265.4h.01M205.0 241.2h.01M193.5 242.9h.01M203.4 253.9h.01M218.0 254.6h.01M207.3 257.6h.01M195.3 249.2h.01M192.0 242.5h.01M204.4 269.0h.01M186.2 225.1h.01M193.0 269.0h.01M192.6 237.8h.01M210.3 252.2h.01M199.1 251.4h.01M217.0 263.8h.01M211.7 260.4h.01M202.8 265.6h.01M195.8 256.1h.01M194.1 252.5h.01M212.3 244.8h.01M213.4 265.0h.01M210.4 268.1h.01M205.5 220.6h.01M185.4 247.2h.01M211.4 213.2h.01M206.4 219.7h.01M206.6 222.1h.01M204.8 218.2h.01M215.5 222.0h.01M210.2 219.4h.01M206.9 217.5h.01M205.6 218.8h.01M213.7 214.7h.01M202.2 217.8h.01M220.4 218.4h.01M209.6 217.6h.01M199.2 215.6h.01M217.5 211.5h.01M219.2 214.2h.01M220.6 225.4h.01M217.5 217.3h.01M212.3 216.1h.01M206.3 218.3h.01M190.8 219.3h.01M207.1 214.5h.01M207.3 219.6h.01M204.4 218.8h.01M201.1 218.0h.01M202.2 220.0h.01M202.9 219.5h.01M197.4 218.2h.01M215.2 215.3h.01M209.2 215.2h.01M211.6 219.9h.01M186.6 263.2h.01M187.0 226.8h.01M184.2 249.0h.01M184.3 216.4h.01M188.7 274.2h.01M184.0 210.6h.01M188.3 236.4h.01M189.3 221.1h.01M185.1 253.7h.01M181.5 233.8h.01M185.1 251.4h.01M184.8 210.6h.01M181.0 246.1h.01M187.7 212.3h.01M184.8 256.1h.01M181.5 211.5h.01M184.5 231.8h.01M183.6 236.0h.01M183.6 245.2h.01M182.6 239.1h.01M182.5 224.2h.01M184.7 224.9h.01M185.2 239.2h.01M186.5 250.1h.01M181.1 239.2h.01M185.5 241.6h.01M184.0 258.9h.01M185.5 215.7h.01M184.1 257.5h.01M184.2 216.9h.01M185.7 250.4h.01M186.6 242.7h.01M184.1 254.8h.01M181.2 270.2h.01M184.8 243.6h.01M185.7 253.7h.01M181.3 256.2h.01M183.6 225.6h.01M186.0 256.4h.01M184.8 228.5h.01M184.1 222.7h.01M189.9 227.8h.01M186.0 268.7h.01M181.8 230.1h.01M180.9 235.3h.01M181.1 242.4h.01M183.3 239.8h.01M184.0 231.2h.01M184.1 238.4h.01M182.2 234.0h.01M182.5 216.6h.01M183.8 211.3h.01M185.1 239.0h.01M184.3 260.3h.01M186.2 231.8h.01M184.7 260.9h.01M183.5 246.4h.01M184.9 221.1h.01M184.5 232.6h.01M183.2 247.4h.01M185.4 223.5h.01M183.3 236.1h.01M181.6 246.2h.01M183.4 227.0h.01M186.1 238.1h.01M181.1 237.9h.01M183.4 244.8h.01M189.3 249.4h.01M187.3 236.5h.01M185.0 248.5h.01M183.6 244.0h.01M182.8 252.0h.01M181.7 270.2h.01M181.9 214.9h.01M183.6 246.1h.01M184.2 210.7h.01M184.9 223.9h.01M184.4 232.1h.01M183.2 212.5h.01M180.7 229.7h.01M202.4 268.6h.01M203.0 265.5h.01M195.5 263.9h.01M208.5 272.2h.01M198.3 257.9h.01M213.1 265.8h.01M204.6 264.8h.01M191.1 267.1h.01M196.1 264.3h.01M198.2 264.4h.01M216.1 272.8h.01M190.3 258.2h.01M198.9 262.4h.01M206.5 273.1h.01M197.5 268.4h.01M200.6 256.2h.01M208.9 274.0h.01M197.0 268.6h.01M198.8 265.2h.01M199.1 265.0h.01M202.1 262.7h.01M203.5 259.4h.01M206.7 261.1h.01M190.8 269.6h.01M199.8 263.1h.01M207.3 265.5h.01M213.5 267.7h.01M193.4 263.2h.01M197.9 264.2h.01M211.9 273.9h.01M212.1 267.8h.01M205.1 266.4h.01M188.7 272.3h.01M213.7 263.1h.01M201.7 262.2h.01M200.7 261.5h.01M195.1 271.4h.01M190.3 270.6h.01M195.1 264.4h.01M189.9 268.8h.01M195.9 274.2h.01M196.3 266.8h.01M205.8 261.0h.01M196.9 260.5h.01M205.2 267.1h.01M207.9 258.7h.01M196.3 265.1h.01M199.2 267.1h.01M208.6 266.3h.01M197.1 265.4h.01M197.6 262.5h.01M212.9 268.9h.01M212.8 264.6h.01M201.5 259.6h.01M203.3 269.1h.01M206.0 260.1h.01M202.5 270.1h.01M199.1 269.0h.01M198.9 265.6h.01M198.4 258.5h.01M196.9 266.5h.01M200.2 265.6h.01M198.4 269.9h.01M200.8 267.5h.01M199.0 271.9h.01M201.3 267.7h.01M215.0 267.7h.01M192.6 262.4h.01M203.8 259.3h.01M193.1 265.1h.01" stroke="#1a1a1a" stroke-width="0.8" stroke-linecap="round" fill="none"/>
</g>
<rect x="179.90" y="209.70" width="66.20" height="65.90" fill="none" stroke="#666" stroke-width="0.7"/>
<ellipse cx="191.10" cy="216.90" rx="10.2" ry="6.5" fill="none" stroke="#4a4a4a" stroke-width="0.65"/>
<ellipse cx="212.00" cy="217.40" rx="10.7" ry="7" fill="none" stroke="#4a4a4a" stroke-width="0.65"/>
<ellipse cx="197.20" cy="236.60" rx="11.1" ry="12.2" fill="none" stroke="#4a4a4a" stroke-width="0.65"/>
<ellipse cx="216.10" cy="243.20" rx="7.6" ry="11.8" fill="none" stroke="#4a4a4a" stroke-width="0.65"/>
<ellipse cx="215.00" cy="264.10" rx="7.6" ry="9.2" fill="none" stroke="#4a4a4a" stroke-width="0.65"/>
<text x="192.30" y="217.10" font-size="7.0" text-anchor="middle" font-weight="bold" fill="#000"  stroke-width="0.8" stroke="#fff" stroke-opacity="0.45" paint-order="stroke">20%</text>
<text x="192.30" y="217.10" font-size="7.0" text-anchor="middle" font-weight="bold" fill="#000"  stroke-width="0.12" stroke="#000">20%</text>
<text x="211.40" y="217.60" font-size="7.0" text-anchor="middle" font-weight="bold" fill="#000"  stroke-width="0.8" stroke="#fff" stroke-opacity="0.45" paint-order="stroke">3%</text>
<text x="211.40" y="217.60" font-size="7.0" text-anchor="middle" font-weight="bold" fill="#000"  stroke-width="0.12" stroke="#000">3%</text>
<text x="197.60" y="247.40" font-size="7.0" text-anchor="middle" font-weight="bold" fill="#000"  stroke-width="0.8" stroke="#fff" stroke-opacity="0.45" paint-order="stroke">11%</text>
<text x="197.60" y="247.40" font-size="7.0" text-anchor="middle" font-weight="bold" fill="#000"  stroke-width="0.12" stroke="#000">11%</text>
<text x="216.10" y="241.40" font-size="7.0" text-anchor="middle" font-weight="bold" fill="#000"  stroke-width="0.8" stroke="#fff" stroke-opacity="0.45" paint-order="stroke">19%</text>
<text x="216.10" y="241.40" font-size="7.0" text-anchor="middle" font-weight="bold" fill="#000"  stroke-width="0.12" stroke="#000">19%</text>
<text x="214.00" y="272.30" font-size="7.0" text-anchor="middle" font-weight="bold" fill="#000"  stroke-width="0.8" stroke="#fff" stroke-opacity="0.45" paint-order="stroke">7%</text>
<text x="214.00" y="272.30" font-size="7.0" text-anchor="middle" font-weight="bold" fill="#000"  stroke-width="0.12" stroke="#000">7%</text>
<rect x="181.00" y="276.60" width="2.2" height="1.7" fill="#999"/>
<rect x="177.30" y="272.40" width="1.3" height="2" fill="#999"/>
<rect x="197.25" y="276.60" width="2.2" height="1.7" fill="#999"/>
<rect x="177.30" y="256.23" width="1.3" height="2" fill="#999"/>
<rect x="213.50" y="276.60" width="2.2" height="1.7" fill="#999"/>
<rect x="177.30" y="240.05" width="1.3" height="2" fill="#999"/>
<rect x="229.75" y="276.60" width="2.2" height="1.7" fill="#999"/>
<rect x="177.30" y="223.88" width="1.3" height="2" fill="#999"/>
<rect x="246.00" y="276.60" width="2.2" height="1.7" fill="#999"/>
<rect x="177.30" y="207.70" width="1.3" height="2" fill="#999"/>
<text x="210.50" y="207.20" font-size="8.75" text-anchor="middle" fill="#111" stroke="#111" stroke-width="0.3" >+ 2wk BMSCs</text>
<clipPath id="c104_294"><rect x="104.70" y="295.20" width="65.70" height="64.60"/></clipPath>
<g clip-path="url(#c104_294)">
<ellipse cx="117.00" cy="305.90" rx="9.5" ry="4.2" fill="url(#rg)" opacity="1" transform="rotate(4 117.00 305.90)"/>
<ellipse cx="117.00" cy="305.90" rx="4.28" ry="1.89" fill="none" stroke="#444" stroke-width="0.35" stroke-dasharray="1.2 0.8" opacity="0.80" transform="rotate(4 117.00 305.90)"/>
<ellipse cx="117.00" cy="305.90" rx="6.65" ry="2.94" fill="none" stroke="#444" stroke-width="0.35" stroke-dasharray="1.2 0.8" opacity="0.80" transform="rotate(4 117.00 305.90)"/>
<ellipse cx="138.00" cy="336.70" rx="2.8" ry="15" fill="url(#rg)" opacity="0.45" transform="rotate(0 138.00 336.70)"/>
<ellipse cx="138.00" cy="336.70" rx="1.26" ry="6.75" fill="none" stroke="#444" stroke-width="0.35" stroke-dasharray="1.2 0.8" opacity="0.36" transform="rotate(0 138.00 336.70)"/>
<ellipse cx="138.00" cy="336.70" rx="1.96" ry="10.50" fill="none" stroke="#444" stroke-width="0.35" stroke-dasharray="1.2 0.8" opacity="0.36" transform="rotate(0 138.00 336.70)"/>
<path d="M120.8 307.7h.01M114.4 302.5h.01M106.1 305.1h.01M105.2 306.2h.01M107.9 305.2h.01M118.1 297.8h.01M108.6 311.5h.01M127.2 307.0h.01M113.8 311.0h.01M117.7 306.4h.01M126.5 308.5h.01M110.3 311.3h.01M105.0 303.6h.01M118.7 305.4h.01M111.5 310.9h.01M105.4 306.1h.01M131.0 302.7h.01M129.6 306.4h.01M118.6 299.5h.01M125.3 309.4h.01M112.3 303.5h.01M110.0 302.4h.01M106.9 304.6h.01M108.4 307.1h.01M122.6 307.2h.01M115.4 308.1h.01M111.0 302.0h.01M109.0 308.9h.01M105.7 307.3h.01M115.6 305.3h.01M115.1 310.9h.01M124.7 301.4h.01M120.9 304.2h.01M115.7 311.4h.01M117.9 303.6h.01M106.3 305.3h.01M108.3 308.0h.01M123.8 304.9h.01M120.6 305.8h.01M117.0 310.1h.01M125.7 301.8h.01M113.8 310.2h.01M116.6 310.5h.01M108.0 302.5h.01M110.7 299.4h.01M124.1 301.7h.01M123.9 302.9h.01M124.3 306.2h.01M118.6 298.5h.01M113.1 310.1h.01M117.3 311.6h.01M113.0 298.9h.01M118.9 306.3h.01M119.0 309.5h.01M108.2 302.0h.01M120.2 300.3h.01M126.0 303.8h.01M127.9 310.0h.01M109.4 304.7h.01M107.8 304.7h.01M114.5 307.2h.01M106.3 303.9h.01M114.7 311.4h.01M111.9 308.3h.01M120.6 303.5h.01M114.8 310.1h.01M107.8 298.1h.01M118.6 307.0h.01M125.9 307.2h.01M126.0 309.4h.01M106.5 304.7h.01M122.6 309.0h.01M129.1 302.7h.01M105.6 301.1h.01M106.6 308.3h.01M113.7 310.0h.01M121.5 302.0h.01M117.0 304.7h.01M123.1 303.7h.01M130.9 313.1h.01M105.3 303.2h.01M119.3 301.8h.01M105.4 312.1h.01M111.2 301.3h.01M119.8 310.8h.01M107.3 307.0h.01M107.8 302.9h.01M114.9 311.2h.01M111.8 308.6h.01M107.5 303.9h.01M105.1 304.0h.01M123.4 302.9h.01M120.0 307.0h.01M107.7 303.5h.01M107.6 311.3h.01M127.0 308.3h.01M119.4 301.7h.01M111.7 298.3h.01M111.2 304.8h.01M110.8 312.2h.01M108.0 304.3h.01M114.8 301.3h.01M117.7 300.7h.01M114.7 313.5h.01M130.7 309.8h.01M116.9 305.7h.01M125.5 309.0h.01M121.6 306.1h.01M111.5 304.3h.01M113.8 300.2h.01M129.9 307.0h.01M131.1 306.7h.01M111.2 302.4h.01M108.6 301.7h.01M108.4 306.2h.01M119.8 303.8h.01M115.2 310.1h.01M123.5 309.3h.01M128.1 308.9h.01M123.8 309.3h.01M122.9 301.4h.01M113.9 300.9h.01M116.9 303.5h.01M117.1 301.3h.01M106.3 307.6h.01M107.1 301.4h.01M119.5 309.4h.01M112.6 314.0h.01M130.1 305.8h.01M105.7 304.5h.01M132.0 306.8h.01M108.9 299.3h.01M127.6 304.8h.01M113.1 303.9h.01M127.3 305.9h.01M128.1 304.8h.01M110.0 304.2h.01M112.1 308.7h.01M108.1 306.2h.01M111.7 301.9h.01M118.7 310.8h.01M111.8 300.4h.01M113.7 313.1h.01M125.0 302.5h.01M120.9 301.9h.01M124.3 302.6h.01M112.3 298.9h.01M114.4 310.8h.01M110.1 304.7h.01M120.5 312.0h.01M130.2 305.9h.01M125.3 301.8h.01M115.8 300.3h.01M130.8 304.8h.01M122.8 307.3h.01M115.2 306.2h.01M131.4 300.1h.01M105.9 305.9h.01M105.6 309.7h.01M108.7 303.3h.01M126.2 307.4h.01M125.3 311.2h.01M109.9 305.5h.01M126.3 306.1h.01M117.7 307.0h.01M108.2 306.4h.01M110.6 301.4h.01M118.0 300.7h.01M108.4 301.9h.01M106.8 304.5h.01M110.4 306.8h.01M113.0 304.0h.01M122.8 301.8h.01M117.4 305.7h.01M118.1 307.9h.01M106.8 305.2h.01M126.2 308.7h.01M126.9 308.1h.01M105.3 302.0h.01M109.6 302.3h.01M128.0 305.7h.01M123.3 310.9h.01M105.4 302.2h.01M106.1 306.9h.01M115.7 300.7h.01M117.0 303.4h.01M116.1 306.8h.01M112.8 309.0h.01M114.2 306.5h.01M108.3 302.9h.01M126.1 308.8h.01M105.5 307.4h.01M124.3 306.9h.01M125.0 302.6h.01M107.9 303.9h.01M119.6 305.1h.01M126.4 305.7h.01M126.4 305.8h.01M120.2 307.5h.01M128.4 308.8h.01M116.5 314.7h.01M118.9 311.9h.01M105.8 321.3h.01M107.7 302.1h.01M124.4 312.3h.01M115.1 299.4h.01M124.8 311.0h.01M114.3 310.6h.01M116.8 305.1h.01M125.9 309.9h.01M121.2 304.0h.01M115.8 308.6h.01M116.6 311.6h.01M121.1 308.9h.01M119.7 311.9h.01M128.1 304.8h.01M127.7 314.2h.01M126.5 307.3h.01M122.4 320.0h.01M111.4 313.9h.01M119.0 317.8h.01M121.9 314.0h.01M116.4 307.6h.01M132.3 303.9h.01M117.1 308.7h.01M112.0 312.9h.01M112.1 310.1h.01M119.2 299.4h.01M121.9 302.6h.01M121.1 298.8h.01M117.0 313.8h.01M122.8 315.3h.01M132.5 313.4h.01M119.5 309.4h.01M125.3 304.0h.01M113.4 309.9h.01M133.3 304.6h.01M122.6 306.6h.01M126.0 311.6h.01M120.6 314.2h.01M119.0 302.0h.01M135.9 309.4h.01M123.1 313.7h.01M115.0 307.7h.01M115.5 312.7h.01M123.7 310.9h.01M111.5 306.0h.01M110.5 303.4h.01M115.6 311.3h.01M124.4 301.3h.01M125.4 311.6h.01M132.2 314.0h.01M110.1 312.2h.01M122.5 311.5h.01M115.6 316.8h.01M121.5 307.1h.01M107.9 308.7h.01M111.0 302.9h.01M132.5 309.6h.01M127.8 315.2h.01M126.1 307.9h.01M112.4 309.1h.01M121.7 309.2h.01M118.7 310.6h.01M110.5 315.0h.01M112.4 310.5h.01M114.5 316.4h.01M116.8 305.5h.01M118.1 314.1h.01M112.0 303.7h.01M117.0 313.5h.01M105.3 314.3h.01M137.1 309.1h.01M127.5 309.3h.01M107.5 307.9h.01M125.2 304.6h.01M118.7 306.7h.01M123.6 321.8h.01M121.4 303.7h.01M132.8 308.5h.01M117.8 312.3h.01M126.3 311.0h.01M123.3 310.8h.01M112.1 313.7h.01M127.1 306.2h.01M108.1 307.0h.01M122.1 316.7h.01M122.4 295.8h.01M116.3 310.2h.01M122.5 302.6h.01M118.2 310.6h.01M125.8 313.8h.01M132.7 306.6h.01M117.7 307.8h.01M124.4 319.5h.01M122.1 310.7h.01M114.1 303.8h.01M133.6 309.5h.01M131.0 313.9h.01M117.2 311.1h.01M114.2 313.0h.01M119.7 313.7h.01M129.8 307.1h.01M126.6 312.0h.01M117.0 311.3h.01M129.8 310.7h.01M127.8 311.6h.01M129.9 309.3h.01M118.4 313.0h.01M105.2 307.5h.01M131.9 306.4h.01M134.2 317.7h.01M117.2 306.3h.01M123.6 314.3h.01M133.5 317.3h.01M115.6 314.1h.01M117.1 315.2h.01M124.2 316.9h.01M120.1 314.0h.01M111.5 305.3h.01M124.5 310.5h.01M127.2 321.1h.01M116.2 304.2h.01M113.1 307.0h.01M129.2 311.8h.01M118.6 313.2h.01M119.5 311.2h.01M120.6 303.4h.01M126.7 310.9h.01M136.9 310.5h.01M116.4 310.9h.01M115.5 309.8h.01M118.0 311.6h.01M114.0 309.5h.01M117.7 305.3h.01M120.2 313.4h.01M126.0 311.5h.01M119.9 314.6h.01M118.7 313.3h.01M108.1 304.2h.01M115.4 315.5h.01M118.8 312.3h.01M112.7 302.7h.01M141.1 318.1h.01M133.5 310.1h.01M115.9 311.3h.01M118.9 307.8h.01M105.2 311.1h.01M105.5 307.6h.01M109.5 319.8h.01M117.9 321.6h.01M120.8 310.8h.01M123.2 312.2h.01M127.5 318.6h.01M122.5 324.4h.01M116.8 313.9h.01M129.8 322.8h.01M124.0 306.9h.01M121.7 313.0h.01M118.1 308.9h.01M112.1 316.0h.01M123.7 315.6h.01M120.5 319.0h.01M129.3 315.1h.01M122.3 334.8h.01M121.3 323.4h.01M114.7 312.3h.01M118.9 336.7h.01M117.9 326.9h.01M118.6 311.2h.01M110.7 319.5h.01M127.6 313.9h.01M119.2 312.0h.01M117.3 324.6h.01M118.4 312.4h.01M125.0 320.2h.01M121.2 330.8h.01M123.2 325.5h.01M114.4 318.2h.01M128.8 323.1h.01M126.7 309.8h.01M119.9 328.6h.01M129.9 300.2h.01M110.6 326.8h.01M126.1 326.6h.01M105.4 319.2h.01M126.1 326.0h.01M115.9 325.0h.01M126.0 315.5h.01M130.6 326.3h.01M126.6 315.8h.01M123.1 318.5h.01M131.1 333.4h.01M116.5 330.7h.01M124.0 314.5h.01M117.3 328.0h.01M123.3 314.6h.01M120.3 316.3h.01M120.7 329.6h.01M117.5 316.7h.01M105.4 321.7h.01M126.9 331.2h.01M117.9 316.9h.01M119.1 311.1h.01M121.4 313.9h.01M120.1 319.6h.01M125.8 319.0h.01M135.3 320.7h.01M124.5 321.8h.01M120.9 324.6h.01M122.3 310.5h.01M118.4 327.7h.01M112.2 329.4h.01M122.1 320.3h.01M128.6 320.1h.01M118.7 305.3h.01M117.9 311.5h.01M125.4 319.3h.01M116.0 325.9h.01M126.5 332.3h.01M123.0 311.1h.01M122.0 323.4h.01M126.5 310.6h.01M124.1 322.8h.01M123.7 308.7h.01M118.8 318.0h.01M120.1 324.3h.01M119.2 307.4h.01M109.2 321.6h.01M116.8 318.4h.01M127.7 315.5h.01M121.2 309.8h.01M114.4 322.3h.01M128.1 314.7h.01M120.3 320.7h.01M118.9 319.1h.01M119.1 322.4h.01M118.4 315.8h.01M113.5 314.0h.01M112.8 317.8h.01M127.1 310.8h.01M116.4 314.0h.01M124.0 316.8h.01M119.5 312.8h.01M119.8 316.5h.01M116.7 327.4h.01M124.1 317.7h.01M123.1 332.8h.01M124.8 315.4h.01M121.1 325.8h.01M123.9 317.0h.01M121.9 311.8h.01M119.5 316.2h.01M119.9 327.1h.01M121.5 325.9h.01M121.3 309.5h.01M128.3 315.4h.01M120.6 325.5h.01M129.3 319.7h.01M128.5 315.7h.01M135.8 330.4h.01M136.6 327.9h.01M135.0 334.0h.01M142.0 320.8h.01M138.2 315.4h.01M137.5 311.6h.01M139.8 322.3h.01M140.9 322.8h.01M137.4 316.4h.01M139.6 321.8h.01M135.1 311.3h.01M140.4 322.0h.01M137.8 318.6h.01M136.7 322.7h.01M138.5 313.6h.01M144.1 329.9h.01M133.3 323.3h.01M140.8 317.8h.01M134.6 327.0h.01M136.5 322.8h.01M142.1 322.8h.01M141.3 316.7h.01M133.5 319.8h.01M137.0 328.0h.01M139.1 307.5h.01M135.3 319.4h.01M136.2 317.8h.01M137.2 324.0h.01M134.3 315.6h.01M135.8 332.0h.01M137.6 311.3h.01M139.2 329.9h.01M134.0 313.4h.01M139.1 323.2h.01M139.5 335.1h.01M139.6 330.4h.01M136.8 333.6h.01M136.3 325.4h.01M133.0 319.6h.01M139.9 315.7h.01M136.8 306.1h.01M137.2 312.6h.01M138.1 319.0h.01M136.3 320.2h.01M137.0 322.7h.01M137.4 331.5h.01M140.6 303.4h.01M141.3 321.1h.01M138.9 315.8h.01M139.5 327.1h.01M136.6 314.1h.01M139.3 326.1h.01M135.8 306.3h.01M135.3 325.8h.01M141.1 315.2h.01M136.6 314.4h.01M138.9 316.6h.01M142.1 327.2h.01M137.5 319.6h.01M140.5 319.6h.01M137.1 323.5h.01M140.6 333.6h.01M137.2 313.3h.01M135.8 321.4h.01M139.6 302.6h.01M139.6 325.8h.01M138.5 311.3h.01M138.3 318.7h.01M135.7 327.3h.01M141.1 324.1h.01M139.4 330.3h.01M138.1 319.4h.01M141.7 317.9h.01M137.3 325.2h.01M137.0 315.3h.01M140.7 322.5h.01M136.4 318.2h.01M139.5 328.9h.01M138.5 331.4h.01M138.0 334.8h.01M140.3 313.9h.01M137.8 325.1h.01M138.0 315.1h.01M139.2 322.1h.01M134.5 312.9h.01M137.1 329.7h.01M138.0 324.0h.01M140.4 320.9h.01M138.1 322.1h.01M140.3 317.6h.01M139.0 317.1h.01M138.3 331.0h.01M136.2 326.3h.01M138.3 324.3h.01M139.3 323.2h.01M139.3 336.3h.01M136.4 314.4h.01M139.9 325.6h.01M142.9 317.9h.01M139.8 318.5h.01M136.9 318.1h.01M136.1 315.5h.01M137.3 321.4h.01M138.2 328.8h.01M135.9 322.0h.01M136.0 328.9h.01M135.9 320.0h.01M136.2 330.8h.01M135.2 314.0h.01M137.2 319.9h.01M135.9 331.2h.01M136.8 306.8h.01M137.6 312.6h.01M136.5 318.9h.01M136.0 319.5h.01M137.2 327.3h.01M144.1 317.4h.01M137.0 331.2h.01M142.1 328.5h.01M137.5 337.3h.01M138.3 331.7h.01M136.8 313.3h.01M141.3 315.9h.01M135.6 323.7h.01M135.9 327.7h.01M138.3 321.1h.01M136.8 333.7h.01M141.3 331.2h.01M135.0 335.1h.01M138.3 335.6h.01M139.3 317.5h.01M134.2 317.6h.01M140.9 319.2h.01M142.0 312.9h.01M139.6 321.8h.01M134.8 325.5h.01M137.1 320.5h.01M133.2 315.1h.01M136.5 321.5h.01M136.1 338.0h.01M137.1 324.2h.01M137.3 332.2h.01M139.4 330.2h.01M134.5 323.9h.01M137.7 327.5h.01M136.5 323.7h.01M135.8 319.9h.01M138.9 318.8h.01M136.1 321.6h.01M138.8 325.8h.01M135.3 319.4h.01M135.3 315.0h.01M143.7 331.8h.01M139.7 320.5h.01M140.1 334.4h.01M141.0 328.1h.01M135.7 340.8h.01M139.9 329.2h.01M138.9 325.5h.01M137.1 309.8h.01M142.2 342.3h.01M139.2 327.8h.01M138.0 328.4h.01M137.7 322.0h.01M139.5 309.7h.01M141.3 319.7h.01M139.3 327.3h.01M141.8 335.4h.01M135.0 315.4h.01M138.4 310.3h.01M139.5 321.8h.01M136.2 329.0h.01M135.8 317.0h.01M138.0 329.2h.01M137.6 320.0h.01M138.5 319.9h.01M133.7 329.6h.01M139.2 331.0h.01M138.3 326.2h.01M134.1 312.3h.01M133.5 331.6h.01M136.4 332.8h.01M139.0 319.3h.01M137.8 316.6h.01M136.9 325.2h.01M139.6 319.0h.01M134.3 331.3h.01M135.4 328.1h.01M134.4 315.8h.01M133.3 327.6h.01M139.0 346.2h.01M142.4 323.7h.01M133.1 321.0h.01M138.6 325.4h.01M138.3 315.0h.01M137.2 337.0h.01M136.7 319.7h.01M135.1 318.0h.01M140.8 325.4h.01M136.7 319.9h.01M139.9 318.3h.01M136.1 320.3h.01M131.9 331.3h.01M136.0 328.4h.01M137.9 330.4h.01M136.7 341.4h.01M139.2 321.1h.01M138.7 306.9h.01M135.2 307.1h.01M137.3 339.1h.01M138.7 311.6h.01M134.3 325.5h.01M139.4 321.1h.01M141.4 324.5h.01M142.7 329.1h.01M142.8 302.6h.01M139.7 328.6h.01M141.5 327.2h.01M138.9 325.1h.01M138.4 327.0h.01M141.7 310.5h.01M136.9 311.6h.01M136.5 324.8h.01M138.4 325.6h.01M139.7 326.0h.01M137.1 321.8h.01M135.4 319.3h.01M137.7 325.6h.01M134.2 331.1h.01M137.7 310.9h.01M137.2 349.3h.01M137.8 341.3h.01M135.4 346.5h.01M138.0 347.1h.01M136.6 354.6h.01M133.1 344.6h.01M133.6 329.0h.01M138.0 351.4h.01M136.9 348.3h.01M137.1 354.0h.01M136.1 349.0h.01M138.4 332.0h.01M140.5 340.0h.01M134.8 339.4h.01M139.7 341.4h.01M139.5 337.1h.01M138.2 330.8h.01M136.9 355.1h.01M136.3 346.1h.01M133.1 358.0h.01M137.0 348.3h.01M136.6 336.4h.01M136.7 342.0h.01M135.0 343.4h.01M135.2 340.7h.01M130.6 336.8h.01M138.3 346.4h.01M137.0 348.0h.01M141.8 347.5h.01M137.8 344.0h.01M138.4 349.8h.01M132.1 358.0h.01M139.9 348.5h.01M136.0 343.8h.01M135.7 355.4h.01M135.9 331.7h.01M137.0 337.8h.01M138.0 345.8h.01M135.5 332.4h.01M136.7 334.3h.01M137.0 346.1h.01M136.5 345.9h.01M136.5 357.8h.01M133.2 336.0h.01M140.3 334.9h.01M139.0 342.9h.01M137.5 333.4h.01M136.5 343.4h.01M132.3 344.8h.01M136.4 326.7h.01M137.9 341.8h.01M133.8 353.7h.01M137.2 335.6h.01M135.3 346.9h.01M136.1 350.2h.01M134.4 346.6h.01M138.6 348.7h.01M135.5 337.0h.01M134.7 345.3h.01M132.4 359.4h.01M136.8 354.1h.01M136.7 355.0h.01M136.8 352.6h.01M139.9 346.9h.01M134.4 347.9h.01M137.8 342.1h.01M136.9 350.1h.01M132.4 348.9h.01M141.3 339.3h.01M140.4 340.9h.01M136.7 341.8h.01M137.4 338.5h.01M136.0 342.8h.01M135.2 344.1h.01M139.9 338.0h.01M137.9 338.6h.01M134.6 344.4h.01M136.7 352.4h.01M139.1 345.3h.01M135.9 355.2h.01M134.3 338.5h.01M139.2 347.7h.01M138.9 342.8h.01M139.2 353.7h.01M132.8 348.7h.01M139.8 336.4h.01M135.1 347.4h.01M138.9 344.4h.01M133.5 346.2h.01M137.2 341.5h.01M139.9 327.7h.01M137.7 339.8h.01M138.8 342.0h.01M141.6 345.9h.01M136.1 331.7h.01M136.8 344.1h.01M141.2 347.4h.01M137.9 337.3h.01M137.9 336.9h.01M134.0 348.0h.01M136.3 334.0h.01M140.2 354.1h.01M138.5 331.6h.01M135.4 336.9h.01M138.0 358.8h.01M139.6 343.6h.01M135.4 333.6h.01M135.7 345.8h.01M136.8 348.4h.01M138.7 335.6h.01M139.4 344.7h.01M141.3 343.4h.01M136.6 343.5h.01M140.4 348.5h.01M140.3 352.6h.01M138.2 359.4h.01M137.2 342.7h.01M140.1 335.4h.01M138.2 352.3h.01M135.3 329.6h.01M134.0 353.3h.01M143.4 337.5h.01M134.3 334.6h.01M141.2 350.4h.01M139.1 338.8h.01M139.1 338.7h.01M138.8 338.5h.01M134.4 340.9h.01M138.5 347.0h.01M136.2 351.6h.01M133.6 329.1h.01M138.9 343.2h.01M137.4 340.8h.01M138.8 346.2h.01M140.8 337.0h.01M134.4 343.4h.01M136.9 342.0h.01M132.3 347.3h.01M141.6 347.2h.01M140.5 349.1h.01M138.1 347.5h.01M140.1 348.0h.01M139.1 343.9h.01M135.7 347.2h.01M136.5 348.9h.01M132.1 358.2h.01M140.7 356.3h.01M138.5 336.2h.01M136.6 335.2h.01M138.5 344.5h.01M137.9 329.9h.01M133.9 327.2h.01M140.9 348.3h.01M137.7 341.6h.01M133.2 341.5h.01M136.5 337.8h.01M140.0 328.5h.01M138.0 350.7h.01M139.5 332.6h.01M130.8 355.2h.01M141.0 343.1h.01M136.9 347.1h.01M140.2 345.3h.01M136.7 346.1h.01M138.5 359.2h.01M137.6 337.2h.01M142.3 356.2h.01M141.2 337.0h.01M136.1 333.6h.01M137.3 354.8h.01M139.9 344.8h.01M138.2 348.3h.01M137.3 336.2h.01M135.9 357.4h.01M135.3 335.5h.01M139.0 341.8h.01M136.8 345.7h.01M137.3 331.4h.01M139.9 346.1h.01M141.8 351.1h.01M136.2 341.0h.01M135.9 327.1h.01M139.5 339.1h.01M140.1 345.8h.01M137.4 357.2h.01M135.3 358.2h.01M136.7 359.4h.01M140.5 340.4h.01M142.0 347.8h.01M138.5 341.3h.01M137.5 341.2h.01M136.8 350.7h.01M139.7 354.2h.01M140.6 343.9h.01M139.5 342.5h.01M139.1 349.4h.01M138.6 338.2h.01M134.8 357.9h.01M135.7 339.6h.01M138.7 341.5h.01M138.8 355.3h.01M133.9 345.2h.01M139.2 333.5h.01M139.5 356.1h.01M137.8 348.3h.01M137.0 352.2h.01M136.5 344.6h.01M136.1 338.9h.01M140.6 344.1h.01M139.9 332.0h.01M134.8 337.4h.01M142.4 353.7h.01M143.2 341.0h.01M139.2 347.4h.01M137.1 349.2h.01M137.7 348.3h.01M133.4 336.3h.01M135.3 357.8h.01M139.9 336.9h.01M139.0 340.1h.01M134.9 337.3h.01M145.1 345.3h.01M137.5 354.3h.01M138.4 335.9h.01M143.0 358.5h.01M139.7 337.9h.01M137.6 345.5h.01M135.0 359.2h.01M137.8 340.2h.01M137.1 342.0h.01M116.6 345.6h.01M110.3 347.3h.01M109.7 339.9h.01M112.9 347.3h.01M114.7 354.3h.01M111.1 343.5h.01M113.9 352.3h.01M119.2 353.3h.01M114.7 349.8h.01M108.3 352.3h.01M116.9 349.3h.01M113.2 351.2h.01M115.8 351.7h.01M115.7 343.6h.01M112.3 343.1h.01M117.0 358.8h.01M111.5 349.1h.01M115.1 346.9h.01M120.1 350.4h.01M121.6 358.6h.01M115.9 346.7h.01M118.8 348.6h.01M111.4 348.8h.01M118.1 346.5h.01M113.5 353.1h.01M113.3 353.1h.01M118.4 347.7h.01M110.2 345.0h.01M118.6 351.8h.01M114.5 348.1h.01M117.9 347.7h.01M123.6 350.9h.01M108.7 353.8h.01M115.1 349.6h.01M113.6 354.3h.01M112.5 355.7h.01M111.6 353.2h.01M109.1 353.4h.01M110.9 348.7h.01M116.8 346.6h.01M116.0 349.6h.01M118.7 353.1h.01M115.1 348.9h.01M111.1 355.1h.01M113.4 344.7h.01M111.4 342.2h.01M111.2 347.8h.01M115.0 353.2h.01M117.0 342.5h.01M112.5 351.9h.01M115.4 349.5h.01M111.5 352.3h.01M113.9 348.6h.01M113.8 348.7h.01M115.2 353.9h.01M114.4 347.1h.01M113.8 349.0h.01M115.9 352.5h.01M119.8 353.1h.01M108.3 346.3h.01M135.5 310.7h.01M136.3 300.7h.01M140.8 304.8h.01M130.1 299.4h.01M141.2 305.3h.01M123.9 300.1h.01M136.8 298.0h.01M134.0 299.6h.01M125.9 300.9h.01M131.4 303.6h.01M125.7 303.5h.01M132.2 297.1h.01M139.9 301.1h.01M136.1 308.0h.01M136.0 305.9h.01M135.1 300.6h.01M135.0 297.2h.01M136.4 305.5h.01M136.1 300.3h.01M128.2 300.1h.01M132.6 297.7h.01M143.4 299.8h.01M134.7 301.0h.01M134.7 296.3h.01M129.0 302.5h.01M133.8 304.0h.01M131.4 305.5h.01M135.1 302.4h.01M134.1 306.3h.01M133.9 308.0h.01M134.6 303.5h.01M134.0 303.6h.01M136.3 300.4h.01M137.9 311.5h.01M136.7 303.0h.01M130.1 300.0h.01M130.0 303.5h.01M130.7 308.2h.01M132.0 299.5h.01M129.6 302.3h.01M133.3 305.8h.01M130.5 303.8h.01M138.7 301.6h.01M125.6 303.4h.01M139.0 304.0h.01M134.1 295.9h.01M141.9 301.9h.01M128.2 301.4h.01M134.8 302.7h.01M129.6 310.9h.01M140.1 306.1h.01M137.1 301.2h.01M128.3 298.2h.01M139.2 302.9h.01M142.0 295.8h.01M120.2 343.2h.01M118.3 324.8h.01M136.8 331.7h.01M133.1 332.6h.01M144.8 315.7h.01M105.9 314.6h.01M105.2 358.6h.01M118.4 328.5h.01M133.8 316.9h.01M120.9 333.3h.01M128.8 342.0h.01M124.8 318.5h.01M105.9 302.4h.01M132.7 334.1h.01M122.3 348.4h.01M105.2 339.4h.01M110.1 323.8h.01M125.0 317.2h.01M124.2 333.6h.01M139.8 342.2h.01M113.8 336.8h.01M122.3 343.3h.01M119.6 346.2h.01M114.7 321.7h.01M141.9 345.3h.01M142.2 359.2h.01M144.6 329.0h.01M143.2 316.0h.01M141.2 335.4h.01M126.3 317.7h.01M145.2 297.3h.01M126.0 306.7h.01M123.2 322.1h.01M115.7 319.4h.01M133.1 359.1h.01M155.8 326.1h.01M122.1 338.8h.01M115.5 305.5h.01M143.8 322.6h.01" stroke="#1a1a1a" stroke-width="0.8" stroke-linecap="round" fill="none"/>
</g>
<rect x="104.20" y="294.70" width="66.70" height="65.60" fill="none" stroke="#666" stroke-width="0.7"/>
<ellipse cx="115.40" cy="301.90" rx="10.2" ry="6.5" fill="none" stroke="#4a4a4a" stroke-width="0.65"/>
<ellipse cx="136.30" cy="302.40" rx="10.7" ry="7" fill="none" stroke="#4a4a4a" stroke-width="0.65"/>
<ellipse cx="121.50" cy="321.60" rx="11.1" ry="12.2" fill="none" stroke="#4a4a4a" stroke-width="0.65"/>
<ellipse cx="140.40" cy="328.20" rx="7.6" ry="11.8" fill="none" stroke="#4a4a4a" stroke-width="0.65"/>
<ellipse cx="139.30" cy="349.10" rx="7.6" ry="9.2" fill="none" stroke="#4a4a4a" stroke-width="0.65"/>
<text x="115.40" y="302.20" font-size="7.0" text-anchor="middle" font-weight="bold" fill="#000"  stroke-width="0.8" stroke="#fff" stroke-opacity="0.45" paint-order="stroke">33%</text>
<text x="115.40" y="302.20" font-size="7.0" text-anchor="middle" font-weight="bold" fill="#000"  stroke-width="0.12" stroke="#000">33%</text>
<text x="136.20" y="302.20" font-size="7.0" text-anchor="middle" font-weight="bold" fill="#000"  stroke-width="0.8" stroke="#fff" stroke-opacity="0.45" paint-order="stroke">9%</text>
<text x="136.20" y="302.20" font-size="7.0" text-anchor="middle" font-weight="bold" fill="#000"  stroke-width="0.12" stroke="#000">9%</text>
<text x="122.40" y="332.40" font-size="7.0" text-anchor="middle" font-weight="bold" fill="#000"  stroke-width="0.8" stroke="#fff" stroke-opacity="0.45" paint-order="stroke">14%</text>
<text x="122.40" y="332.40" font-size="7.0" text-anchor="middle" font-weight="bold" fill="#000"  stroke-width="0.12" stroke="#000">14%</text>
<text x="141.10" y="325.70" font-size="7.0" text-anchor="middle" font-weight="bold" fill="#000"  stroke-width="0.8" stroke="#fff" stroke-opacity="0.45" paint-order="stroke">21%</text>
<text x="141.10" y="325.70" font-size="7.0" text-anchor="middle" font-weight="bold" fill="#000"  stroke-width="0.12" stroke="#000">21%</text>
<text x="141.00" y="356.50" font-size="7.0" text-anchor="middle" font-weight="bold" fill="#000"  stroke-width="0.8" stroke="#fff" stroke-opacity="0.45" paint-order="stroke">9%</text>
<text x="141.00" y="356.50" font-size="7.0" text-anchor="middle" font-weight="bold" fill="#000"  stroke-width="0.12" stroke="#000">9%</text>
<rect x="105.30" y="361.30" width="2.2" height="1.7" fill="#999"/>
<rect x="101.60" y="357.10" width="1.3" height="2" fill="#999"/>
<rect x="121.68" y="361.30" width="2.2" height="1.7" fill="#999"/>
<rect x="101.60" y="341.00" width="1.3" height="2" fill="#999"/>
<rect x="138.05" y="361.30" width="2.2" height="1.7" fill="#999"/>
<rect x="101.60" y="324.90" width="1.3" height="2" fill="#999"/>
<rect x="154.43" y="361.30" width="2.2" height="1.7" fill="#999"/>
<rect x="101.60" y="308.80" width="1.3" height="2" fill="#999"/>
<rect x="170.80" y="361.30" width="2.2" height="1.7" fill="#999"/>
<rect x="101.60" y="292.70" width="1.3" height="2" fill="#999"/>
<text x="135.60" y="292.20" font-size="8.75" text-anchor="middle" fill="#111" stroke="#111" stroke-width="0.3" >+ IL-6</text>
<clipPath id="c179_294"><rect x="180.40" y="295.20" width="65.20" height="64.60"/></clipPath>
<g clip-path="url(#c179_294)">
<ellipse cx="188.40" cy="302.20" rx="5.5" ry="3.8" fill="url(#rg)" opacity="0.5" transform="rotate(0 188.40 302.20)"/>
<ellipse cx="188.40" cy="302.20" rx="2.48" ry="1.71" fill="none" stroke="#444" stroke-width="0.35" stroke-dasharray="1.2 0.8" opacity="0.40" transform="rotate(0 188.40 302.20)"/>
<ellipse cx="188.40" cy="302.20" rx="3.85" ry="2.66" fill="none" stroke="#444" stroke-width="0.35" stroke-dasharray="1.2 0.8" opacity="0.40" transform="rotate(0 188.40 302.20)"/>
<ellipse cx="213.20" cy="336.70" rx="2.5" ry="13" fill="url(#rg)" opacity="0.4" transform="rotate(0 213.20 336.70)"/>
<ellipse cx="213.20" cy="336.70" rx="1.12" ry="5.85" fill="none" stroke="#444" stroke-width="0.35" stroke-dasharray="1.2 0.8" opacity="0.32" transform="rotate(0 213.20 336.70)"/>
<ellipse cx="213.20" cy="336.70" rx="1.75" ry="9.10" fill="none" stroke="#444" stroke-width="0.35" stroke-dasharray="1.2 0.8" opacity="0.32" transform="rotate(0 213.20 336.70)"/>
<path d="M186.0 296.4h.01M184.5 304.5h.01M195.3 304.0h.01M188.2 303.2h.01M192.7 300.5h.01M193.2 302.8h.01M189.1 303.4h.01M189.5 299.3h.01M194.3 300.6h.01M187.2 296.3h.01M181.8 303.8h.01M187.9 301.8h.01M186.8 303.9h.01M185.7 297.7h.01M181.9 299.7h.01M189.5 306.4h.01M190.5 300.1h.01M183.1 304.6h.01M190.2 301.9h.01M190.7 303.9h.01M190.2 306.1h.01M182.2 300.2h.01M186.2 299.1h.01M196.0 303.2h.01M189.9 304.5h.01M187.3 304.6h.01M187.5 304.3h.01M190.5 306.0h.01M182.3 299.4h.01M185.3 299.6h.01M189.8 305.0h.01M186.9 305.3h.01M191.7 300.3h.01M190.9 306.4h.01M186.4 295.6h.01M190.4 303.0h.01M190.7 303.6h.01M188.1 302.1h.01M185.1 307.9h.01M194.4 301.7h.01M184.9 303.4h.01M194.5 302.2h.01M185.1 304.9h.01M189.3 299.7h.01M187.4 302.6h.01M183.9 303.0h.01M193.3 305.3h.01M193.2 304.4h.01M188.0 304.0h.01M193.1 302.3h.01M190.3 300.3h.01M188.3 300.7h.01M184.1 303.3h.01M197.0 297.1h.01M186.4 302.7h.01M185.4 302.6h.01M191.7 297.3h.01M187.9 303.9h.01M190.6 307.6h.01M189.1 305.8h.01M186.1 299.5h.01M186.2 300.9h.01M191.8 304.4h.01M188.4 299.5h.01M188.9 300.9h.01M186.9 297.0h.01M194.5 303.9h.01M200.0 310.1h.01M188.6 308.7h.01M186.7 310.4h.01M188.2 296.7h.01M188.3 304.5h.01M195.1 305.1h.01M195.3 302.7h.01M182.4 302.6h.01M184.9 304.7h.01M181.1 299.3h.01M183.8 302.5h.01M192.4 301.3h.01M183.2 300.7h.01M187.8 305.6h.01M188.8 306.3h.01M180.7 307.5h.01M197.1 300.6h.01M199.1 297.6h.01M192.1 298.3h.01M185.9 303.7h.01M189.3 303.1h.01M187.6 296.7h.01M181.9 299.6h.01M184.4 300.8h.01M181.6 301.8h.01M190.3 300.7h.01M193.7 302.8h.01M192.0 299.5h.01M189.2 297.9h.01M180.9 297.0h.01M186.8 302.9h.01M196.8 303.1h.01M186.9 305.3h.01M188.8 302.2h.01M188.9 305.1h.01M194.7 297.9h.01M188.8 300.8h.01M188.4 309.2h.01M187.5 295.9h.01M191.8 300.8h.01M184.7 308.8h.01M196.4 305.2h.01M189.4 300.0h.01M194.2 301.4h.01M189.3 301.6h.01M189.0 296.2h.01M183.5 298.3h.01M181.7 298.7h.01M186.4 301.6h.01M188.0 300.9h.01M192.5 296.0h.01M186.3 301.5h.01M184.9 306.3h.01M187.9 305.5h.01M190.5 301.4h.01M192.3 297.8h.01M183.5 301.0h.01M181.1 300.9h.01M187.6 296.9h.01M184.2 298.3h.01M197.8 305.9h.01M190.8 302.8h.01M193.7 302.5h.01M193.3 304.8h.01M196.8 305.4h.01M186.1 304.0h.01M192.8 304.2h.01M197.1 303.0h.01M186.7 304.8h.01M192.9 302.1h.01M190.4 302.6h.01M189.4 303.3h.01M186.8 304.4h.01M189.8 307.4h.01M189.6 302.5h.01M183.5 309.0h.01M187.4 300.7h.01M187.3 302.2h.01M188.0 307.3h.01M186.4 301.5h.01M186.6 304.0h.01M181.8 305.2h.01M186.9 297.9h.01M197.4 306.4h.01M189.4 310.5h.01M193.1 306.9h.01M187.7 301.1h.01M190.1 307.8h.01M190.4 307.9h.01M191.3 305.7h.01M192.6 308.0h.01M181.0 306.6h.01M191.7 304.8h.01M198.7 311.2h.01M199.7 309.5h.01M195.6 307.1h.01M197.4 304.0h.01M192.1 307.9h.01M192.0 301.7h.01M192.3 304.9h.01M189.0 309.1h.01M199.3 306.9h.01M185.9 305.9h.01M191.7 302.4h.01M189.2 307.1h.01M189.3 308.3h.01M185.0 309.2h.01M188.6 307.1h.01M192.9 304.5h.01M199.1 299.5h.01M194.0 309.1h.01M191.4 306.3h.01M186.0 306.4h.01M193.8 304.2h.01M192.9 305.1h.01M186.7 306.2h.01M188.1 310.0h.01M188.1 312.1h.01M192.7 306.4h.01M188.4 308.2h.01M186.6 300.4h.01M195.4 298.3h.01M199.6 304.4h.01M202.3 307.5h.01M202.7 300.8h.01M190.1 307.6h.01M189.4 306.8h.01M191.8 309.1h.01M201.4 298.0h.01M196.6 302.0h.01M202.6 300.7h.01M187.7 308.5h.01M191.7 309.2h.01M195.0 303.5h.01M182.9 311.1h.01M191.5 306.1h.01M190.9 305.5h.01M188.4 306.7h.01M194.3 301.6h.01M183.2 308.7h.01M198.1 304.4h.01M191.8 304.5h.01M195.2 306.2h.01M191.1 323.7h.01M197.7 317.5h.01M197.9 298.7h.01M193.0 321.8h.01M183.6 316.4h.01M197.0 329.5h.01M197.9 311.8h.01M200.8 318.6h.01M200.4 310.7h.01M185.9 309.3h.01M199.0 329.0h.01M197.0 321.8h.01M194.9 321.9h.01M189.6 329.3h.01M200.3 327.4h.01M195.1 326.5h.01M201.3 338.3h.01M201.9 315.3h.01M190.9 326.7h.01M198.5 324.5h.01M195.9 314.8h.01M196.4 310.2h.01M197.2 336.7h.01M199.8 314.5h.01M190.5 337.7h.01M199.4 316.9h.01M199.0 318.3h.01M189.4 321.6h.01M198.6 329.8h.01M188.2 331.1h.01M194.2 306.5h.01M201.4 327.7h.01M198.7 326.5h.01M190.3 324.3h.01M186.0 315.9h.01M210.4 332.4h.01M197.9 324.2h.01M196.1 325.1h.01M196.8 314.0h.01M193.5 307.0h.01M190.5 319.4h.01M197.8 336.5h.01M186.1 335.6h.01M193.1 317.6h.01M195.1 336.2h.01M189.3 317.9h.01M198.8 327.4h.01M197.9 321.5h.01M201.4 313.7h.01M204.8 317.1h.01M197.8 314.0h.01M192.0 327.7h.01M199.0 319.3h.01M200.3 343.7h.01M181.3 305.9h.01M196.7 308.4h.01M201.6 314.7h.01M195.6 314.7h.01M207.7 331.6h.01M185.7 325.4h.01M212.6 335.2h.01M214.1 319.3h.01M212.3 325.0h.01M217.3 325.3h.01M212.1 321.8h.01M215.3 322.4h.01M217.4 331.0h.01M213.6 325.4h.01M212.5 307.7h.01M216.1 335.5h.01M212.8 326.7h.01M210.1 323.2h.01M213.7 324.1h.01M213.4 331.8h.01M215.0 330.3h.01M211.9 321.0h.01M213.3 313.2h.01M209.9 327.0h.01M213.3 325.2h.01M216.1 309.3h.01M214.3 323.0h.01M210.2 329.5h.01M216.6 314.1h.01M213.4 331.6h.01M213.4 321.4h.01M215.6 312.4h.01M213.2 320.0h.01M213.1 315.6h.01M213.7 333.5h.01M214.4 315.4h.01M212.1 319.2h.01M209.8 329.9h.01M214.5 323.4h.01M216.8 329.8h.01M211.9 325.0h.01M213.0 324.6h.01M216.4 333.7h.01M211.0 338.7h.01M209.5 322.8h.01M219.0 329.6h.01M216.1 325.7h.01M214.5 320.0h.01M216.8 323.2h.01M212.1 314.0h.01M218.5 314.0h.01M210.9 328.2h.01M213.4 337.1h.01M214.8 327.1h.01M211.5 328.6h.01M210.0 319.3h.01M216.6 326.7h.01M210.6 320.1h.01M213.0 327.0h.01M213.8 330.6h.01M206.4 329.9h.01M208.9 321.4h.01M213.6 332.2h.01M211.9 315.2h.01M211.4 326.6h.01M219.0 315.8h.01M212.1 319.6h.01M216.0 328.8h.01M213.0 326.9h.01M217.0 322.7h.01M210.7 324.9h.01M210.4 326.3h.01M215.4 322.1h.01M215.5 333.4h.01M217.7 322.2h.01M214.7 330.5h.01M215.3 331.6h.01M214.5 329.7h.01M215.5 328.2h.01M214.7 326.8h.01M213.2 311.7h.01M213.2 325.0h.01M212.1 321.6h.01M216.3 322.9h.01M208.1 321.0h.01M213.1 333.6h.01M214.1 328.5h.01M212.1 320.7h.01M209.6 329.3h.01M213.4 319.7h.01M213.5 332.7h.01M215.6 330.5h.01M216.1 326.5h.01M213.4 324.8h.01M214.5 312.6h.01M214.0 325.0h.01M211.3 320.8h.01M216.1 322.0h.01M213.2 335.4h.01M211.1 324.5h.01M212.4 321.1h.01M213.0 328.7h.01M212.7 331.5h.01M215.1 317.1h.01M213.5 323.5h.01M210.4 312.1h.01M215.7 326.9h.01M216.2 335.9h.01M215.2 327.4h.01M216.4 323.8h.01M212.5 331.7h.01M214.9 321.1h.01M212.4 315.8h.01M218.3 322.1h.01M212.2 320.5h.01M212.2 325.6h.01M213.5 330.4h.01M207.6 325.7h.01M217.3 325.1h.01M212.0 338.9h.01M212.2 329.6h.01M213.9 323.7h.01M211.0 325.9h.01M213.8 337.7h.01M209.8 313.8h.01M214.7 314.1h.01M206.8 322.4h.01M216.0 311.8h.01M209.9 335.3h.01M211.3 318.5h.01M213.0 336.1h.01M212.9 330.3h.01M213.0 317.1h.01M214.0 311.9h.01M215.8 313.3h.01M213.7 309.5h.01M213.1 327.6h.01M211.6 338.5h.01M213.3 327.8h.01M209.9 321.2h.01M213.9 330.0h.01M214.7 314.8h.01M209.9 316.8h.01M216.0 312.3h.01M210.5 325.6h.01M213.2 324.2h.01M211.4 327.1h.01M213.1 323.4h.01M213.9 323.1h.01M212.9 332.7h.01M215.0 325.2h.01M213.7 334.3h.01M210.2 311.1h.01M213.4 312.5h.01M210.9 326.3h.01M213.8 322.2h.01M210.9 335.6h.01M211.0 340.4h.01M212.8 353.7h.01M212.1 338.1h.01M213.9 355.8h.01M213.6 343.3h.01M211.9 344.2h.01M210.2 353.6h.01M212.0 358.9h.01M215.9 343.0h.01M219.3 343.1h.01M210.9 333.2h.01M212.8 349.6h.01M211.9 345.8h.01M214.0 340.7h.01M212.7 344.6h.01M216.6 351.7h.01M212.6 338.9h.01M212.5 340.6h.01M211.9 349.3h.01M214.9 354.3h.01M211.4 348.1h.01M212.8 353.0h.01M218.4 354.3h.01M215.1 348.5h.01M214.1 331.7h.01M213.7 345.5h.01M212.7 352.1h.01M220.7 348.7h.01M209.8 343.8h.01M214.9 352.0h.01M213.3 350.8h.01M210.9 358.0h.01M207.7 344.1h.01M210.9 343.2h.01M213.4 347.5h.01M215.3 359.5h.01M214.1 339.7h.01M212.9 340.9h.01M210.9 343.6h.01M215.2 340.7h.01M213.7 341.0h.01M215.0 355.4h.01M209.3 352.2h.01M210.7 349.2h.01M212.6 353.1h.01M209.7 359.0h.01M213.7 341.9h.01M216.0 356.9h.01M214.2 342.9h.01M210.9 340.0h.01M216.9 347.1h.01M212.8 344.0h.01M215.9 344.0h.01M215.0 333.3h.01M210.9 349.2h.01M210.5 359.1h.01M207.7 349.6h.01M214.2 350.0h.01M212.7 345.9h.01M221.7 348.7h.01M211.3 326.4h.01M217.5 346.5h.01M217.4 346.6h.01M215.6 356.9h.01M211.5 329.4h.01M215.8 358.6h.01M209.1 342.9h.01M212.7 344.8h.01M214.4 345.8h.01M214.4 340.6h.01M208.9 359.2h.01M213.5 349.7h.01M210.0 350.1h.01M212.8 350.4h.01M213.2 354.6h.01M216.4 344.1h.01M211.9 352.2h.01M209.2 341.4h.01M212.0 331.0h.01M217.7 344.7h.01M212.4 337.9h.01M214.2 343.3h.01M209.9 349.2h.01M216.7 335.6h.01M212.8 359.4h.01M212.4 341.4h.01M216.9 348.4h.01M215.2 359.0h.01M214.5 349.2h.01M217.7 335.5h.01M210.0 345.0h.01M211.4 345.5h.01M208.2 334.6h.01M214.7 345.2h.01M213.9 343.8h.01M212.8 335.4h.01M217.3 354.5h.01M209.5 343.3h.01M213.8 343.5h.01M212.8 348.3h.01M208.3 352.3h.01M214.1 339.4h.01M212.4 346.0h.01M212.2 347.1h.01M209.1 347.2h.01M213.9 349.6h.01M214.0 342.5h.01M213.2 353.9h.01M213.1 348.4h.01M213.1 350.7h.01M209.7 346.3h.01M215.0 340.0h.01M214.3 343.3h.01M211.8 338.3h.01M210.6 355.5h.01M209.2 347.8h.01M209.5 359.3h.01M214.7 340.8h.01M210.0 344.6h.01M213.8 359.2h.01M216.6 339.4h.01M213.5 353.6h.01M211.1 343.2h.01M215.2 336.3h.01M213.0 346.2h.01M212.2 346.9h.01M208.8 352.9h.01M211.8 359.2h.01M217.9 343.2h.01M217.8 357.3h.01M210.9 344.8h.01M215.9 341.3h.01M212.0 327.9h.01M209.3 337.9h.01M211.1 341.3h.01M213.6 348.6h.01M212.0 336.5h.01M213.5 351.3h.01M212.8 357.0h.01M211.8 353.0h.01M213.6 356.6h.01M217.0 338.0h.01M208.3 354.4h.01M213.7 349.3h.01M211.8 341.1h.01M215.9 350.2h.01M211.5 347.1h.01M213.6 336.9h.01M211.3 350.5h.01M213.3 336.4h.01M213.7 359.0h.01M214.5 336.8h.01M211.7 342.1h.01M210.9 340.5h.01M211.4 346.0h.01M209.8 353.6h.01M213.7 359.5h.01M215.0 353.9h.01M214.2 345.9h.01M210.2 351.7h.01M213.2 341.8h.01M213.9 349.2h.01M211.3 357.5h.01M211.7 347.7h.01M215.6 342.8h.01M212.1 350.1h.01M212.1 343.0h.01M210.1 348.4h.01M212.0 352.9h.01M184.5 352.7h.01M189.1 352.0h.01M190.0 348.0h.01M181.0 348.6h.01M184.5 354.4h.01M187.8 355.4h.01M200.3 354.2h.01M200.8 346.2h.01M186.4 345.7h.01M182.3 344.8h.01M193.3 346.7h.01M187.3 352.0h.01M186.9 355.7h.01M194.8 352.5h.01M197.2 351.8h.01M189.9 354.0h.01M194.1 344.6h.01M194.4 353.7h.01M181.3 357.6h.01M189.7 355.2h.01M183.1 350.6h.01M185.5 346.6h.01M190.3 344.2h.01M188.8 352.4h.01M185.2 345.6h.01M191.7 353.3h.01M193.5 347.7h.01M186.9 355.0h.01M193.3 351.0h.01M190.1 349.2h.01M192.0 352.5h.01M189.2 350.8h.01M182.1 349.3h.01M196.8 350.6h.01M182.2 348.0h.01M189.4 355.3h.01M199.5 349.7h.01M188.2 350.3h.01M183.5 354.9h.01M183.0 352.6h.01M186.7 345.8h.01M190.6 356.2h.01M182.9 350.6h.01M185.5 353.9h.01M181.6 344.9h.01M187.0 344.9h.01M193.8 344.1h.01M189.2 347.9h.01M193.8 347.8h.01M188.0 356.3h.01M192.1 354.6h.01M196.0 351.7h.01M190.5 343.4h.01M180.8 348.2h.01M190.4 354.1h.01M185.1 348.6h.01M199.2 345.5h.01M188.0 349.4h.01M185.5 355.6h.01M181.0 348.7h.01M180.8 347.1h.01M196.6 342.1h.01M181.2 349.9h.01M190.7 347.0h.01M191.1 349.1h.01M187.0 350.2h.01M195.0 345.3h.01M193.2 350.9h.01M187.9 347.0h.01M190.6 352.9h.01M184.3 352.6h.01M189.1 353.0h.01M190.3 349.1h.01M190.0 352.3h.01M181.7 349.9h.01M181.0 350.6h.01M186.5 349.9h.01M193.8 353.4h.01M196.0 353.4h.01M187.9 346.8h.01M201.7 347.2h.01M187.1 351.4h.01M184.9 350.4h.01M190.0 347.8h.01M183.8 349.9h.01M183.3 344.1h.01M193.7 345.8h.01M206.5 331.0h.01M183.7 341.7h.01M187.5 359.0h.01M211.8 333.2h.01M205.4 340.7h.01M212.2 336.2h.01M218.8 327.8h.01M180.9 339.0h.01M204.6 306.9h.01M185.8 319.1h.01M225.0 340.1h.01M181.1 309.5h.01M207.1 311.2h.01M195.2 321.2h.01M205.7 339.0h.01M193.8 322.1h.01M209.2 355.1h.01M211.5 324.6h.01M219.8 328.1h.01M183.2 340.2h.01M217.1 311.3h.01M203.6 328.3h.01M199.4 328.4h.01M215.7 322.4h.01M201.3 325.4h.01M209.3 320.2h.01" stroke="#1a1a1a" stroke-width="0.8" stroke-linecap="round" fill="none"/>
</g>
<rect x="179.90" y="294.70" width="66.20" height="65.60" fill="none" stroke="#666" stroke-width="0.7"/>
<ellipse cx="191.10" cy="301.90" rx="10.2" ry="6.5" fill="none" stroke="#4a4a4a" stroke-width="0.65"/>
<ellipse cx="212.00" cy="302.40" rx="10.7" ry="7" fill="none" stroke="#4a4a4a" stroke-width="0.65"/>
<ellipse cx="197.20" cy="321.60" rx="11.1" ry="12.2" fill="none" stroke="#4a4a4a" stroke-width="0.65"/>
<ellipse cx="216.10" cy="328.20" rx="7.6" ry="11.8" fill="none" stroke="#4a4a4a" stroke-width="0.65"/>
<ellipse cx="215.00" cy="349.10" rx="7.6" ry="9.2" fill="none" stroke="#4a4a4a" stroke-width="0.65"/>
<text x="191.30" y="302.10" font-size="7.0" text-anchor="middle" font-weight="bold" fill="#000"  stroke-width="0.8" stroke="#fff" stroke-opacity="0.45" paint-order="stroke">21%</text>
<text x="191.30" y="302.10" font-size="7.0" text-anchor="middle" font-weight="bold" fill="#000"  stroke-width="0.12" stroke="#000">21%</text>
<text x="211.00" y="302.20" font-size="7.0" text-anchor="middle" font-weight="bold" fill="#000"  stroke-width="0.8" stroke="#fff" stroke-opacity="0.45" paint-order="stroke">3%</text>
<text x="211.00" y="302.20" font-size="7.0" text-anchor="middle" font-weight="bold" fill="#000"  stroke-width="0.12" stroke="#000">3%</text>
<text x="198.10" y="332.50" font-size="7.0" text-anchor="middle" font-weight="bold" fill="#000"  stroke-width="0.8" stroke="#fff" stroke-opacity="0.45" paint-order="stroke">8%</text>
<text x="198.10" y="332.50" font-size="7.0" text-anchor="middle" font-weight="bold" fill="#000"  stroke-width="0.12" stroke="#000">8%</text>
<text x="216.60" y="326.20" font-size="7.0" text-anchor="middle" font-weight="bold" fill="#000"  stroke-width="0.8" stroke="#fff" stroke-opacity="0.45" paint-order="stroke">35%</text>
<text x="216.60" y="326.20" font-size="7.0" text-anchor="middle" font-weight="bold" fill="#000"  stroke-width="0.12" stroke="#000">35%</text>
<text x="216.20" y="356.70" font-size="7.0" text-anchor="middle" font-weight="bold" fill="#000"  stroke-width="0.8" stroke="#fff" stroke-opacity="0.45" paint-order="stroke">7%</text>
<text x="216.20" y="356.70" font-size="7.0" text-anchor="middle" font-weight="bold" fill="#000"  stroke-width="0.12" stroke="#000">7%</text>
<rect x="181.00" y="361.30" width="2.2" height="1.7" fill="#999"/>
<rect x="177.30" y="357.10" width="1.3" height="2" fill="#999"/>
<rect x="197.25" y="361.30" width="2.2" height="1.7" fill="#999"/>
<rect x="177.30" y="341.00" width="1.3" height="2" fill="#999"/>
<rect x="213.50" y="361.30" width="2.2" height="1.7" fill="#999"/>
<rect x="177.30" y="324.90" width="1.3" height="2" fill="#999"/>
<rect x="229.75" y="361.30" width="2.2" height="1.7" fill="#999"/>
<rect x="177.30" y="308.80" width="1.3" height="2" fill="#999"/>
<rect x="246.00" y="361.30" width="2.2" height="1.7" fill="#999"/>
<rect x="177.30" y="292.70" width="1.3" height="2" fill="#999"/>
<text x="208.70" y="292.20" font-size="8.75" text-anchor="middle" fill="#111" stroke="#111" stroke-width="0.3" >+ Medium</text>
</svg>
</body></html>
